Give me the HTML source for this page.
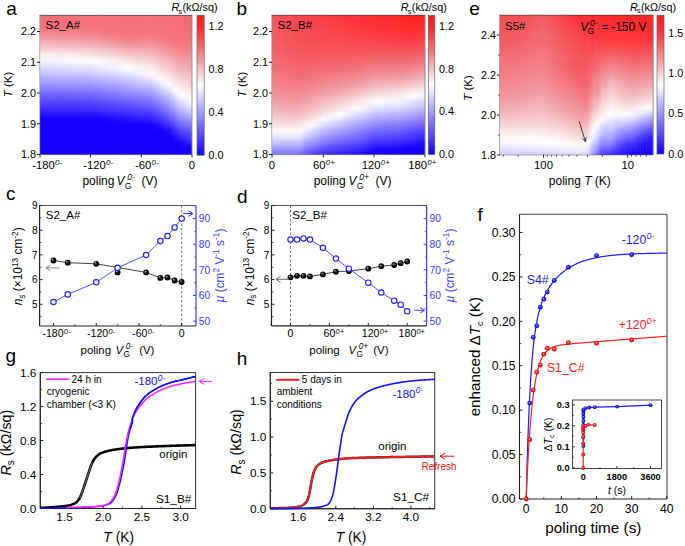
<!DOCTYPE html>
<html><head><meta charset="utf-8"><style>
html,body{margin:0;padding:0;background:#fff;}
svg{display:block;font-family:"Liberation Sans", sans-serif;}
</style></head><body>
<svg width="685" height="546" viewBox="0 0 685 546">
<defs><radialGradient id="sph" cx="0.5" cy="0.5" r="0.5" fx="0.32" fy="0.3"><stop offset="0" stop-color="#e0e0e0"/><stop offset="0.3" stop-color="#3a3a3a"/><stop offset="0.7" stop-color="#000"/><stop offset="1" stop-color="#000"/></radialGradient><radialGradient id="sphb" cx="0.5" cy="0.5" r="0.5" fx="0.4" fy="0.35"><stop offset="0" stop-color="#d0d0ff"/><stop offset="0.4" stop-color="#3030ff"/><stop offset="1" stop-color="#0000d0"/></radialGradient><radialGradient id="sphr" cx="0.5" cy="0.5" r="0.5" fx="0.4" fy="0.35"><stop offset="0" stop-color="#ffd0d0"/><stop offset="0.4" stop-color="#ff3030"/><stop offset="1" stop-color="#d00000"/></radialGradient><linearGradient id="g1" x1="0" y1="0" x2="0" y2="1"><stop offset="0" stop-color="#f37077"/><stop offset="0.04" stop-color="#f37178"/><stop offset="0.08" stop-color="#f3737a"/><stop offset="0.12" stop-color="#f3838a"/><stop offset="0.17" stop-color="#f29ea4"/><stop offset="0.21" stop-color="#f3b9be"/><stop offset="0.25" stop-color="#f6d6d9"/><stop offset="0.29" stop-color="#fcf2f3"/><stop offset="0.33" stop-color="#f3f2ff"/><stop offset="0.38" stop-color="#dcd9ff"/><stop offset="0.42" stop-color="#c5c0ff"/><stop offset="0.46" stop-color="#afa8ff"/><stop offset="0.5" stop-color="#988fff"/><stop offset="0.54" stop-color="#8176ff"/><stop offset="0.58" stop-color="#6a5eff"/><stop offset="0.62" stop-color="#5445ff"/><stop offset="0.67" stop-color="#3d2cff"/><stop offset="0.71" stop-color="#2614ff"/><stop offset="0.75" stop-color="#1400ff"/><stop offset="0.79" stop-color="#1400ff"/><stop offset="0.83" stop-color="#1400ff"/><stop offset="0.88" stop-color="#1400ff"/><stop offset="0.92" stop-color="#1400ff"/><stop offset="0.96" stop-color="#1400ff"/><stop offset="1" stop-color="#1400ff"/></linearGradient>
<linearGradient id="g2" x1="0" y1="0" x2="0" y2="1"><stop offset="0" stop-color="#f37077"/><stop offset="0.04" stop-color="#f37178"/><stop offset="0.08" stop-color="#f3737a"/><stop offset="0.12" stop-color="#f3838a"/><stop offset="0.17" stop-color="#f29da4"/><stop offset="0.21" stop-color="#f3b9be"/><stop offset="0.25" stop-color="#f6d6d9"/><stop offset="0.29" stop-color="#fcf2f3"/><stop offset="0.33" stop-color="#f3f2ff"/><stop offset="0.38" stop-color="#dcdaff"/><stop offset="0.42" stop-color="#c6c1ff"/><stop offset="0.46" stop-color="#afa8ff"/><stop offset="0.5" stop-color="#988fff"/><stop offset="0.54" stop-color="#8177ff"/><stop offset="0.58" stop-color="#6b5eff"/><stop offset="0.62" stop-color="#5445ff"/><stop offset="0.67" stop-color="#3d2dff"/><stop offset="0.71" stop-color="#2614ff"/><stop offset="0.75" stop-color="#1400ff"/><stop offset="0.79" stop-color="#1400ff"/><stop offset="0.83" stop-color="#1400ff"/><stop offset="0.88" stop-color="#1400ff"/><stop offset="0.92" stop-color="#1400ff"/><stop offset="0.96" stop-color="#1400ff"/><stop offset="1" stop-color="#1400ff"/></linearGradient>
<linearGradient id="g3" x1="0" y1="0" x2="0" y2="1"><stop offset="0" stop-color="#f37077"/><stop offset="0.04" stop-color="#f37178"/><stop offset="0.08" stop-color="#f3737a"/><stop offset="0.12" stop-color="#f38389"/><stop offset="0.17" stop-color="#f29da3"/><stop offset="0.21" stop-color="#f3b8be"/><stop offset="0.25" stop-color="#f6d5d8"/><stop offset="0.29" stop-color="#fcf1f2"/><stop offset="0.33" stop-color="#f4f3ff"/><stop offset="0.38" stop-color="#dddaff"/><stop offset="0.42" stop-color="#c6c1ff"/><stop offset="0.46" stop-color="#afa8ff"/><stop offset="0.5" stop-color="#9890ff"/><stop offset="0.54" stop-color="#8277ff"/><stop offset="0.58" stop-color="#6b5eff"/><stop offset="0.62" stop-color="#5446ff"/><stop offset="0.67" stop-color="#3d2dff"/><stop offset="0.71" stop-color="#2614ff"/><stop offset="0.75" stop-color="#1400ff"/><stop offset="0.79" stop-color="#1400ff"/><stop offset="0.83" stop-color="#1400ff"/><stop offset="0.88" stop-color="#1400ff"/><stop offset="0.92" stop-color="#1400ff"/><stop offset="0.96" stop-color="#1400ff"/><stop offset="1" stop-color="#1400ff"/></linearGradient>
<linearGradient id="g4" x1="0" y1="0" x2="0" y2="1"><stop offset="0" stop-color="#f37077"/><stop offset="0.04" stop-color="#f37178"/><stop offset="0.08" stop-color="#f3737a"/><stop offset="0.12" stop-color="#f38289"/><stop offset="0.17" stop-color="#f29da3"/><stop offset="0.21" stop-color="#f3b8bd"/><stop offset="0.25" stop-color="#f6d5d8"/><stop offset="0.29" stop-color="#fcf0f2"/><stop offset="0.33" stop-color="#f4f3ff"/><stop offset="0.38" stop-color="#dddaff"/><stop offset="0.42" stop-color="#c6c2ff"/><stop offset="0.46" stop-color="#b0a9ff"/><stop offset="0.5" stop-color="#9990ff"/><stop offset="0.54" stop-color="#8277ff"/><stop offset="0.58" stop-color="#6b5eff"/><stop offset="0.62" stop-color="#5446ff"/><stop offset="0.67" stop-color="#3d2dff"/><stop offset="0.71" stop-color="#2714ff"/><stop offset="0.75" stop-color="#1400ff"/><stop offset="0.79" stop-color="#1400ff"/><stop offset="0.83" stop-color="#1400ff"/><stop offset="0.88" stop-color="#1400ff"/><stop offset="0.92" stop-color="#1400ff"/><stop offset="0.96" stop-color="#1400ff"/><stop offset="1" stop-color="#1400ff"/></linearGradient>
<linearGradient id="g5" x1="0" y1="0" x2="0" y2="1"><stop offset="0" stop-color="#f37077"/><stop offset="0.04" stop-color="#f37178"/><stop offset="0.08" stop-color="#f3737a"/><stop offset="0.12" stop-color="#f38289"/><stop offset="0.17" stop-color="#f29ca2"/><stop offset="0.21" stop-color="#f3b7bd"/><stop offset="0.25" stop-color="#f6d4d7"/><stop offset="0.29" stop-color="#fcf0f1"/><stop offset="0.33" stop-color="#f5f4ff"/><stop offset="0.38" stop-color="#dedbff"/><stop offset="0.42" stop-color="#c7c2ff"/><stop offset="0.46" stop-color="#b0a9ff"/><stop offset="0.5" stop-color="#9990ff"/><stop offset="0.54" stop-color="#8278ff"/><stop offset="0.58" stop-color="#6b5fff"/><stop offset="0.62" stop-color="#5446ff"/><stop offset="0.67" stop-color="#3e2dff"/><stop offset="0.71" stop-color="#2714ff"/><stop offset="0.75" stop-color="#1400ff"/><stop offset="0.79" stop-color="#1400ff"/><stop offset="0.83" stop-color="#1400ff"/><stop offset="0.88" stop-color="#1400ff"/><stop offset="0.92" stop-color="#1400ff"/><stop offset="0.96" stop-color="#1400ff"/><stop offset="1" stop-color="#1400ff"/></linearGradient>
<linearGradient id="g6" x1="0" y1="0" x2="0" y2="1"><stop offset="0" stop-color="#f37077"/><stop offset="0.04" stop-color="#f37178"/><stop offset="0.08" stop-color="#f3737a"/><stop offset="0.12" stop-color="#f38288"/><stop offset="0.17" stop-color="#f29ca2"/><stop offset="0.21" stop-color="#f3b7bc"/><stop offset="0.25" stop-color="#f6d4d7"/><stop offset="0.29" stop-color="#fceff1"/><stop offset="0.33" stop-color="#f5f4ff"/><stop offset="0.38" stop-color="#dedbff"/><stop offset="0.42" stop-color="#c7c2ff"/><stop offset="0.46" stop-color="#b0aaff"/><stop offset="0.5" stop-color="#9991ff"/><stop offset="0.54" stop-color="#8278ff"/><stop offset="0.58" stop-color="#6c5fff"/><stop offset="0.62" stop-color="#5546ff"/><stop offset="0.67" stop-color="#3e2dff"/><stop offset="0.71" stop-color="#2714ff"/><stop offset="0.75" stop-color="#1400ff"/><stop offset="0.79" stop-color="#1400ff"/><stop offset="0.83" stop-color="#1400ff"/><stop offset="0.88" stop-color="#1400ff"/><stop offset="0.92" stop-color="#1400ff"/><stop offset="0.96" stop-color="#1400ff"/><stop offset="1" stop-color="#1400ff"/></linearGradient>
<linearGradient id="g7" x1="0" y1="0" x2="0" y2="1"><stop offset="0" stop-color="#f36f76"/><stop offset="0.04" stop-color="#f37178"/><stop offset="0.08" stop-color="#f3737a"/><stop offset="0.12" stop-color="#f38188"/><stop offset="0.17" stop-color="#f29ba2"/><stop offset="0.21" stop-color="#f3b6bc"/><stop offset="0.25" stop-color="#f6d3d6"/><stop offset="0.29" stop-color="#fbeff0"/><stop offset="0.33" stop-color="#f5f5ff"/><stop offset="0.38" stop-color="#dfdcff"/><stop offset="0.42" stop-color="#c8c3ff"/><stop offset="0.46" stop-color="#b1aaff"/><stop offset="0.5" stop-color="#9a91ff"/><stop offset="0.54" stop-color="#8378ff"/><stop offset="0.58" stop-color="#6c5fff"/><stop offset="0.62" stop-color="#5546ff"/><stop offset="0.67" stop-color="#3e2dff"/><stop offset="0.71" stop-color="#2715ff"/><stop offset="0.75" stop-color="#1400ff"/><stop offset="0.79" stop-color="#1400ff"/><stop offset="0.83" stop-color="#1400ff"/><stop offset="0.88" stop-color="#1400ff"/><stop offset="0.92" stop-color="#1400ff"/><stop offset="0.96" stop-color="#1400ff"/><stop offset="1" stop-color="#1400ff"/></linearGradient>
<linearGradient id="g8" x1="0" y1="0" x2="0" y2="1"><stop offset="0" stop-color="#f36f76"/><stop offset="0.04" stop-color="#f37178"/><stop offset="0.08" stop-color="#f3737a"/><stop offset="0.12" stop-color="#f38188"/><stop offset="0.17" stop-color="#f29ba1"/><stop offset="0.21" stop-color="#f3b6bb"/><stop offset="0.25" stop-color="#f6d3d6"/><stop offset="0.29" stop-color="#fbeef0"/><stop offset="0.33" stop-color="#f6f5ff"/><stop offset="0.38" stop-color="#dfdcff"/><stop offset="0.42" stop-color="#c8c3ff"/><stop offset="0.46" stop-color="#b1aaff"/><stop offset="0.5" stop-color="#9a91ff"/><stop offset="0.54" stop-color="#8378ff"/><stop offset="0.58" stop-color="#6c5fff"/><stop offset="0.62" stop-color="#5547ff"/><stop offset="0.67" stop-color="#3e2eff"/><stop offset="0.71" stop-color="#2715ff"/><stop offset="0.75" stop-color="#1400ff"/><stop offset="0.79" stop-color="#1400ff"/><stop offset="0.83" stop-color="#1400ff"/><stop offset="0.88" stop-color="#1400ff"/><stop offset="0.92" stop-color="#1400ff"/><stop offset="0.96" stop-color="#1400ff"/><stop offset="1" stop-color="#1400ff"/></linearGradient>
<linearGradient id="g9" x1="0" y1="0" x2="0" y2="1"><stop offset="0" stop-color="#f36f76"/><stop offset="0.04" stop-color="#f37178"/><stop offset="0.08" stop-color="#f3737a"/><stop offset="0.12" stop-color="#f38187"/><stop offset="0.17" stop-color="#f29ba1"/><stop offset="0.21" stop-color="#f3b6bb"/><stop offset="0.25" stop-color="#f6d2d5"/><stop offset="0.29" stop-color="#fbeeef"/><stop offset="0.33" stop-color="#f6f6ff"/><stop offset="0.38" stop-color="#dfddff"/><stop offset="0.42" stop-color="#c8c4ff"/><stop offset="0.46" stop-color="#b1abff"/><stop offset="0.5" stop-color="#9a92ff"/><stop offset="0.54" stop-color="#8379ff"/><stop offset="0.58" stop-color="#6c60ff"/><stop offset="0.62" stop-color="#5547ff"/><stop offset="0.67" stop-color="#3e2eff"/><stop offset="0.71" stop-color="#2715ff"/><stop offset="0.75" stop-color="#1400ff"/><stop offset="0.79" stop-color="#1400ff"/><stop offset="0.83" stop-color="#1400ff"/><stop offset="0.88" stop-color="#1400ff"/><stop offset="0.92" stop-color="#1400ff"/><stop offset="0.96" stop-color="#1400ff"/><stop offset="1" stop-color="#1400ff"/></linearGradient>
<linearGradient id="g10" x1="0" y1="0" x2="0" y2="1"><stop offset="0" stop-color="#f36f76"/><stop offset="0.04" stop-color="#f37178"/><stop offset="0.08" stop-color="#f3737a"/><stop offset="0.12" stop-color="#f38087"/><stop offset="0.17" stop-color="#f29aa1"/><stop offset="0.21" stop-color="#f3b5ba"/><stop offset="0.25" stop-color="#f6d2d5"/><stop offset="0.29" stop-color="#fbedef"/><stop offset="0.33" stop-color="#f7f6ff"/><stop offset="0.38" stop-color="#e0ddff"/><stop offset="0.42" stop-color="#c9c4ff"/><stop offset="0.46" stop-color="#b2abff"/><stop offset="0.5" stop-color="#9b92ff"/><stop offset="0.54" stop-color="#8479ff"/><stop offset="0.58" stop-color="#6c60ff"/><stop offset="0.62" stop-color="#5547ff"/><stop offset="0.67" stop-color="#3e2eff"/><stop offset="0.71" stop-color="#2715ff"/><stop offset="0.75" stop-color="#1400ff"/><stop offset="0.79" stop-color="#1400ff"/><stop offset="0.83" stop-color="#1400ff"/><stop offset="0.88" stop-color="#1400ff"/><stop offset="0.92" stop-color="#1400ff"/><stop offset="0.96" stop-color="#1400ff"/><stop offset="1" stop-color="#1400ff"/></linearGradient>
<linearGradient id="g11" x1="0" y1="0" x2="0" y2="1"><stop offset="0" stop-color="#f36f76"/><stop offset="0.04" stop-color="#f37178"/><stop offset="0.08" stop-color="#f3737a"/><stop offset="0.12" stop-color="#f38087"/><stop offset="0.17" stop-color="#f29aa0"/><stop offset="0.21" stop-color="#f3b5ba"/><stop offset="0.25" stop-color="#f6d1d4"/><stop offset="0.29" stop-color="#fbedee"/><stop offset="0.33" stop-color="#f7f7ff"/><stop offset="0.38" stop-color="#e0deff"/><stop offset="0.42" stop-color="#c9c5ff"/><stop offset="0.46" stop-color="#b2abff"/><stop offset="0.5" stop-color="#9b92ff"/><stop offset="0.54" stop-color="#8479ff"/><stop offset="0.58" stop-color="#6d60ff"/><stop offset="0.62" stop-color="#5647ff"/><stop offset="0.67" stop-color="#3e2eff"/><stop offset="0.71" stop-color="#2715ff"/><stop offset="0.75" stop-color="#1400ff"/><stop offset="0.79" stop-color="#1400ff"/><stop offset="0.83" stop-color="#1400ff"/><stop offset="0.88" stop-color="#1400ff"/><stop offset="0.92" stop-color="#1400ff"/><stop offset="0.96" stop-color="#1400ff"/><stop offset="1" stop-color="#1400ff"/></linearGradient>
<linearGradient id="g12" x1="0" y1="0" x2="0" y2="1"><stop offset="0" stop-color="#f36f76"/><stop offset="0.04" stop-color="#f37178"/><stop offset="0.08" stop-color="#f3737a"/><stop offset="0.12" stop-color="#f37f86"/><stop offset="0.17" stop-color="#f299a0"/><stop offset="0.21" stop-color="#f3b4ba"/><stop offset="0.25" stop-color="#f5d1d4"/><stop offset="0.29" stop-color="#fbecee"/><stop offset="0.33" stop-color="#f8f7ff"/><stop offset="0.38" stop-color="#e1deff"/><stop offset="0.42" stop-color="#c9c5ff"/><stop offset="0.46" stop-color="#b2acff"/><stop offset="0.5" stop-color="#9b93ff"/><stop offset="0.54" stop-color="#847aff"/><stop offset="0.58" stop-color="#6d60ff"/><stop offset="0.62" stop-color="#5647ff"/><stop offset="0.67" stop-color="#3f2eff"/><stop offset="0.71" stop-color="#2715ff"/><stop offset="0.75" stop-color="#1400ff"/><stop offset="0.79" stop-color="#1400ff"/><stop offset="0.83" stop-color="#1400ff"/><stop offset="0.88" stop-color="#1400ff"/><stop offset="0.92" stop-color="#1400ff"/><stop offset="0.96" stop-color="#1400ff"/><stop offset="1" stop-color="#1400ff"/></linearGradient>
<linearGradient id="g13" x1="0" y1="0" x2="0" y2="1"><stop offset="0" stop-color="#f36f76"/><stop offset="0.04" stop-color="#f37178"/><stop offset="0.08" stop-color="#f3737a"/><stop offset="0.12" stop-color="#f37f86"/><stop offset="0.17" stop-color="#f2999f"/><stop offset="0.21" stop-color="#f3b4b9"/><stop offset="0.25" stop-color="#f5d0d3"/><stop offset="0.29" stop-color="#fbeced"/><stop offset="0.33" stop-color="#f8f8ff"/><stop offset="0.38" stop-color="#e1deff"/><stop offset="0.42" stop-color="#cac5ff"/><stop offset="0.46" stop-color="#b3acff"/><stop offset="0.5" stop-color="#9c93ff"/><stop offset="0.54" stop-color="#847aff"/><stop offset="0.58" stop-color="#6d61ff"/><stop offset="0.62" stop-color="#5648ff"/><stop offset="0.67" stop-color="#3f2eff"/><stop offset="0.71" stop-color="#2815ff"/><stop offset="0.75" stop-color="#1400ff"/><stop offset="0.79" stop-color="#1400ff"/><stop offset="0.83" stop-color="#1400ff"/><stop offset="0.88" stop-color="#1400ff"/><stop offset="0.92" stop-color="#1400ff"/><stop offset="0.96" stop-color="#1400ff"/><stop offset="1" stop-color="#1400ff"/></linearGradient>
<linearGradient id="g14" x1="0" y1="0" x2="0" y2="1"><stop offset="0" stop-color="#f36f76"/><stop offset="0.04" stop-color="#f37178"/><stop offset="0.08" stop-color="#f3737a"/><stop offset="0.12" stop-color="#f37f86"/><stop offset="0.17" stop-color="#f2999f"/><stop offset="0.21" stop-color="#f3b3b9"/><stop offset="0.25" stop-color="#f5d0d3"/><stop offset="0.29" stop-color="#fbebed"/><stop offset="0.33" stop-color="#f9f8ff"/><stop offset="0.38" stop-color="#e1dfff"/><stop offset="0.42" stop-color="#cac6ff"/><stop offset="0.46" stop-color="#b3adff"/><stop offset="0.5" stop-color="#9c93ff"/><stop offset="0.54" stop-color="#857aff"/><stop offset="0.58" stop-color="#6d61ff"/><stop offset="0.62" stop-color="#5648ff"/><stop offset="0.67" stop-color="#3f2fff"/><stop offset="0.71" stop-color="#2815ff"/><stop offset="0.75" stop-color="#1400ff"/><stop offset="0.79" stop-color="#1400ff"/><stop offset="0.83" stop-color="#1400ff"/><stop offset="0.88" stop-color="#1400ff"/><stop offset="0.92" stop-color="#1400ff"/><stop offset="0.96" stop-color="#1400ff"/><stop offset="1" stop-color="#1400ff"/></linearGradient>
<linearGradient id="g15" x1="0" y1="0" x2="0" y2="1"><stop offset="0" stop-color="#f36f76"/><stop offset="0.04" stop-color="#f37178"/><stop offset="0.08" stop-color="#f3737a"/><stop offset="0.12" stop-color="#f37e85"/><stop offset="0.17" stop-color="#f2989f"/><stop offset="0.21" stop-color="#f3b3b8"/><stop offset="0.25" stop-color="#f5cfd3"/><stop offset="0.29" stop-color="#fbebec"/><stop offset="0.33" stop-color="#f9f9ff"/><stop offset="0.38" stop-color="#e2dfff"/><stop offset="0.42" stop-color="#cbc6ff"/><stop offset="0.46" stop-color="#b3adff"/><stop offset="0.5" stop-color="#9c94ff"/><stop offset="0.54" stop-color="#857aff"/><stop offset="0.58" stop-color="#6e61ff"/><stop offset="0.62" stop-color="#5648ff"/><stop offset="0.67" stop-color="#3f2fff"/><stop offset="0.71" stop-color="#2816ff"/><stop offset="0.75" stop-color="#1400ff"/><stop offset="0.79" stop-color="#1400ff"/><stop offset="0.83" stop-color="#1400ff"/><stop offset="0.88" stop-color="#1400ff"/><stop offset="0.92" stop-color="#1400ff"/><stop offset="0.96" stop-color="#1400ff"/><stop offset="1" stop-color="#1400ff"/></linearGradient>
<linearGradient id="g16" x1="0" y1="0" x2="0" y2="1"><stop offset="0" stop-color="#f36f76"/><stop offset="0.04" stop-color="#f37178"/><stop offset="0.08" stop-color="#f3737a"/><stop offset="0.12" stop-color="#f37e85"/><stop offset="0.17" stop-color="#f2989e"/><stop offset="0.21" stop-color="#f3b2b8"/><stop offset="0.25" stop-color="#f5cfd2"/><stop offset="0.29" stop-color="#faeaec"/><stop offset="0.33" stop-color="#faf9ff"/><stop offset="0.38" stop-color="#e2e0ff"/><stop offset="0.42" stop-color="#cbc7ff"/><stop offset="0.46" stop-color="#b4adff"/><stop offset="0.5" stop-color="#9c94ff"/><stop offset="0.54" stop-color="#857bff"/><stop offset="0.58" stop-color="#6e61ff"/><stop offset="0.62" stop-color="#5748ff"/><stop offset="0.67" stop-color="#3f2fff"/><stop offset="0.71" stop-color="#2816ff"/><stop offset="0.75" stop-color="#1400ff"/><stop offset="0.79" stop-color="#1400ff"/><stop offset="0.83" stop-color="#1400ff"/><stop offset="0.88" stop-color="#1400ff"/><stop offset="0.92" stop-color="#1400ff"/><stop offset="0.96" stop-color="#1400ff"/><stop offset="1" stop-color="#1400ff"/></linearGradient>
<linearGradient id="g17" x1="0" y1="0" x2="0" y2="1"><stop offset="0" stop-color="#f36f76"/><stop offset="0.04" stop-color="#f37178"/><stop offset="0.08" stop-color="#f3737a"/><stop offset="0.12" stop-color="#f37e85"/><stop offset="0.17" stop-color="#f2979e"/><stop offset="0.21" stop-color="#f3b2b7"/><stop offset="0.25" stop-color="#f5ced2"/><stop offset="0.29" stop-color="#faeaeb"/><stop offset="0.33" stop-color="#fafaff"/><stop offset="0.38" stop-color="#e3e0ff"/><stop offset="0.42" stop-color="#cbc7ff"/><stop offset="0.46" stop-color="#b4aeff"/><stop offset="0.5" stop-color="#9d94ff"/><stop offset="0.54" stop-color="#857bff"/><stop offset="0.58" stop-color="#6e62ff"/><stop offset="0.62" stop-color="#5748ff"/><stop offset="0.67" stop-color="#3f2fff"/><stop offset="0.71" stop-color="#2816ff"/><stop offset="0.75" stop-color="#1400ff"/><stop offset="0.79" stop-color="#1400ff"/><stop offset="0.83" stop-color="#1400ff"/><stop offset="0.88" stop-color="#1400ff"/><stop offset="0.92" stop-color="#1400ff"/><stop offset="0.96" stop-color="#1400ff"/><stop offset="1" stop-color="#1400ff"/></linearGradient>
<linearGradient id="g18" x1="0" y1="0" x2="0" y2="1"><stop offset="0" stop-color="#f36f76"/><stop offset="0.04" stop-color="#f37178"/><stop offset="0.08" stop-color="#f3737a"/><stop offset="0.12" stop-color="#f37d84"/><stop offset="0.17" stop-color="#f2979d"/><stop offset="0.21" stop-color="#f3b1b7"/><stop offset="0.25" stop-color="#f5ced1"/><stop offset="0.29" stop-color="#fae9eb"/><stop offset="0.33" stop-color="#fbfaff"/><stop offset="0.38" stop-color="#e3e1ff"/><stop offset="0.42" stop-color="#ccc7ff"/><stop offset="0.46" stop-color="#b4aeff"/><stop offset="0.5" stop-color="#9d95ff"/><stop offset="0.54" stop-color="#867bff"/><stop offset="0.58" stop-color="#6e62ff"/><stop offset="0.62" stop-color="#5749ff"/><stop offset="0.67" stop-color="#402fff"/><stop offset="0.71" stop-color="#2816ff"/><stop offset="0.75" stop-color="#1400ff"/><stop offset="0.79" stop-color="#1400ff"/><stop offset="0.83" stop-color="#1400ff"/><stop offset="0.88" stop-color="#1400ff"/><stop offset="0.92" stop-color="#1400ff"/><stop offset="0.96" stop-color="#1400ff"/><stop offset="1" stop-color="#1400ff"/></linearGradient>
<linearGradient id="g19" x1="0" y1="0" x2="0" y2="1"><stop offset="0" stop-color="#f36f76"/><stop offset="0.04" stop-color="#f37178"/><stop offset="0.08" stop-color="#f3737a"/><stop offset="0.12" stop-color="#f37d84"/><stop offset="0.17" stop-color="#f2979d"/><stop offset="0.21" stop-color="#f2b1b7"/><stop offset="0.25" stop-color="#f5cdd1"/><stop offset="0.29" stop-color="#fae9ea"/><stop offset="0.33" stop-color="#fbfbff"/><stop offset="0.38" stop-color="#e4e1ff"/><stop offset="0.42" stop-color="#ccc8ff"/><stop offset="0.46" stop-color="#b5aeff"/><stop offset="0.5" stop-color="#9d95ff"/><stop offset="0.54" stop-color="#867cff"/><stop offset="0.58" stop-color="#6f62ff"/><stop offset="0.62" stop-color="#5749ff"/><stop offset="0.67" stop-color="#402fff"/><stop offset="0.71" stop-color="#2816ff"/><stop offset="0.75" stop-color="#1400ff"/><stop offset="0.79" stop-color="#1400ff"/><stop offset="0.83" stop-color="#1400ff"/><stop offset="0.88" stop-color="#1400ff"/><stop offset="0.92" stop-color="#1400ff"/><stop offset="0.96" stop-color="#1400ff"/><stop offset="1" stop-color="#1400ff"/></linearGradient>
<linearGradient id="g20" x1="0" y1="0" x2="0" y2="1"><stop offset="0" stop-color="#f36f76"/><stop offset="0.04" stop-color="#f37178"/><stop offset="0.08" stop-color="#f3737a"/><stop offset="0.12" stop-color="#f37d83"/><stop offset="0.17" stop-color="#f2969d"/><stop offset="0.21" stop-color="#f2b0b6"/><stop offset="0.25" stop-color="#f5cdd0"/><stop offset="0.29" stop-color="#fae8ea"/><stop offset="0.33" stop-color="#fbfbff"/><stop offset="0.38" stop-color="#e4e2ff"/><stop offset="0.42" stop-color="#cdc8ff"/><stop offset="0.46" stop-color="#b5afff"/><stop offset="0.5" stop-color="#9e95ff"/><stop offset="0.54" stop-color="#867cff"/><stop offset="0.58" stop-color="#6f63ff"/><stop offset="0.62" stop-color="#5749ff"/><stop offset="0.67" stop-color="#4030ff"/><stop offset="0.71" stop-color="#2816ff"/><stop offset="0.75" stop-color="#1400ff"/><stop offset="0.79" stop-color="#1400ff"/><stop offset="0.83" stop-color="#1400ff"/><stop offset="0.88" stop-color="#1400ff"/><stop offset="0.92" stop-color="#1400ff"/><stop offset="0.96" stop-color="#1400ff"/><stop offset="1" stop-color="#1400ff"/></linearGradient>
<linearGradient id="g21" x1="0" y1="0" x2="0" y2="1"><stop offset="0" stop-color="#f36f76"/><stop offset="0.04" stop-color="#f37178"/><stop offset="0.08" stop-color="#f3737a"/><stop offset="0.12" stop-color="#f37c83"/><stop offset="0.17" stop-color="#f2969c"/><stop offset="0.21" stop-color="#f2b0b6"/><stop offset="0.25" stop-color="#f5ccd0"/><stop offset="0.29" stop-color="#fae7e9"/><stop offset="0.33" stop-color="#fcfcff"/><stop offset="0.38" stop-color="#e5e2ff"/><stop offset="0.42" stop-color="#cdc9ff"/><stop offset="0.46" stop-color="#b6afff"/><stop offset="0.5" stop-color="#9e96ff"/><stop offset="0.54" stop-color="#877cff"/><stop offset="0.58" stop-color="#6f63ff"/><stop offset="0.62" stop-color="#5849ff"/><stop offset="0.67" stop-color="#4030ff"/><stop offset="0.71" stop-color="#2916ff"/><stop offset="0.75" stop-color="#1400ff"/><stop offset="0.79" stop-color="#1400ff"/><stop offset="0.83" stop-color="#1400ff"/><stop offset="0.88" stop-color="#1400ff"/><stop offset="0.92" stop-color="#1400ff"/><stop offset="0.96" stop-color="#1400ff"/><stop offset="1" stop-color="#1400ff"/></linearGradient>
<linearGradient id="g22" x1="0" y1="0" x2="0" y2="1"><stop offset="0" stop-color="#f36f76"/><stop offset="0.04" stop-color="#f37178"/><stop offset="0.08" stop-color="#f3737a"/><stop offset="0.12" stop-color="#f37b82"/><stop offset="0.17" stop-color="#f2949b"/><stop offset="0.21" stop-color="#f2aeb4"/><stop offset="0.25" stop-color="#f5cace"/><stop offset="0.29" stop-color="#f9e6e7"/><stop offset="0.33" stop-color="#fefdff"/><stop offset="0.38" stop-color="#e6e4ff"/><stop offset="0.42" stop-color="#cfcaff"/><stop offset="0.46" stop-color="#b7b1ff"/><stop offset="0.5" stop-color="#a097ff"/><stop offset="0.54" stop-color="#887eff"/><stop offset="0.58" stop-color="#7064ff"/><stop offset="0.62" stop-color="#594bff"/><stop offset="0.67" stop-color="#4131ff"/><stop offset="0.71" stop-color="#2a18ff"/><stop offset="0.75" stop-color="#1400ff"/><stop offset="0.79" stop-color="#1400ff"/><stop offset="0.83" stop-color="#1400ff"/><stop offset="0.88" stop-color="#1400ff"/><stop offset="0.92" stop-color="#1400ff"/><stop offset="0.96" stop-color="#1400ff"/><stop offset="1" stop-color="#1400ff"/></linearGradient>
<linearGradient id="g23" x1="0" y1="0" x2="0" y2="1"><stop offset="0" stop-color="#f36f76"/><stop offset="0.04" stop-color="#f37178"/><stop offset="0.08" stop-color="#f3737a"/><stop offset="0.12" stop-color="#f37980"/><stop offset="0.17" stop-color="#f29399"/><stop offset="0.21" stop-color="#f2acb2"/><stop offset="0.25" stop-color="#f5c8cc"/><stop offset="0.29" stop-color="#f9e4e6"/><stop offset="0.33" stop-color="#ffffff"/><stop offset="0.38" stop-color="#e8e6ff"/><stop offset="0.42" stop-color="#d0ccff"/><stop offset="0.46" stop-color="#b8b2ff"/><stop offset="0.5" stop-color="#a199ff"/><stop offset="0.54" stop-color="#897fff"/><stop offset="0.58" stop-color="#7266ff"/><stop offset="0.62" stop-color="#5a4cff"/><stop offset="0.67" stop-color="#4333ff"/><stop offset="0.71" stop-color="#2b19ff"/><stop offset="0.75" stop-color="#1400ff"/><stop offset="0.79" stop-color="#1400ff"/><stop offset="0.83" stop-color="#1400ff"/><stop offset="0.88" stop-color="#1400ff"/><stop offset="0.92" stop-color="#1400ff"/><stop offset="0.96" stop-color="#1400ff"/><stop offset="1" stop-color="#1400ff"/></linearGradient>
<linearGradient id="g24" x1="0" y1="0" x2="0" y2="1"><stop offset="0" stop-color="#f36f76"/><stop offset="0.04" stop-color="#f37178"/><stop offset="0.08" stop-color="#f37279"/><stop offset="0.12" stop-color="#f3787f"/><stop offset="0.17" stop-color="#f29198"/><stop offset="0.21" stop-color="#f2abb1"/><stop offset="0.25" stop-color="#f5c7cb"/><stop offset="0.29" stop-color="#f9e2e4"/><stop offset="0.33" stop-color="#fffdfd"/><stop offset="0.38" stop-color="#e9e7ff"/><stop offset="0.42" stop-color="#d2ceff"/><stop offset="0.46" stop-color="#bab4ff"/><stop offset="0.5" stop-color="#a29aff"/><stop offset="0.54" stop-color="#8b81ff"/><stop offset="0.58" stop-color="#7367ff"/><stop offset="0.62" stop-color="#5c4eff"/><stop offset="0.67" stop-color="#4434ff"/><stop offset="0.71" stop-color="#2c1aff"/><stop offset="0.75" stop-color="#1501ff"/><stop offset="0.79" stop-color="#1400ff"/><stop offset="0.83" stop-color="#1400ff"/><stop offset="0.88" stop-color="#1400ff"/><stop offset="0.92" stop-color="#1400ff"/><stop offset="0.96" stop-color="#1400ff"/><stop offset="1" stop-color="#1400ff"/></linearGradient>
<linearGradient id="g25" x1="0" y1="0" x2="0" y2="1"><stop offset="0" stop-color="#f36f76"/><stop offset="0.04" stop-color="#f37178"/><stop offset="0.08" stop-color="#f37279"/><stop offset="0.12" stop-color="#f3767d"/><stop offset="0.17" stop-color="#f29096"/><stop offset="0.21" stop-color="#f2a9af"/><stop offset="0.25" stop-color="#f4c5c9"/><stop offset="0.29" stop-color="#f8e0e3"/><stop offset="0.33" stop-color="#fefbfc"/><stop offset="0.38" stop-color="#ebe9ff"/><stop offset="0.42" stop-color="#d3cfff"/><stop offset="0.46" stop-color="#bbb6ff"/><stop offset="0.5" stop-color="#a49cff"/><stop offset="0.54" stop-color="#8c82ff"/><stop offset="0.58" stop-color="#7469ff"/><stop offset="0.62" stop-color="#5d4fff"/><stop offset="0.67" stop-color="#4535ff"/><stop offset="0.71" stop-color="#2e1cff"/><stop offset="0.75" stop-color="#1602ff"/><stop offset="0.79" stop-color="#1400ff"/><stop offset="0.83" stop-color="#1400ff"/><stop offset="0.88" stop-color="#1400ff"/><stop offset="0.92" stop-color="#1400ff"/><stop offset="0.96" stop-color="#1400ff"/><stop offset="1" stop-color="#1400ff"/></linearGradient>
<linearGradient id="g26" x1="0" y1="0" x2="0" y2="1"><stop offset="0" stop-color="#f36f76"/><stop offset="0.04" stop-color="#f37077"/><stop offset="0.08" stop-color="#f37279"/><stop offset="0.12" stop-color="#f3757c"/><stop offset="0.17" stop-color="#f38e95"/><stop offset="0.21" stop-color="#f2a8ae"/><stop offset="0.25" stop-color="#f4c3c7"/><stop offset="0.29" stop-color="#f8dfe1"/><stop offset="0.33" stop-color="#fef9fa"/><stop offset="0.38" stop-color="#ecebff"/><stop offset="0.42" stop-color="#d5d1ff"/><stop offset="0.46" stop-color="#bdb7ff"/><stop offset="0.5" stop-color="#a59eff"/><stop offset="0.54" stop-color="#8d84ff"/><stop offset="0.58" stop-color="#766aff"/><stop offset="0.62" stop-color="#5e50ff"/><stop offset="0.67" stop-color="#4637ff"/><stop offset="0.71" stop-color="#2f1dff"/><stop offset="0.75" stop-color="#1703ff"/><stop offset="0.79" stop-color="#1400ff"/><stop offset="0.83" stop-color="#1400ff"/><stop offset="0.88" stop-color="#1400ff"/><stop offset="0.92" stop-color="#1400ff"/><stop offset="0.96" stop-color="#1400ff"/><stop offset="1" stop-color="#1400ff"/></linearGradient>
<linearGradient id="g27" x1="0" y1="0" x2="0" y2="1"><stop offset="0" stop-color="#f36f76"/><stop offset="0.04" stop-color="#f37077"/><stop offset="0.08" stop-color="#f37279"/><stop offset="0.12" stop-color="#f3747b"/><stop offset="0.17" stop-color="#f38d93"/><stop offset="0.21" stop-color="#f2a6ac"/><stop offset="0.25" stop-color="#f4c1c6"/><stop offset="0.29" stop-color="#f8dddf"/><stop offset="0.33" stop-color="#fdf8f8"/><stop offset="0.38" stop-color="#eeecff"/><stop offset="0.42" stop-color="#d6d3ff"/><stop offset="0.46" stop-color="#beb9ff"/><stop offset="0.5" stop-color="#a79fff"/><stop offset="0.54" stop-color="#8f85ff"/><stop offset="0.58" stop-color="#776cff"/><stop offset="0.62" stop-color="#5f52ff"/><stop offset="0.67" stop-color="#4838ff"/><stop offset="0.71" stop-color="#301eff"/><stop offset="0.75" stop-color="#1805ff"/><stop offset="0.79" stop-color="#1400ff"/><stop offset="0.83" stop-color="#1400ff"/><stop offset="0.88" stop-color="#1400ff"/><stop offset="0.92" stop-color="#1400ff"/><stop offset="0.96" stop-color="#1400ff"/><stop offset="1" stop-color="#1400ff"/></linearGradient>
<linearGradient id="g28" x1="0" y1="0" x2="0" y2="1"><stop offset="0" stop-color="#f36e75"/><stop offset="0.04" stop-color="#f37077"/><stop offset="0.08" stop-color="#f37279"/><stop offset="0.12" stop-color="#f3747b"/><stop offset="0.17" stop-color="#f38b92"/><stop offset="0.21" stop-color="#f2a4ab"/><stop offset="0.25" stop-color="#f4c0c4"/><stop offset="0.29" stop-color="#f7dbde"/><stop offset="0.33" stop-color="#fdf6f7"/><stop offset="0.38" stop-color="#efeeff"/><stop offset="0.42" stop-color="#d8d4ff"/><stop offset="0.46" stop-color="#c0baff"/><stop offset="0.5" stop-color="#a8a1ff"/><stop offset="0.54" stop-color="#9087ff"/><stop offset="0.58" stop-color="#786dff"/><stop offset="0.62" stop-color="#6153ff"/><stop offset="0.67" stop-color="#4939ff"/><stop offset="0.71" stop-color="#3120ff"/><stop offset="0.75" stop-color="#1906ff"/><stop offset="0.79" stop-color="#1400ff"/><stop offset="0.83" stop-color="#1400ff"/><stop offset="0.88" stop-color="#1400ff"/><stop offset="0.92" stop-color="#1400ff"/><stop offset="0.96" stop-color="#1400ff"/><stop offset="1" stop-color="#1400ff"/></linearGradient>
<linearGradient id="g29" x1="0" y1="0" x2="0" y2="1"><stop offset="0" stop-color="#f36e75"/><stop offset="0.04" stop-color="#f37077"/><stop offset="0.08" stop-color="#f37279"/><stop offset="0.12" stop-color="#f3747b"/><stop offset="0.17" stop-color="#f38a90"/><stop offset="0.21" stop-color="#f2a3a9"/><stop offset="0.25" stop-color="#f4bec3"/><stop offset="0.29" stop-color="#f7d9dc"/><stop offset="0.33" stop-color="#fdf4f5"/><stop offset="0.38" stop-color="#f1f0ff"/><stop offset="0.42" stop-color="#d9d6ff"/><stop offset="0.46" stop-color="#c1bcff"/><stop offset="0.5" stop-color="#a9a2ff"/><stop offset="0.54" stop-color="#9288ff"/><stop offset="0.58" stop-color="#7a6fff"/><stop offset="0.62" stop-color="#6255ff"/><stop offset="0.67" stop-color="#4a3bff"/><stop offset="0.71" stop-color="#3221ff"/><stop offset="0.75" stop-color="#1b07ff"/><stop offset="0.79" stop-color="#1400ff"/><stop offset="0.83" stop-color="#1400ff"/><stop offset="0.88" stop-color="#1400ff"/><stop offset="0.92" stop-color="#1400ff"/><stop offset="0.96" stop-color="#1400ff"/><stop offset="1" stop-color="#1400ff"/></linearGradient>
<linearGradient id="g30" x1="0" y1="0" x2="0" y2="1"><stop offset="0" stop-color="#f36e75"/><stop offset="0.04" stop-color="#f37077"/><stop offset="0.08" stop-color="#f37279"/><stop offset="0.12" stop-color="#f3747b"/><stop offset="0.17" stop-color="#f3888f"/><stop offset="0.21" stop-color="#f2a1a7"/><stop offset="0.25" stop-color="#f4bcc1"/><stop offset="0.29" stop-color="#f6d8db"/><stop offset="0.33" stop-color="#fcf2f3"/><stop offset="0.38" stop-color="#f2f1ff"/><stop offset="0.42" stop-color="#dbd7ff"/><stop offset="0.46" stop-color="#c3beff"/><stop offset="0.5" stop-color="#aba4ff"/><stop offset="0.54" stop-color="#938aff"/><stop offset="0.58" stop-color="#7b70ff"/><stop offset="0.62" stop-color="#6356ff"/><stop offset="0.67" stop-color="#4c3cff"/><stop offset="0.71" stop-color="#3422ff"/><stop offset="0.75" stop-color="#1c08ff"/><stop offset="0.79" stop-color="#1400ff"/><stop offset="0.83" stop-color="#1400ff"/><stop offset="0.88" stop-color="#1400ff"/><stop offset="0.92" stop-color="#1400ff"/><stop offset="0.96" stop-color="#1400ff"/><stop offset="1" stop-color="#1400ff"/></linearGradient>
<linearGradient id="g31" x1="0" y1="0" x2="0" y2="1"><stop offset="0" stop-color="#f36e75"/><stop offset="0.04" stop-color="#f37077"/><stop offset="0.08" stop-color="#f37279"/><stop offset="0.12" stop-color="#f3747b"/><stop offset="0.17" stop-color="#f3868d"/><stop offset="0.21" stop-color="#f2a0a6"/><stop offset="0.25" stop-color="#f3babf"/><stop offset="0.29" stop-color="#f6d6d9"/><stop offset="0.33" stop-color="#fcf1f2"/><stop offset="0.38" stop-color="#f4f3ff"/><stop offset="0.42" stop-color="#dcd9ff"/><stop offset="0.46" stop-color="#c4bfff"/><stop offset="0.5" stop-color="#aca5ff"/><stop offset="0.54" stop-color="#948bff"/><stop offset="0.58" stop-color="#7d71ff"/><stop offset="0.62" stop-color="#6558ff"/><stop offset="0.67" stop-color="#4d3eff"/><stop offset="0.71" stop-color="#3524ff"/><stop offset="0.75" stop-color="#1d0aff"/><stop offset="0.79" stop-color="#1400ff"/><stop offset="0.83" stop-color="#1400ff"/><stop offset="0.88" stop-color="#1400ff"/><stop offset="0.92" stop-color="#1400ff"/><stop offset="0.96" stop-color="#1400ff"/><stop offset="1" stop-color="#1400ff"/></linearGradient>
<linearGradient id="g32" x1="0" y1="0" x2="0" y2="1"><stop offset="0" stop-color="#f36e75"/><stop offset="0.04" stop-color="#f37077"/><stop offset="0.08" stop-color="#f37279"/><stop offset="0.12" stop-color="#f3737a"/><stop offset="0.17" stop-color="#f3848b"/><stop offset="0.21" stop-color="#f29ea4"/><stop offset="0.25" stop-color="#f3b8bd"/><stop offset="0.29" stop-color="#f6d4d7"/><stop offset="0.33" stop-color="#fbeeef"/><stop offset="0.38" stop-color="#f6f5ff"/><stop offset="0.42" stop-color="#dedbff"/><stop offset="0.46" stop-color="#c6c1ff"/><stop offset="0.5" stop-color="#aea7ff"/><stop offset="0.54" stop-color="#968eff"/><stop offset="0.58" stop-color="#7e74ff"/><stop offset="0.62" stop-color="#675aff"/><stop offset="0.67" stop-color="#4f40ff"/><stop offset="0.71" stop-color="#3726ff"/><stop offset="0.75" stop-color="#1f0cff"/><stop offset="0.79" stop-color="#1400ff"/><stop offset="0.83" stop-color="#1400ff"/><stop offset="0.88" stop-color="#1400ff"/><stop offset="0.92" stop-color="#1400ff"/><stop offset="0.96" stop-color="#1400ff"/><stop offset="1" stop-color="#1400ff"/></linearGradient>
<linearGradient id="g33" x1="0" y1="0" x2="0" y2="1"><stop offset="0" stop-color="#f36e75"/><stop offset="0.04" stop-color="#f37077"/><stop offset="0.08" stop-color="#f37178"/><stop offset="0.12" stop-color="#f3737a"/><stop offset="0.17" stop-color="#f38289"/><stop offset="0.21" stop-color="#f29ba1"/><stop offset="0.25" stop-color="#f3b5bb"/><stop offset="0.29" stop-color="#f6d1d4"/><stop offset="0.33" stop-color="#fbeced"/><stop offset="0.38" stop-color="#f8f8ff"/><stop offset="0.42" stop-color="#e0deff"/><stop offset="0.46" stop-color="#c8c4ff"/><stop offset="0.5" stop-color="#b0aaff"/><stop offset="0.54" stop-color="#9890ff"/><stop offset="0.58" stop-color="#8076ff"/><stop offset="0.62" stop-color="#685cff"/><stop offset="0.67" stop-color="#5041ff"/><stop offset="0.71" stop-color="#3827ff"/><stop offset="0.75" stop-color="#200dff"/><stop offset="0.79" stop-color="#1400ff"/><stop offset="0.83" stop-color="#1400ff"/><stop offset="0.88" stop-color="#1400ff"/><stop offset="0.92" stop-color="#1400ff"/><stop offset="0.96" stop-color="#1400ff"/><stop offset="1" stop-color="#1400ff"/></linearGradient>
<linearGradient id="g34" x1="0" y1="0" x2="0" y2="1"><stop offset="0" stop-color="#f36e75"/><stop offset="0.04" stop-color="#f36f76"/><stop offset="0.08" stop-color="#f37178"/><stop offset="0.12" stop-color="#f3737a"/><stop offset="0.17" stop-color="#f38086"/><stop offset="0.21" stop-color="#f2999f"/><stop offset="0.25" stop-color="#f3b3b8"/><stop offset="0.29" stop-color="#f5ced2"/><stop offset="0.33" stop-color="#fae9eb"/><stop offset="0.38" stop-color="#fbfbff"/><stop offset="0.42" stop-color="#e3e0ff"/><stop offset="0.46" stop-color="#cbc6ff"/><stop offset="0.5" stop-color="#b2acff"/><stop offset="0.54" stop-color="#9a92ff"/><stop offset="0.58" stop-color="#8277ff"/><stop offset="0.62" stop-color="#6a5dff"/><stop offset="0.67" stop-color="#5243ff"/><stop offset="0.71" stop-color="#3929ff"/><stop offset="0.75" stop-color="#210eff"/><stop offset="0.79" stop-color="#1400ff"/><stop offset="0.83" stop-color="#1400ff"/><stop offset="0.88" stop-color="#1400ff"/><stop offset="0.92" stop-color="#1400ff"/><stop offset="0.96" stop-color="#1400ff"/><stop offset="1" stop-color="#1400ff"/></linearGradient>
<linearGradient id="g35" x1="0" y1="0" x2="0" y2="1"><stop offset="0" stop-color="#f36d74"/><stop offset="0.04" stop-color="#f36f76"/><stop offset="0.08" stop-color="#f37178"/><stop offset="0.12" stop-color="#f3737a"/><stop offset="0.17" stop-color="#f37d84"/><stop offset="0.21" stop-color="#f2969d"/><stop offset="0.25" stop-color="#f2b0b6"/><stop offset="0.29" stop-color="#f5cbcf"/><stop offset="0.33" stop-color="#fae6e8"/><stop offset="0.38" stop-color="#fdfdff"/><stop offset="0.42" stop-color="#e5e3ff"/><stop offset="0.46" stop-color="#cdc8ff"/><stop offset="0.5" stop-color="#b4aeff"/><stop offset="0.54" stop-color="#9c94ff"/><stop offset="0.58" stop-color="#8479ff"/><stop offset="0.62" stop-color="#6b5fff"/><stop offset="0.67" stop-color="#5344ff"/><stop offset="0.71" stop-color="#3b2aff"/><stop offset="0.75" stop-color="#220fff"/><stop offset="0.79" stop-color="#1400ff"/><stop offset="0.83" stop-color="#1400ff"/><stop offset="0.88" stop-color="#1400ff"/><stop offset="0.92" stop-color="#1400ff"/><stop offset="0.96" stop-color="#1400ff"/><stop offset="1" stop-color="#1400ff"/></linearGradient>
<linearGradient id="g36" x1="0" y1="0" x2="0" y2="1"><stop offset="0" stop-color="#f36d74"/><stop offset="0.04" stop-color="#f36f76"/><stop offset="0.08" stop-color="#f37178"/><stop offset="0.12" stop-color="#f3737a"/><stop offset="0.17" stop-color="#f37b82"/><stop offset="0.21" stop-color="#f2949a"/><stop offset="0.25" stop-color="#f2adb3"/><stop offset="0.29" stop-color="#f5c9cd"/><stop offset="0.33" stop-color="#f9e4e6"/><stop offset="0.38" stop-color="#fffefe"/><stop offset="0.42" stop-color="#e7e5ff"/><stop offset="0.46" stop-color="#cfcbff"/><stop offset="0.5" stop-color="#b6b0ff"/><stop offset="0.54" stop-color="#9e95ff"/><stop offset="0.58" stop-color="#857bff"/><stop offset="0.62" stop-color="#6d60ff"/><stop offset="0.67" stop-color="#5446ff"/><stop offset="0.71" stop-color="#3c2bff"/><stop offset="0.75" stop-color="#2310ff"/><stop offset="0.79" stop-color="#1400ff"/><stop offset="0.83" stop-color="#1400ff"/><stop offset="0.88" stop-color="#1400ff"/><stop offset="0.92" stop-color="#1400ff"/><stop offset="0.96" stop-color="#1400ff"/><stop offset="1" stop-color="#1400ff"/></linearGradient>
<linearGradient id="g37" x1="0" y1="0" x2="0" y2="1"><stop offset="0" stop-color="#f36d74"/><stop offset="0.04" stop-color="#f36f76"/><stop offset="0.08" stop-color="#f37178"/><stop offset="0.12" stop-color="#f3737a"/><stop offset="0.17" stop-color="#f37a81"/><stop offset="0.21" stop-color="#f2939a"/><stop offset="0.25" stop-color="#f2acb2"/><stop offset="0.29" stop-color="#f5c7cb"/><stop offset="0.33" stop-color="#f9e2e4"/><stop offset="0.38" stop-color="#fefcfc"/><stop offset="0.42" stop-color="#eae8ff"/><stop offset="0.46" stop-color="#d1cdff"/><stop offset="0.5" stop-color="#b8b2ff"/><stop offset="0.54" stop-color="#a097ff"/><stop offset="0.58" stop-color="#877dff"/><stop offset="0.62" stop-color="#6e62ff"/><stop offset="0.67" stop-color="#5647ff"/><stop offset="0.71" stop-color="#3d2cff"/><stop offset="0.75" stop-color="#2412ff"/><stop offset="0.79" stop-color="#1400ff"/><stop offset="0.83" stop-color="#1400ff"/><stop offset="0.88" stop-color="#1400ff"/><stop offset="0.92" stop-color="#1400ff"/><stop offset="0.96" stop-color="#1400ff"/><stop offset="1" stop-color="#1400ff"/></linearGradient>
<linearGradient id="g38" x1="0" y1="0" x2="0" y2="1"><stop offset="0" stop-color="#f36d74"/><stop offset="0.04" stop-color="#f36f76"/><stop offset="0.08" stop-color="#f37178"/><stop offset="0.12" stop-color="#f3737a"/><stop offset="0.17" stop-color="#f37c83"/><stop offset="0.21" stop-color="#f2949a"/><stop offset="0.25" stop-color="#f2acb2"/><stop offset="0.29" stop-color="#f4c6ca"/><stop offset="0.33" stop-color="#f8e0e2"/><stop offset="0.38" stop-color="#fef9fa"/><stop offset="0.42" stop-color="#eceaff"/><stop offset="0.46" stop-color="#d3cfff"/><stop offset="0.5" stop-color="#bab4ff"/><stop offset="0.54" stop-color="#a199ff"/><stop offset="0.58" stop-color="#897eff"/><stop offset="0.62" stop-color="#7064ff"/><stop offset="0.67" stop-color="#5749ff"/><stop offset="0.71" stop-color="#3e2eff"/><stop offset="0.75" stop-color="#2513ff"/><stop offset="0.79" stop-color="#1400ff"/><stop offset="0.83" stop-color="#1400ff"/><stop offset="0.88" stop-color="#1400ff"/><stop offset="0.92" stop-color="#1400ff"/><stop offset="0.96" stop-color="#1400ff"/><stop offset="1" stop-color="#1400ff"/></linearGradient>
<linearGradient id="g39" x1="0" y1="0" x2="0" y2="1"><stop offset="0" stop-color="#f36d74"/><stop offset="0.04" stop-color="#f36f76"/><stop offset="0.08" stop-color="#f37178"/><stop offset="0.12" stop-color="#f3737a"/><stop offset="0.17" stop-color="#f37d84"/><stop offset="0.21" stop-color="#f2949b"/><stop offset="0.25" stop-color="#f2acb2"/><stop offset="0.29" stop-color="#f4c5c9"/><stop offset="0.33" stop-color="#f8dee1"/><stop offset="0.38" stop-color="#fdf7f7"/><stop offset="0.42" stop-color="#eeedff"/><stop offset="0.46" stop-color="#d5d2ff"/><stop offset="0.5" stop-color="#bcb7ff"/><stop offset="0.54" stop-color="#a39bff"/><stop offset="0.58" stop-color="#8a80ff"/><stop offset="0.62" stop-color="#7165ff"/><stop offset="0.67" stop-color="#584aff"/><stop offset="0.71" stop-color="#3f2fff"/><stop offset="0.75" stop-color="#2614ff"/><stop offset="0.79" stop-color="#1400ff"/><stop offset="0.83" stop-color="#1400ff"/><stop offset="0.88" stop-color="#1400ff"/><stop offset="0.92" stop-color="#1400ff"/><stop offset="0.96" stop-color="#1400ff"/><stop offset="1" stop-color="#1400ff"/></linearGradient>
<linearGradient id="g40" x1="0" y1="0" x2="0" y2="1"><stop offset="0" stop-color="#f36e75"/><stop offset="0.04" stop-color="#f36f76"/><stop offset="0.08" stop-color="#f37178"/><stop offset="0.12" stop-color="#f3737a"/><stop offset="0.17" stop-color="#f37e85"/><stop offset="0.21" stop-color="#f2959b"/><stop offset="0.25" stop-color="#f2acb2"/><stop offset="0.29" stop-color="#f4c4c9"/><stop offset="0.33" stop-color="#f7dddf"/><stop offset="0.38" stop-color="#fdf5f5"/><stop offset="0.42" stop-color="#f1f0ff"/><stop offset="0.46" stop-color="#d8d4ff"/><stop offset="0.5" stop-color="#beb9ff"/><stop offset="0.54" stop-color="#a59eff"/><stop offset="0.58" stop-color="#8c82ff"/><stop offset="0.62" stop-color="#7367ff"/><stop offset="0.67" stop-color="#5a4cff"/><stop offset="0.71" stop-color="#4030ff"/><stop offset="0.75" stop-color="#2715ff"/><stop offset="0.79" stop-color="#1400ff"/><stop offset="0.83" stop-color="#1400ff"/><stop offset="0.88" stop-color="#1400ff"/><stop offset="0.92" stop-color="#1400ff"/><stop offset="0.96" stop-color="#1400ff"/><stop offset="1" stop-color="#1400ff"/></linearGradient>
<linearGradient id="g41" x1="0" y1="0" x2="0" y2="1"><stop offset="0" stop-color="#f36e75"/><stop offset="0.04" stop-color="#f37077"/><stop offset="0.08" stop-color="#f37178"/><stop offset="0.12" stop-color="#f3737a"/><stop offset="0.17" stop-color="#f37f86"/><stop offset="0.21" stop-color="#f2959c"/><stop offset="0.25" stop-color="#f2abb1"/><stop offset="0.29" stop-color="#f4c4c8"/><stop offset="0.33" stop-color="#f7dbde"/><stop offset="0.38" stop-color="#fcf3f4"/><stop offset="0.42" stop-color="#f3f2ff"/><stop offset="0.46" stop-color="#dad7ff"/><stop offset="0.5" stop-color="#c0bbff"/><stop offset="0.54" stop-color="#a7a0ff"/><stop offset="0.58" stop-color="#8e84ff"/><stop offset="0.62" stop-color="#7469ff"/><stop offset="0.67" stop-color="#5b4dff"/><stop offset="0.71" stop-color="#4232ff"/><stop offset="0.75" stop-color="#2816ff"/><stop offset="0.79" stop-color="#1400ff"/><stop offset="0.83" stop-color="#1400ff"/><stop offset="0.88" stop-color="#1400ff"/><stop offset="0.92" stop-color="#1400ff"/><stop offset="0.96" stop-color="#1400ff"/><stop offset="1" stop-color="#1400ff"/></linearGradient>
<linearGradient id="g42" x1="0" y1="0" x2="0" y2="1"><stop offset="0" stop-color="#f36e75"/><stop offset="0.04" stop-color="#f37077"/><stop offset="0.08" stop-color="#f37178"/><stop offset="0.12" stop-color="#f3737a"/><stop offset="0.17" stop-color="#f38187"/><stop offset="0.21" stop-color="#f2969c"/><stop offset="0.25" stop-color="#f2abb1"/><stop offset="0.29" stop-color="#f4c3c7"/><stop offset="0.33" stop-color="#f7dadd"/><stop offset="0.38" stop-color="#fcf1f2"/><stop offset="0.42" stop-color="#f6f5ff"/><stop offset="0.46" stop-color="#dcd9ff"/><stop offset="0.5" stop-color="#c3bdff"/><stop offset="0.54" stop-color="#a9a2ff"/><stop offset="0.58" stop-color="#9086ff"/><stop offset="0.62" stop-color="#766aff"/><stop offset="0.67" stop-color="#5c4fff"/><stop offset="0.71" stop-color="#4333ff"/><stop offset="0.75" stop-color="#2917ff"/><stop offset="0.79" stop-color="#1400ff"/><stop offset="0.83" stop-color="#1400ff"/><stop offset="0.88" stop-color="#1400ff"/><stop offset="0.92" stop-color="#1400ff"/><stop offset="0.96" stop-color="#1400ff"/><stop offset="1" stop-color="#1400ff"/></linearGradient>
<linearGradient id="g43" x1="0" y1="0" x2="0" y2="1"><stop offset="0" stop-color="#f36e75"/><stop offset="0.04" stop-color="#f37077"/><stop offset="0.08" stop-color="#f37279"/><stop offset="0.12" stop-color="#f3737a"/><stop offset="0.17" stop-color="#f38288"/><stop offset="0.21" stop-color="#f2969d"/><stop offset="0.25" stop-color="#f2abb1"/><stop offset="0.29" stop-color="#f4c2c7"/><stop offset="0.33" stop-color="#f7d9dc"/><stop offset="0.38" stop-color="#fbeff0"/><stop offset="0.42" stop-color="#f8f8ff"/><stop offset="0.46" stop-color="#dedcff"/><stop offset="0.5" stop-color="#c5c0ff"/><stop offset="0.54" stop-color="#aba4ff"/><stop offset="0.58" stop-color="#9188ff"/><stop offset="0.62" stop-color="#786cff"/><stop offset="0.67" stop-color="#5e50ff"/><stop offset="0.71" stop-color="#4434ff"/><stop offset="0.75" stop-color="#2a18ff"/><stop offset="0.79" stop-color="#1400ff"/><stop offset="0.83" stop-color="#1400ff"/><stop offset="0.88" stop-color="#1400ff"/><stop offset="0.92" stop-color="#1400ff"/><stop offset="0.96" stop-color="#1400ff"/><stop offset="1" stop-color="#1400ff"/></linearGradient>
<linearGradient id="g44" x1="0" y1="0" x2="0" y2="1"><stop offset="0" stop-color="#f36e75"/><stop offset="0.04" stop-color="#f37077"/><stop offset="0.08" stop-color="#f37279"/><stop offset="0.12" stop-color="#f3737a"/><stop offset="0.17" stop-color="#f38389"/><stop offset="0.21" stop-color="#f2979d"/><stop offset="0.25" stop-color="#f2abb1"/><stop offset="0.29" stop-color="#f4c1c6"/><stop offset="0.33" stop-color="#f6d8db"/><stop offset="0.38" stop-color="#fbedee"/><stop offset="0.42" stop-color="#fbfaff"/><stop offset="0.46" stop-color="#e1deff"/><stop offset="0.5" stop-color="#c7c2ff"/><stop offset="0.54" stop-color="#ada6ff"/><stop offset="0.58" stop-color="#938aff"/><stop offset="0.62" stop-color="#796eff"/><stop offset="0.67" stop-color="#5f52ff"/><stop offset="0.71" stop-color="#4536ff"/><stop offset="0.75" stop-color="#2c1aff"/><stop offset="0.79" stop-color="#1400ff"/><stop offset="0.83" stop-color="#1400ff"/><stop offset="0.88" stop-color="#1400ff"/><stop offset="0.92" stop-color="#1400ff"/><stop offset="0.96" stop-color="#1400ff"/><stop offset="1" stop-color="#1400ff"/></linearGradient>
<linearGradient id="g45" x1="0" y1="0" x2="0" y2="1"><stop offset="0" stop-color="#f36e75"/><stop offset="0.04" stop-color="#f37077"/><stop offset="0.08" stop-color="#f37279"/><stop offset="0.12" stop-color="#f3737a"/><stop offset="0.17" stop-color="#f38289"/><stop offset="0.21" stop-color="#f2969c"/><stop offset="0.25" stop-color="#f2a9b0"/><stop offset="0.29" stop-color="#f4bfc4"/><stop offset="0.33" stop-color="#f6d5d8"/><stop offset="0.38" stop-color="#faeaeb"/><stop offset="0.42" stop-color="#ffffff"/><stop offset="0.46" stop-color="#e5e3ff"/><stop offset="0.5" stop-color="#cbc7ff"/><stop offset="0.54" stop-color="#b1abff"/><stop offset="0.58" stop-color="#978eff"/><stop offset="0.62" stop-color="#7d72ff"/><stop offset="0.67" stop-color="#6356ff"/><stop offset="0.71" stop-color="#4939ff"/><stop offset="0.75" stop-color="#2f1dff"/><stop offset="0.79" stop-color="#1501ff"/><stop offset="0.83" stop-color="#1400ff"/><stop offset="0.88" stop-color="#1400ff"/><stop offset="0.92" stop-color="#1400ff"/><stop offset="0.96" stop-color="#1400ff"/><stop offset="1" stop-color="#1400ff"/></linearGradient>
<linearGradient id="g46" x1="0" y1="0" x2="0" y2="1"><stop offset="0" stop-color="#f36e75"/><stop offset="0.04" stop-color="#f37077"/><stop offset="0.08" stop-color="#f37178"/><stop offset="0.12" stop-color="#f3737a"/><stop offset="0.17" stop-color="#f37f86"/><stop offset="0.21" stop-color="#f29399"/><stop offset="0.25" stop-color="#f2a6ac"/><stop offset="0.29" stop-color="#f3bbc0"/><stop offset="0.33" stop-color="#f5d0d3"/><stop offset="0.38" stop-color="#f9e5e7"/><stop offset="0.42" stop-color="#fef9f9"/><stop offset="0.46" stop-color="#ecebff"/><stop offset="0.5" stop-color="#d2ceff"/><stop offset="0.54" stop-color="#b8b2ff"/><stop offset="0.58" stop-color="#9e95ff"/><stop offset="0.62" stop-color="#8379ff"/><stop offset="0.67" stop-color="#695cff"/><stop offset="0.71" stop-color="#4f40ff"/><stop offset="0.75" stop-color="#3523ff"/><stop offset="0.79" stop-color="#1a07ff"/><stop offset="0.83" stop-color="#1400ff"/><stop offset="0.88" stop-color="#1400ff"/><stop offset="0.92" stop-color="#1400ff"/><stop offset="0.96" stop-color="#1400ff"/><stop offset="1" stop-color="#1400ff"/></linearGradient>
<linearGradient id="g47" x1="0" y1="0" x2="0" y2="1"><stop offset="0" stop-color="#f36e75"/><stop offset="0.04" stop-color="#f36f76"/><stop offset="0.08" stop-color="#f37178"/><stop offset="0.12" stop-color="#f3737a"/><stop offset="0.17" stop-color="#f37d84"/><stop offset="0.21" stop-color="#f29097"/><stop offset="0.25" stop-color="#f2a3a9"/><stop offset="0.29" stop-color="#f3b7bc"/><stop offset="0.33" stop-color="#f5cccf"/><stop offset="0.38" stop-color="#f8e0e2"/><stop offset="0.42" stop-color="#fdf4f5"/><stop offset="0.46" stop-color="#f3f2ff"/><stop offset="0.5" stop-color="#d9d6ff"/><stop offset="0.54" stop-color="#bfb9ff"/><stop offset="0.58" stop-color="#a49cff"/><stop offset="0.62" stop-color="#8a80ff"/><stop offset="0.67" stop-color="#6f63ff"/><stop offset="0.71" stop-color="#5546ff"/><stop offset="0.75" stop-color="#3a29ff"/><stop offset="0.79" stop-color="#200dff"/><stop offset="0.83" stop-color="#1400ff"/><stop offset="0.88" stop-color="#1400ff"/><stop offset="0.92" stop-color="#1400ff"/><stop offset="0.96" stop-color="#1400ff"/><stop offset="1" stop-color="#1400ff"/></linearGradient>
<linearGradient id="g48" x1="0" y1="0" x2="0" y2="1"><stop offset="0" stop-color="#f36d74"/><stop offset="0.04" stop-color="#f36f76"/><stop offset="0.08" stop-color="#f37178"/><stop offset="0.12" stop-color="#f3737a"/><stop offset="0.17" stop-color="#f37b82"/><stop offset="0.21" stop-color="#f38e94"/><stop offset="0.25" stop-color="#f2a0a6"/><stop offset="0.29" stop-color="#f3b3b9"/><stop offset="0.33" stop-color="#f5c7cb"/><stop offset="0.38" stop-color="#f7dbde"/><stop offset="0.42" stop-color="#fbeff0"/><stop offset="0.46" stop-color="#fbfaff"/><stop offset="0.5" stop-color="#e0ddff"/><stop offset="0.54" stop-color="#c5c0ff"/><stop offset="0.58" stop-color="#aba3ff"/><stop offset="0.62" stop-color="#9087ff"/><stop offset="0.67" stop-color="#756aff"/><stop offset="0.71" stop-color="#5b4dff"/><stop offset="0.75" stop-color="#4030ff"/><stop offset="0.79" stop-color="#2513ff"/><stop offset="0.83" stop-color="#1400ff"/><stop offset="0.88" stop-color="#1400ff"/><stop offset="0.92" stop-color="#1400ff"/><stop offset="0.96" stop-color="#1400ff"/><stop offset="1" stop-color="#1400ff"/></linearGradient>
<linearGradient id="g49" x1="0" y1="0" x2="0" y2="1"><stop offset="0" stop-color="#f36d74"/><stop offset="0.04" stop-color="#f36f76"/><stop offset="0.08" stop-color="#f37178"/><stop offset="0.12" stop-color="#f3737a"/><stop offset="0.17" stop-color="#f37980"/><stop offset="0.21" stop-color="#f38b92"/><stop offset="0.25" stop-color="#f29da3"/><stop offset="0.29" stop-color="#f2afb5"/><stop offset="0.33" stop-color="#f4c3c8"/><stop offset="0.38" stop-color="#f6d7da"/><stop offset="0.42" stop-color="#faeaec"/><stop offset="0.46" stop-color="#fffdfd"/><stop offset="0.5" stop-color="#e7e5ff"/><stop offset="0.54" stop-color="#ccc8ff"/><stop offset="0.58" stop-color="#b1abff"/><stop offset="0.62" stop-color="#968eff"/><stop offset="0.67" stop-color="#7c70ff"/><stop offset="0.71" stop-color="#6153ff"/><stop offset="0.75" stop-color="#4636ff"/><stop offset="0.79" stop-color="#2b19ff"/><stop offset="0.83" stop-color="#1400ff"/><stop offset="0.88" stop-color="#1400ff"/><stop offset="0.92" stop-color="#1400ff"/><stop offset="0.96" stop-color="#1400ff"/><stop offset="1" stop-color="#1400ff"/></linearGradient>
<linearGradient id="g50" x1="0" y1="0" x2="0" y2="1"><stop offset="0" stop-color="#f36d74"/><stop offset="0.04" stop-color="#f36f76"/><stop offset="0.08" stop-color="#f37178"/><stop offset="0.12" stop-color="#f37279"/><stop offset="0.17" stop-color="#f3777e"/><stop offset="0.21" stop-color="#f3898f"/><stop offset="0.25" stop-color="#f29aa1"/><stop offset="0.29" stop-color="#f2acb2"/><stop offset="0.33" stop-color="#f4bfc4"/><stop offset="0.38" stop-color="#f6d3d6"/><stop offset="0.42" stop-color="#f9e5e7"/><stop offset="0.46" stop-color="#fdf8f9"/><stop offset="0.5" stop-color="#eeedff"/><stop offset="0.54" stop-color="#d3cfff"/><stop offset="0.58" stop-color="#b8b2ff"/><stop offset="0.62" stop-color="#9d95ff"/><stop offset="0.67" stop-color="#8277ff"/><stop offset="0.71" stop-color="#675aff"/><stop offset="0.75" stop-color="#4c3dff"/><stop offset="0.79" stop-color="#311fff"/><stop offset="0.83" stop-color="#1602ff"/><stop offset="0.88" stop-color="#1400ff"/><stop offset="0.92" stop-color="#1400ff"/><stop offset="0.96" stop-color="#1400ff"/><stop offset="1" stop-color="#1400ff"/></linearGradient>
<linearGradient id="g51" x1="0" y1="0" x2="0" y2="1"><stop offset="0" stop-color="#f36d74"/><stop offset="0.04" stop-color="#f36f76"/><stop offset="0.08" stop-color="#f37077"/><stop offset="0.12" stop-color="#f37279"/><stop offset="0.17" stop-color="#f3757c"/><stop offset="0.21" stop-color="#f3868d"/><stop offset="0.25" stop-color="#f2989e"/><stop offset="0.29" stop-color="#f2a9af"/><stop offset="0.33" stop-color="#f3bcc0"/><stop offset="0.38" stop-color="#f5cfd2"/><stop offset="0.42" stop-color="#f8e1e3"/><stop offset="0.46" stop-color="#fcf3f4"/><stop offset="0.5" stop-color="#f5f5ff"/><stop offset="0.54" stop-color="#dad7ff"/><stop offset="0.58" stop-color="#bfb9ff"/><stop offset="0.62" stop-color="#a49cff"/><stop offset="0.67" stop-color="#887eff"/><stop offset="0.71" stop-color="#6d61ff"/><stop offset="0.75" stop-color="#5243ff"/><stop offset="0.79" stop-color="#3726ff"/><stop offset="0.83" stop-color="#1b08ff"/><stop offset="0.88" stop-color="#1400ff"/><stop offset="0.92" stop-color="#1400ff"/><stop offset="0.96" stop-color="#1400ff"/><stop offset="1" stop-color="#1400ff"/></linearGradient>
<linearGradient id="g52" x1="0" y1="0" x2="0" y2="1"><stop offset="0" stop-color="#f36d74"/><stop offset="0.04" stop-color="#f36e75"/><stop offset="0.08" stop-color="#f37077"/><stop offset="0.12" stop-color="#f37279"/><stop offset="0.17" stop-color="#f3747b"/><stop offset="0.21" stop-color="#f3838a"/><stop offset="0.25" stop-color="#f2949b"/><stop offset="0.29" stop-color="#f2a5ab"/><stop offset="0.33" stop-color="#f3b7bc"/><stop offset="0.38" stop-color="#f5cace"/><stop offset="0.42" stop-color="#f7dcdf"/><stop offset="0.46" stop-color="#fbeeef"/><stop offset="0.5" stop-color="#fefeff"/><stop offset="0.54" stop-color="#e3e0ff"/><stop offset="0.58" stop-color="#c7c2ff"/><stop offset="0.62" stop-color="#aca5ff"/><stop offset="0.67" stop-color="#9087ff"/><stop offset="0.71" stop-color="#7569ff"/><stop offset="0.75" stop-color="#594bff"/><stop offset="0.79" stop-color="#3e2dff"/><stop offset="0.83" stop-color="#2210ff"/><stop offset="0.88" stop-color="#1400ff"/><stop offset="0.92" stop-color="#1400ff"/><stop offset="0.96" stop-color="#1400ff"/><stop offset="1" stop-color="#1400ff"/></linearGradient>
<linearGradient id="g53" x1="0" y1="0" x2="0" y2="1"><stop offset="0" stop-color="#f36c73"/><stop offset="0.04" stop-color="#f36e75"/><stop offset="0.08" stop-color="#f37077"/><stop offset="0.12" stop-color="#f37279"/><stop offset="0.17" stop-color="#f3737a"/><stop offset="0.21" stop-color="#f37f86"/><stop offset="0.25" stop-color="#f29096"/><stop offset="0.29" stop-color="#f2a0a7"/><stop offset="0.33" stop-color="#f3b1b7"/><stop offset="0.38" stop-color="#f4c3c8"/><stop offset="0.42" stop-color="#f6d5d9"/><stop offset="0.46" stop-color="#fae7e9"/><stop offset="0.5" stop-color="#fef8f9"/><stop offset="0.54" stop-color="#eeedff"/><stop offset="0.58" stop-color="#d2cfff"/><stop offset="0.62" stop-color="#b7b1ff"/><stop offset="0.67" stop-color="#9b93ff"/><stop offset="0.71" stop-color="#7f75ff"/><stop offset="0.75" stop-color="#6456ff"/><stop offset="0.79" stop-color="#4838ff"/><stop offset="0.83" stop-color="#2c1aff"/><stop offset="0.88" stop-color="#1400ff"/><stop offset="0.92" stop-color="#1400ff"/><stop offset="0.96" stop-color="#1400ff"/><stop offset="1" stop-color="#1400ff"/></linearGradient>
<linearGradient id="g54" x1="0" y1="0" x2="0" y2="1"><stop offset="0" stop-color="#f46c73"/><stop offset="0.04" stop-color="#f36e75"/><stop offset="0.08" stop-color="#f36f76"/><stop offset="0.12" stop-color="#f37178"/><stop offset="0.17" stop-color="#f3737a"/><stop offset="0.21" stop-color="#f37c83"/><stop offset="0.25" stop-color="#f38c93"/><stop offset="0.29" stop-color="#f29ca2"/><stop offset="0.33" stop-color="#f2acb2"/><stop offset="0.38" stop-color="#f4bec3"/><stop offset="0.42" stop-color="#f5cfd3"/><stop offset="0.46" stop-color="#f8e0e3"/><stop offset="0.5" stop-color="#fcf1f2"/><stop offset="0.54" stop-color="#faf9ff"/><stop offset="0.58" stop-color="#dedbff"/><stop offset="0.62" stop-color="#c2bdff"/><stop offset="0.67" stop-color="#a69fff"/><stop offset="0.71" stop-color="#8a80ff"/><stop offset="0.75" stop-color="#6e62ff"/><stop offset="0.79" stop-color="#5244ff"/><stop offset="0.83" stop-color="#3726ff"/><stop offset="0.88" stop-color="#1b07ff"/><stop offset="0.92" stop-color="#1400ff"/><stop offset="0.96" stop-color="#1400ff"/><stop offset="1" stop-color="#1400ff"/></linearGradient>
<linearGradient id="g55" x1="0" y1="0" x2="0" y2="1"><stop offset="0" stop-color="#f46c73"/><stop offset="0.04" stop-color="#f36d74"/><stop offset="0.08" stop-color="#f36f76"/><stop offset="0.12" stop-color="#f37178"/><stop offset="0.17" stop-color="#f3737a"/><stop offset="0.21" stop-color="#f37980"/><stop offset="0.25" stop-color="#f3898f"/><stop offset="0.29" stop-color="#f2989f"/><stop offset="0.33" stop-color="#f2a8ae"/><stop offset="0.38" stop-color="#f3b8be"/><stop offset="0.42" stop-color="#f5c9cd"/><stop offset="0.46" stop-color="#f7dadd"/><stop offset="0.5" stop-color="#fbebec"/><stop offset="0.54" stop-color="#fefbfb"/><stop offset="0.58" stop-color="#eae8ff"/><stop offset="0.62" stop-color="#cdc9ff"/><stop offset="0.67" stop-color="#b1abff"/><stop offset="0.71" stop-color="#958cff"/><stop offset="0.75" stop-color="#796eff"/><stop offset="0.79" stop-color="#5d4fff"/><stop offset="0.83" stop-color="#4131ff"/><stop offset="0.88" stop-color="#2512ff"/><stop offset="0.92" stop-color="#1400ff"/><stop offset="0.96" stop-color="#1400ff"/><stop offset="1" stop-color="#1400ff"/></linearGradient>
<linearGradient id="g56" x1="0" y1="0" x2="0" y2="1"><stop offset="0" stop-color="#f46b72"/><stop offset="0.04" stop-color="#f36d74"/><stop offset="0.08" stop-color="#f36f76"/><stop offset="0.12" stop-color="#f37178"/><stop offset="0.17" stop-color="#f37279"/><stop offset="0.21" stop-color="#f3767d"/><stop offset="0.25" stop-color="#f3858c"/><stop offset="0.29" stop-color="#f2949b"/><stop offset="0.33" stop-color="#f2a4aa"/><stop offset="0.38" stop-color="#f3b3b9"/><stop offset="0.42" stop-color="#f4c4c8"/><stop offset="0.46" stop-color="#f6d5d8"/><stop offset="0.5" stop-color="#f9e5e6"/><stop offset="0.54" stop-color="#fdf4f5"/><stop offset="0.58" stop-color="#f5f5ff"/><stop offset="0.62" stop-color="#d9d6ff"/><stop offset="0.67" stop-color="#bdb7ff"/><stop offset="0.71" stop-color="#a098ff"/><stop offset="0.75" stop-color="#847aff"/><stop offset="0.79" stop-color="#685bff"/><stop offset="0.83" stop-color="#4b3cff"/><stop offset="0.88" stop-color="#2f1dff"/><stop offset="0.92" stop-color="#1400ff"/><stop offset="0.96" stop-color="#1400ff"/><stop offset="1" stop-color="#1400ff"/></linearGradient>
<linearGradient id="g57" x1="0" y1="0" x2="0" y2="1"><stop offset="0" stop-color="#f46b72"/><stop offset="0.04" stop-color="#f36d74"/><stop offset="0.08" stop-color="#f36f76"/><stop offset="0.12" stop-color="#f37077"/><stop offset="0.17" stop-color="#f37279"/><stop offset="0.21" stop-color="#f3757c"/><stop offset="0.25" stop-color="#f3848a"/><stop offset="0.29" stop-color="#f29299"/><stop offset="0.33" stop-color="#f2a1a7"/><stop offset="0.38" stop-color="#f2b0b6"/><stop offset="0.42" stop-color="#f4c0c5"/><stop offset="0.46" stop-color="#f5d0d4"/><stop offset="0.5" stop-color="#f8e0e2"/><stop offset="0.54" stop-color="#fcf0f1"/><stop offset="0.58" stop-color="#fffeff"/><stop offset="0.62" stop-color="#e2e0ff"/><stop offset="0.67" stop-color="#c5c1ff"/><stop offset="0.71" stop-color="#a9a2ff"/><stop offset="0.75" stop-color="#8c83ff"/><stop offset="0.79" stop-color="#7064ff"/><stop offset="0.83" stop-color="#5345ff"/><stop offset="0.88" stop-color="#3726ff"/><stop offset="0.92" stop-color="#1a07ff"/><stop offset="0.96" stop-color="#1400ff"/><stop offset="1" stop-color="#1400ff"/></linearGradient>
<linearGradient id="g58" x1="0" y1="0" x2="0" y2="1"><stop offset="0" stop-color="#f46b72"/><stop offset="0.04" stop-color="#f36d74"/><stop offset="0.08" stop-color="#f36f76"/><stop offset="0.12" stop-color="#f37178"/><stop offset="0.17" stop-color="#f37279"/><stop offset="0.21" stop-color="#f3757c"/><stop offset="0.25" stop-color="#f3848a"/><stop offset="0.29" stop-color="#f29298"/><stop offset="0.33" stop-color="#f2a0a6"/><stop offset="0.38" stop-color="#f2afb5"/><stop offset="0.42" stop-color="#f4bfc3"/><stop offset="0.46" stop-color="#f5ced2"/><stop offset="0.5" stop-color="#f8dee0"/><stop offset="0.54" stop-color="#fbedee"/><stop offset="0.58" stop-color="#fefcfc"/><stop offset="0.62" stop-color="#e8e6ff"/><stop offset="0.67" stop-color="#cbc7ff"/><stop offset="0.71" stop-color="#afa8ff"/><stop offset="0.75" stop-color="#9289ff"/><stop offset="0.79" stop-color="#7569ff"/><stop offset="0.83" stop-color="#584aff"/><stop offset="0.88" stop-color="#3c2bff"/><stop offset="0.92" stop-color="#1f0cff"/><stop offset="0.96" stop-color="#1400ff"/><stop offset="1" stop-color="#1400ff"/></linearGradient>
<linearGradient id="g59" x1="0" y1="0" x2="0" y2="1"><stop offset="0" stop-color="#f46b72"/><stop offset="0.04" stop-color="#f36d74"/><stop offset="0.08" stop-color="#f36f76"/><stop offset="0.12" stop-color="#f37178"/><stop offset="0.17" stop-color="#f37279"/><stop offset="0.21" stop-color="#f3757c"/><stop offset="0.25" stop-color="#f3838a"/><stop offset="0.29" stop-color="#f29198"/><stop offset="0.33" stop-color="#f29fa6"/><stop offset="0.38" stop-color="#f2adb3"/><stop offset="0.42" stop-color="#f4bdc2"/><stop offset="0.46" stop-color="#f5ccd0"/><stop offset="0.5" stop-color="#f7dbde"/><stop offset="0.54" stop-color="#faeaeb"/><stop offset="0.58" stop-color="#fef9f9"/><stop offset="0.62" stop-color="#eeedff"/><stop offset="0.67" stop-color="#d1ceff"/><stop offset="0.71" stop-color="#b4aeff"/><stop offset="0.75" stop-color="#978fff"/><stop offset="0.79" stop-color="#7a6fff"/><stop offset="0.83" stop-color="#5e50ff"/><stop offset="0.88" stop-color="#4130ff"/><stop offset="0.92" stop-color="#2411ff"/><stop offset="0.96" stop-color="#1400ff"/><stop offset="1" stop-color="#1400ff"/></linearGradient>
<linearGradient id="g60" x1="0" y1="0" x2="0" y2="1"><stop offset="0" stop-color="#f46b72"/><stop offset="0.04" stop-color="#f36d74"/><stop offset="0.08" stop-color="#f36f76"/><stop offset="0.12" stop-color="#f37178"/><stop offset="0.17" stop-color="#f37279"/><stop offset="0.21" stop-color="#f3767d"/><stop offset="0.25" stop-color="#f3838a"/><stop offset="0.29" stop-color="#f29197"/><stop offset="0.33" stop-color="#f29fa5"/><stop offset="0.38" stop-color="#f2acb2"/><stop offset="0.42" stop-color="#f3bbc0"/><stop offset="0.46" stop-color="#f5cace"/><stop offset="0.5" stop-color="#f7d9dc"/><stop offset="0.54" stop-color="#fae7e9"/><stop offset="0.58" stop-color="#fdf6f6"/><stop offset="0.62" stop-color="#f5f4ff"/><stop offset="0.67" stop-color="#d8d4ff"/><stop offset="0.71" stop-color="#bab5ff"/><stop offset="0.75" stop-color="#9d95ff"/><stop offset="0.79" stop-color="#8075ff"/><stop offset="0.83" stop-color="#6355ff"/><stop offset="0.88" stop-color="#4636ff"/><stop offset="0.92" stop-color="#2816ff"/><stop offset="0.96" stop-color="#1400ff"/><stop offset="1" stop-color="#1400ff"/></linearGradient>
<linearGradient id="g61" x1="0" y1="0" x2="0" y2="1"><stop offset="0" stop-color="#f46b72"/><stop offset="0.04" stop-color="#f36d74"/><stop offset="0.08" stop-color="#f36f76"/><stop offset="0.12" stop-color="#f37178"/><stop offset="0.17" stop-color="#f37279"/><stop offset="0.21" stop-color="#f3767d"/><stop offset="0.25" stop-color="#f3838a"/><stop offset="0.29" stop-color="#f29097"/><stop offset="0.33" stop-color="#f29ea4"/><stop offset="0.38" stop-color="#f2abb1"/><stop offset="0.42" stop-color="#f3babf"/><stop offset="0.46" stop-color="#f5c8cc"/><stop offset="0.5" stop-color="#f6d7da"/><stop offset="0.54" stop-color="#f9e5e7"/><stop offset="0.58" stop-color="#fcf3f4"/><stop offset="0.62" stop-color="#fbfaff"/><stop offset="0.67" stop-color="#dddaff"/><stop offset="0.71" stop-color="#c0baff"/><stop offset="0.75" stop-color="#a29aff"/><stop offset="0.79" stop-color="#857bff"/><stop offset="0.83" stop-color="#675bff"/><stop offset="0.88" stop-color="#4a3bff"/><stop offset="0.92" stop-color="#2d1bff"/><stop offset="0.96" stop-color="#1400ff"/><stop offset="1" stop-color="#1400ff"/></linearGradient>
<linearGradient id="g62" x1="0" y1="0" x2="0" y2="1"><stop offset="0" stop-color="#ff1c14"/><stop offset="0.05" stop-color="#fe2624"/><stop offset="0.1" stop-color="#fd3034"/><stop offset="0.15" stop-color="#fa444a"/><stop offset="0.2" stop-color="#f55c63"/><stop offset="0.25" stop-color="#f3747b"/><stop offset="0.3" stop-color="#f38f95"/><stop offset="0.35" stop-color="#f2a9af"/><stop offset="0.4" stop-color="#f4c6ca"/><stop offset="0.45" stop-color="#f9e3e5"/><stop offset="0.5" stop-color="#ffffff"/><stop offset="0.55" stop-color="#e7e5ff"/><stop offset="0.6" stop-color="#d0ccff"/><stop offset="0.65" stop-color="#b8b2ff"/><stop offset="0.7" stop-color="#a199ff"/><stop offset="0.75" stop-color="#8a80ff"/><stop offset="0.8" stop-color="#7266ff"/><stop offset="0.85" stop-color="#5b4dff"/><stop offset="0.9" stop-color="#4333ff"/><stop offset="0.95" stop-color="#2c1aff"/><stop offset="1" stop-color="#1400ff"/></linearGradient>
<linearGradient id="g63" x1="0" y1="0" x2="0" y2="1"><stop offset="0" stop-color="#f6555c"/><stop offset="0.04" stop-color="#f5575e"/><stop offset="0.08" stop-color="#f55960"/><stop offset="0.12" stop-color="#f55b62"/><stop offset="0.17" stop-color="#f55e65"/><stop offset="0.21" stop-color="#f46067"/><stop offset="0.25" stop-color="#f4646b"/><stop offset="0.29" stop-color="#f4676e"/><stop offset="0.33" stop-color="#f46b72"/><stop offset="0.38" stop-color="#f37077"/><stop offset="0.42" stop-color="#f3767d"/><stop offset="0.46" stop-color="#f37c83"/><stop offset="0.5" stop-color="#f3848b"/><stop offset="0.54" stop-color="#f38d93"/><stop offset="0.58" stop-color="#f2979d"/><stop offset="0.62" stop-color="#f2a2a8"/><stop offset="0.67" stop-color="#f2afb5"/><stop offset="0.71" stop-color="#f4bfc3"/><stop offset="0.75" stop-color="#f5d0d4"/><stop offset="0.79" stop-color="#f9e4e6"/><stop offset="0.83" stop-color="#fefafa"/><stop offset="0.88" stop-color="#e4e2ff"/><stop offset="0.92" stop-color="#c2bdff"/><stop offset="0.96" stop-color="#a098ff"/><stop offset="1" stop-color="#7e73ff"/></linearGradient>
<linearGradient id="g64" x1="0" y1="0" x2="0" y2="1"><stop offset="0" stop-color="#f6545a"/><stop offset="0.04" stop-color="#f6555c"/><stop offset="0.08" stop-color="#f5575e"/><stop offset="0.12" stop-color="#f55a61"/><stop offset="0.17" stop-color="#f55c63"/><stop offset="0.21" stop-color="#f45f66"/><stop offset="0.25" stop-color="#f46269"/><stop offset="0.29" stop-color="#f4666d"/><stop offset="0.33" stop-color="#f46a71"/><stop offset="0.38" stop-color="#f36f76"/><stop offset="0.42" stop-color="#f3757c"/><stop offset="0.46" stop-color="#f37b82"/><stop offset="0.5" stop-color="#f3838a"/><stop offset="0.54" stop-color="#f38c93"/><stop offset="0.58" stop-color="#f2969c"/><stop offset="0.62" stop-color="#f2a1a7"/><stop offset="0.67" stop-color="#f2aeb4"/><stop offset="0.71" stop-color="#f4bec3"/><stop offset="0.75" stop-color="#f5d0d3"/><stop offset="0.79" stop-color="#f9e4e6"/><stop offset="0.83" stop-color="#fefafa"/><stop offset="0.88" stop-color="#e4e2ff"/><stop offset="0.92" stop-color="#c2bdff"/><stop offset="0.96" stop-color="#a098ff"/><stop offset="1" stop-color="#7e73ff"/></linearGradient>
<linearGradient id="g65" x1="0" y1="0" x2="0" y2="1"><stop offset="0" stop-color="#f65259"/><stop offset="0.04" stop-color="#f6545b"/><stop offset="0.08" stop-color="#f5565d"/><stop offset="0.12" stop-color="#f5585f"/><stop offset="0.17" stop-color="#f55b62"/><stop offset="0.21" stop-color="#f55e65"/><stop offset="0.25" stop-color="#f46168"/><stop offset="0.29" stop-color="#f4656c"/><stop offset="0.33" stop-color="#f46970"/><stop offset="0.38" stop-color="#f36e75"/><stop offset="0.42" stop-color="#f3737a"/><stop offset="0.46" stop-color="#f37a81"/><stop offset="0.5" stop-color="#f38289"/><stop offset="0.54" stop-color="#f38b92"/><stop offset="0.58" stop-color="#f2959c"/><stop offset="0.62" stop-color="#f2a1a7"/><stop offset="0.67" stop-color="#f2aeb3"/><stop offset="0.71" stop-color="#f4bec2"/><stop offset="0.75" stop-color="#f5d0d3"/><stop offset="0.79" stop-color="#f9e4e6"/><stop offset="0.83" stop-color="#fefafa"/><stop offset="0.88" stop-color="#e4e2ff"/><stop offset="0.92" stop-color="#c2bdff"/><stop offset="0.96" stop-color="#a098ff"/><stop offset="1" stop-color="#7e73ff"/></linearGradient>
<linearGradient id="g66" x1="0" y1="0" x2="0" y2="1"><stop offset="0" stop-color="#f75057"/><stop offset="0.04" stop-color="#f65259"/><stop offset="0.08" stop-color="#f6545b"/><stop offset="0.12" stop-color="#f5575e"/><stop offset="0.17" stop-color="#f55a61"/><stop offset="0.21" stop-color="#f55d64"/><stop offset="0.25" stop-color="#f46067"/><stop offset="0.29" stop-color="#f4646b"/><stop offset="0.33" stop-color="#f4686f"/><stop offset="0.38" stop-color="#f36d74"/><stop offset="0.42" stop-color="#f37279"/><stop offset="0.46" stop-color="#f37980"/><stop offset="0.5" stop-color="#f38188"/><stop offset="0.54" stop-color="#f38a91"/><stop offset="0.58" stop-color="#f2949b"/><stop offset="0.62" stop-color="#f2a0a6"/><stop offset="0.67" stop-color="#f2adb3"/><stop offset="0.71" stop-color="#f4bdc2"/><stop offset="0.75" stop-color="#f5cfd3"/><stop offset="0.79" stop-color="#f9e3e5"/><stop offset="0.83" stop-color="#fefafa"/><stop offset="0.88" stop-color="#e4e2ff"/><stop offset="0.92" stop-color="#c2bdff"/><stop offset="0.96" stop-color="#a098ff"/><stop offset="1" stop-color="#7e73ff"/></linearGradient>
<linearGradient id="g67" x1="0" y1="0" x2="0" y2="1"><stop offset="0" stop-color="#f74f56"/><stop offset="0.04" stop-color="#f75158"/><stop offset="0.08" stop-color="#f6535a"/><stop offset="0.12" stop-color="#f6555c"/><stop offset="0.17" stop-color="#f5585f"/><stop offset="0.21" stop-color="#f55b62"/><stop offset="0.25" stop-color="#f55f66"/><stop offset="0.29" stop-color="#f4636a"/><stop offset="0.33" stop-color="#f4676e"/><stop offset="0.38" stop-color="#f46c73"/><stop offset="0.42" stop-color="#f37178"/><stop offset="0.46" stop-color="#f3787f"/><stop offset="0.5" stop-color="#f38087"/><stop offset="0.54" stop-color="#f38990"/><stop offset="0.58" stop-color="#f2949a"/><stop offset="0.62" stop-color="#f29fa5"/><stop offset="0.67" stop-color="#f2acb2"/><stop offset="0.71" stop-color="#f4bdc1"/><stop offset="0.75" stop-color="#f5cfd3"/><stop offset="0.79" stop-color="#f9e3e5"/><stop offset="0.83" stop-color="#fefafa"/><stop offset="0.88" stop-color="#e4e2ff"/><stop offset="0.92" stop-color="#c2bdff"/><stop offset="0.96" stop-color="#a098ff"/><stop offset="1" stop-color="#7e73ff"/></linearGradient>
<linearGradient id="g68" x1="0" y1="0" x2="0" y2="1"><stop offset="0" stop-color="#f74d54"/><stop offset="0.04" stop-color="#f74f56"/><stop offset="0.08" stop-color="#f65158"/><stop offset="0.12" stop-color="#f6545b"/><stop offset="0.17" stop-color="#f5575e"/><stop offset="0.21" stop-color="#f55a61"/><stop offset="0.25" stop-color="#f55d64"/><stop offset="0.29" stop-color="#f46168"/><stop offset="0.33" stop-color="#f4666d"/><stop offset="0.38" stop-color="#f46b72"/><stop offset="0.42" stop-color="#f37077"/><stop offset="0.46" stop-color="#f3777e"/><stop offset="0.5" stop-color="#f37f86"/><stop offset="0.54" stop-color="#f3888f"/><stop offset="0.58" stop-color="#f29399"/><stop offset="0.62" stop-color="#f29fa5"/><stop offset="0.67" stop-color="#f2acb2"/><stop offset="0.71" stop-color="#f4bcc1"/><stop offset="0.75" stop-color="#f5cfd2"/><stop offset="0.79" stop-color="#f9e3e5"/><stop offset="0.83" stop-color="#fefafa"/><stop offset="0.88" stop-color="#e4e2ff"/><stop offset="0.92" stop-color="#c2bdff"/><stop offset="0.96" stop-color="#a098ff"/><stop offset="1" stop-color="#7e73ff"/></linearGradient>
<linearGradient id="g69" x1="0" y1="0" x2="0" y2="1"><stop offset="0" stop-color="#f84c52"/><stop offset="0.04" stop-color="#f74e54"/><stop offset="0.08" stop-color="#f75057"/><stop offset="0.12" stop-color="#f65359"/><stop offset="0.17" stop-color="#f6555c"/><stop offset="0.21" stop-color="#f55960"/><stop offset="0.25" stop-color="#f55c63"/><stop offset="0.29" stop-color="#f46067"/><stop offset="0.33" stop-color="#f4656c"/><stop offset="0.38" stop-color="#f46a71"/><stop offset="0.42" stop-color="#f36f76"/><stop offset="0.46" stop-color="#f3767d"/><stop offset="0.5" stop-color="#f37e85"/><stop offset="0.54" stop-color="#f3888e"/><stop offset="0.58" stop-color="#f29299"/><stop offset="0.62" stop-color="#f29ea4"/><stop offset="0.67" stop-color="#f2abb1"/><stop offset="0.71" stop-color="#f3bcc1"/><stop offset="0.75" stop-color="#f5ced2"/><stop offset="0.79" stop-color="#f9e3e5"/><stop offset="0.83" stop-color="#fefafa"/><stop offset="0.88" stop-color="#e4e2ff"/><stop offset="0.92" stop-color="#c2bdff"/><stop offset="0.96" stop-color="#a098ff"/><stop offset="1" stop-color="#7e73ff"/></linearGradient>
<linearGradient id="g70" x1="0" y1="0" x2="0" y2="1"><stop offset="0" stop-color="#f84a51"/><stop offset="0.04" stop-color="#f84c53"/><stop offset="0.08" stop-color="#f74e55"/><stop offset="0.12" stop-color="#f75158"/><stop offset="0.17" stop-color="#f6545b"/><stop offset="0.21" stop-color="#f5575e"/><stop offset="0.25" stop-color="#f55b62"/><stop offset="0.29" stop-color="#f45f66"/><stop offset="0.33" stop-color="#f4636a"/><stop offset="0.38" stop-color="#f46970"/><stop offset="0.42" stop-color="#f36e75"/><stop offset="0.46" stop-color="#f3757c"/><stop offset="0.5" stop-color="#f37d84"/><stop offset="0.54" stop-color="#f3878d"/><stop offset="0.58" stop-color="#f29198"/><stop offset="0.62" stop-color="#f29da3"/><stop offset="0.67" stop-color="#f2abb1"/><stop offset="0.71" stop-color="#f3bbc0"/><stop offset="0.75" stop-color="#f5ced2"/><stop offset="0.79" stop-color="#f9e3e5"/><stop offset="0.83" stop-color="#fefafa"/><stop offset="0.88" stop-color="#e4e2ff"/><stop offset="0.92" stop-color="#c2bdff"/><stop offset="0.96" stop-color="#a098ff"/><stop offset="1" stop-color="#7e73ff"/></linearGradient>
<linearGradient id="g71" x1="0" y1="0" x2="0" y2="1"><stop offset="0" stop-color="#f8494f"/><stop offset="0.04" stop-color="#f84b51"/><stop offset="0.08" stop-color="#f74d54"/><stop offset="0.12" stop-color="#f75056"/><stop offset="0.17" stop-color="#f65359"/><stop offset="0.21" stop-color="#f5565d"/><stop offset="0.25" stop-color="#f55a61"/><stop offset="0.29" stop-color="#f55e65"/><stop offset="0.33" stop-color="#f46269"/><stop offset="0.38" stop-color="#f4686f"/><stop offset="0.42" stop-color="#f36d74"/><stop offset="0.46" stop-color="#f3747b"/><stop offset="0.5" stop-color="#f37c83"/><stop offset="0.54" stop-color="#f3868d"/><stop offset="0.58" stop-color="#f29197"/><stop offset="0.62" stop-color="#f29da3"/><stop offset="0.67" stop-color="#f2aab0"/><stop offset="0.71" stop-color="#f3bbc0"/><stop offset="0.75" stop-color="#f5ced1"/><stop offset="0.79" stop-color="#f9e3e5"/><stop offset="0.83" stop-color="#fefafa"/><stop offset="0.88" stop-color="#e4e2ff"/><stop offset="0.92" stop-color="#c2bdff"/><stop offset="0.96" stop-color="#a098ff"/><stop offset="1" stop-color="#7e73ff"/></linearGradient>
<linearGradient id="g72" x1="0" y1="0" x2="0" y2="1"><stop offset="0" stop-color="#f9474e"/><stop offset="0.04" stop-color="#f84950"/><stop offset="0.08" stop-color="#f84c52"/><stop offset="0.12" stop-color="#f74e55"/><stop offset="0.17" stop-color="#f65158"/><stop offset="0.21" stop-color="#f6555c"/><stop offset="0.25" stop-color="#f5585f"/><stop offset="0.29" stop-color="#f55d64"/><stop offset="0.33" stop-color="#f46168"/><stop offset="0.38" stop-color="#f4666d"/><stop offset="0.42" stop-color="#f36c73"/><stop offset="0.46" stop-color="#f3737a"/><stop offset="0.5" stop-color="#f37c82"/><stop offset="0.54" stop-color="#f3858c"/><stop offset="0.58" stop-color="#f29096"/><stop offset="0.62" stop-color="#f29ca2"/><stop offset="0.67" stop-color="#f2aab0"/><stop offset="0.71" stop-color="#f3babf"/><stop offset="0.75" stop-color="#f5cdd1"/><stop offset="0.79" stop-color="#f9e2e5"/><stop offset="0.83" stop-color="#fefafa"/><stop offset="0.88" stop-color="#e4e2ff"/><stop offset="0.92" stop-color="#c2bdff"/><stop offset="0.96" stop-color="#a098ff"/><stop offset="1" stop-color="#7e73ff"/></linearGradient>
<linearGradient id="g73" x1="0" y1="0" x2="0" y2="1"><stop offset="0" stop-color="#f9464c"/><stop offset="0.04" stop-color="#f9484e"/><stop offset="0.08" stop-color="#f84a51"/><stop offset="0.12" stop-color="#f74d54"/><stop offset="0.17" stop-color="#f75057"/><stop offset="0.21" stop-color="#f6545a"/><stop offset="0.25" stop-color="#f5575e"/><stop offset="0.29" stop-color="#f55c63"/><stop offset="0.33" stop-color="#f46067"/><stop offset="0.38" stop-color="#f4666d"/><stop offset="0.42" stop-color="#f46c73"/><stop offset="0.46" stop-color="#f3737a"/><stop offset="0.5" stop-color="#f37b82"/><stop offset="0.54" stop-color="#f3858b"/><stop offset="0.58" stop-color="#f29096"/><stop offset="0.62" stop-color="#f29ca2"/><stop offset="0.67" stop-color="#f2aab0"/><stop offset="0.71" stop-color="#f3bbc0"/><stop offset="0.75" stop-color="#f5ced2"/><stop offset="0.79" stop-color="#f9e3e5"/><stop offset="0.83" stop-color="#fefbfb"/><stop offset="0.88" stop-color="#e2e0ff"/><stop offset="0.92" stop-color="#c0bbff"/><stop offset="0.96" stop-color="#9e96ff"/><stop offset="1" stop-color="#7c71ff"/></linearGradient>
<linearGradient id="g74" x1="0" y1="0" x2="0" y2="1"><stop offset="0" stop-color="#f9454b"/><stop offset="0.04" stop-color="#f9474d"/><stop offset="0.08" stop-color="#f84950"/><stop offset="0.12" stop-color="#f84c53"/><stop offset="0.17" stop-color="#f74f56"/><stop offset="0.21" stop-color="#f6535a"/><stop offset="0.25" stop-color="#f5575e"/><stop offset="0.29" stop-color="#f55b62"/><stop offset="0.33" stop-color="#f46067"/><stop offset="0.38" stop-color="#f4666d"/><stop offset="0.42" stop-color="#f46c73"/><stop offset="0.46" stop-color="#f3737a"/><stop offset="0.5" stop-color="#f37c83"/><stop offset="0.54" stop-color="#f3868d"/><stop offset="0.58" stop-color="#f29198"/><stop offset="0.62" stop-color="#f29ea4"/><stop offset="0.67" stop-color="#f2adb3"/><stop offset="0.71" stop-color="#f4bec3"/><stop offset="0.75" stop-color="#f6d2d6"/><stop offset="0.79" stop-color="#fae8ea"/><stop offset="0.83" stop-color="#fdfdff"/><stop offset="0.88" stop-color="#dbd8ff"/><stop offset="0.92" stop-color="#b9b3ff"/><stop offset="0.96" stop-color="#978eff"/><stop offset="1" stop-color="#7569ff"/></linearGradient>
<linearGradient id="g75" x1="0" y1="0" x2="0" y2="1"><stop offset="0" stop-color="#fa434a"/><stop offset="0.04" stop-color="#f9464c"/><stop offset="0.08" stop-color="#f8484f"/><stop offset="0.12" stop-color="#f84b52"/><stop offset="0.17" stop-color="#f74f56"/><stop offset="0.21" stop-color="#f65359"/><stop offset="0.25" stop-color="#f5575e"/><stop offset="0.29" stop-color="#f55b62"/><stop offset="0.33" stop-color="#f46067"/><stop offset="0.38" stop-color="#f4666d"/><stop offset="0.42" stop-color="#f36d74"/><stop offset="0.46" stop-color="#f3747b"/><stop offset="0.5" stop-color="#f37d84"/><stop offset="0.54" stop-color="#f3888e"/><stop offset="0.58" stop-color="#f2939a"/><stop offset="0.62" stop-color="#f2a1a7"/><stop offset="0.67" stop-color="#f2b0b5"/><stop offset="0.71" stop-color="#f4c2c6"/><stop offset="0.75" stop-color="#f6d7da"/><stop offset="0.79" stop-color="#fbedee"/><stop offset="0.83" stop-color="#f6f5ff"/><stop offset="0.88" stop-color="#d4d0ff"/><stop offset="0.92" stop-color="#b2abff"/><stop offset="0.96" stop-color="#8f86ff"/><stop offset="1" stop-color="#6d61ff"/></linearGradient>
<linearGradient id="g76" x1="0" y1="0" x2="0" y2="1"><stop offset="0" stop-color="#fa4249"/><stop offset="0.04" stop-color="#f9454b"/><stop offset="0.08" stop-color="#f9484e"/><stop offset="0.12" stop-color="#f84b51"/><stop offset="0.17" stop-color="#f74e55"/><stop offset="0.21" stop-color="#f65259"/><stop offset="0.25" stop-color="#f5565d"/><stop offset="0.29" stop-color="#f55b62"/><stop offset="0.33" stop-color="#f46168"/><stop offset="0.38" stop-color="#f4676e"/><stop offset="0.42" stop-color="#f36d74"/><stop offset="0.46" stop-color="#f3757c"/><stop offset="0.5" stop-color="#f37f85"/><stop offset="0.54" stop-color="#f38990"/><stop offset="0.58" stop-color="#f2959c"/><stop offset="0.62" stop-color="#f2a3a9"/><stop offset="0.67" stop-color="#f3b3b8"/><stop offset="0.71" stop-color="#f4c6ca"/><stop offset="0.75" stop-color="#f7dbde"/><stop offset="0.79" stop-color="#fcf2f3"/><stop offset="0.83" stop-color="#eeedff"/><stop offset="0.88" stop-color="#ccc8ff"/><stop offset="0.92" stop-color="#aaa3ff"/><stop offset="0.96" stop-color="#887eff"/><stop offset="1" stop-color="#6659ff"/></linearGradient>
<linearGradient id="g77" x1="0" y1="0" x2="0" y2="1"><stop offset="0" stop-color="#fa4148"/><stop offset="0.04" stop-color="#f9444a"/><stop offset="0.08" stop-color="#f9474d"/><stop offset="0.12" stop-color="#f84a51"/><stop offset="0.17" stop-color="#f74e54"/><stop offset="0.21" stop-color="#f65259"/><stop offset="0.25" stop-color="#f5565d"/><stop offset="0.29" stop-color="#f55b62"/><stop offset="0.33" stop-color="#f46168"/><stop offset="0.38" stop-color="#f4676e"/><stop offset="0.42" stop-color="#f36e75"/><stop offset="0.46" stop-color="#f3767d"/><stop offset="0.5" stop-color="#f38087"/><stop offset="0.54" stop-color="#f38b92"/><stop offset="0.58" stop-color="#f2979e"/><stop offset="0.62" stop-color="#f2a6ac"/><stop offset="0.67" stop-color="#f3b6bc"/><stop offset="0.71" stop-color="#f5cace"/><stop offset="0.75" stop-color="#f8dfe2"/><stop offset="0.79" stop-color="#fdf7f8"/><stop offset="0.83" stop-color="#e7e5ff"/><stop offset="0.88" stop-color="#c5c0ff"/><stop offset="0.92" stop-color="#a39bff"/><stop offset="0.96" stop-color="#8176ff"/><stop offset="1" stop-color="#5f51ff"/></linearGradient>
<linearGradient id="g78" x1="0" y1="0" x2="0" y2="1"><stop offset="0" stop-color="#fa4047"/><stop offset="0.04" stop-color="#fa434a"/><stop offset="0.08" stop-color="#f9464d"/><stop offset="0.12" stop-color="#f84950"/><stop offset="0.17" stop-color="#f74d54"/><stop offset="0.21" stop-color="#f65158"/><stop offset="0.25" stop-color="#f5565d"/><stop offset="0.29" stop-color="#f55b62"/><stop offset="0.33" stop-color="#f46168"/><stop offset="0.38" stop-color="#f4676e"/><stop offset="0.42" stop-color="#f36f76"/><stop offset="0.46" stop-color="#f3777e"/><stop offset="0.5" stop-color="#f38188"/><stop offset="0.54" stop-color="#f38d93"/><stop offset="0.58" stop-color="#f29aa0"/><stop offset="0.62" stop-color="#f2a8ae"/><stop offset="0.67" stop-color="#f3babf"/><stop offset="0.71" stop-color="#f5ced2"/><stop offset="0.75" stop-color="#f9e4e6"/><stop offset="0.79" stop-color="#fefdfd"/><stop offset="0.83" stop-color="#e0ddff"/><stop offset="0.88" stop-color="#beb9ff"/><stop offset="0.92" stop-color="#9c94ff"/><stop offset="0.96" stop-color="#7a6fff"/><stop offset="1" stop-color="#584aff"/></linearGradient>
<linearGradient id="g79" x1="0" y1="0" x2="0" y2="1"><stop offset="0" stop-color="#fa4046"/><stop offset="0.04" stop-color="#fa4249"/><stop offset="0.08" stop-color="#f9454c"/><stop offset="0.12" stop-color="#f8494f"/><stop offset="0.17" stop-color="#f84d53"/><stop offset="0.21" stop-color="#f75158"/><stop offset="0.25" stop-color="#f5565d"/><stop offset="0.29" stop-color="#f55b62"/><stop offset="0.33" stop-color="#f46168"/><stop offset="0.38" stop-color="#f4686f"/><stop offset="0.42" stop-color="#f36f76"/><stop offset="0.46" stop-color="#f3787f"/><stop offset="0.5" stop-color="#f3838a"/><stop offset="0.54" stop-color="#f38f95"/><stop offset="0.58" stop-color="#f29ca2"/><stop offset="0.62" stop-color="#f2abb1"/><stop offset="0.67" stop-color="#f4bec2"/><stop offset="0.71" stop-color="#f6d2d6"/><stop offset="0.75" stop-color="#fae9eb"/><stop offset="0.79" stop-color="#fbfbff"/><stop offset="0.83" stop-color="#d9d6ff"/><stop offset="0.88" stop-color="#b8b2ff"/><stop offset="0.92" stop-color="#968dff"/><stop offset="0.96" stop-color="#7569ff"/><stop offset="1" stop-color="#5344ff"/></linearGradient>
<linearGradient id="g80" x1="0" y1="0" x2="0" y2="1"><stop offset="0" stop-color="#fb3f45"/><stop offset="0.04" stop-color="#fa4148"/><stop offset="0.08" stop-color="#f9454b"/><stop offset="0.12" stop-color="#f8484f"/><stop offset="0.17" stop-color="#f84c53"/><stop offset="0.21" stop-color="#f75158"/><stop offset="0.25" stop-color="#f5565d"/><stop offset="0.29" stop-color="#f55c63"/><stop offset="0.33" stop-color="#f46269"/><stop offset="0.38" stop-color="#f4686f"/><stop offset="0.42" stop-color="#f37077"/><stop offset="0.46" stop-color="#f37a80"/><stop offset="0.5" stop-color="#f3848b"/><stop offset="0.54" stop-color="#f29197"/><stop offset="0.58" stop-color="#f29fa5"/><stop offset="0.62" stop-color="#f2aeb4"/><stop offset="0.67" stop-color="#f4c1c6"/><stop offset="0.71" stop-color="#f6d7da"/><stop offset="0.75" stop-color="#fbeeef"/><stop offset="0.79" stop-color="#f4f3ff"/><stop offset="0.83" stop-color="#d3cfff"/><stop offset="0.88" stop-color="#b2abff"/><stop offset="0.92" stop-color="#9087ff"/><stop offset="0.96" stop-color="#6f63ff"/><stop offset="1" stop-color="#4e3fff"/></linearGradient>
<linearGradient id="g81" x1="0" y1="0" x2="0" y2="1"><stop offset="0" stop-color="#fb3e44"/><stop offset="0.04" stop-color="#fa4147"/><stop offset="0.08" stop-color="#f9444a"/><stop offset="0.12" stop-color="#f9484e"/><stop offset="0.17" stop-color="#f84c53"/><stop offset="0.21" stop-color="#f75157"/><stop offset="0.25" stop-color="#f5565d"/><stop offset="0.29" stop-color="#f55c63"/><stop offset="0.33" stop-color="#f46269"/><stop offset="0.38" stop-color="#f46970"/><stop offset="0.42" stop-color="#f37178"/><stop offset="0.46" stop-color="#f37b82"/><stop offset="0.5" stop-color="#f3868d"/><stop offset="0.54" stop-color="#f29399"/><stop offset="0.58" stop-color="#f2a1a7"/><stop offset="0.62" stop-color="#f3b2b7"/><stop offset="0.67" stop-color="#f4c5ca"/><stop offset="0.71" stop-color="#f7dbde"/><stop offset="0.75" stop-color="#fcf3f4"/><stop offset="0.79" stop-color="#edecff"/><stop offset="0.83" stop-color="#ccc8ff"/><stop offset="0.88" stop-color="#aba4ff"/><stop offset="0.92" stop-color="#8b81ff"/><stop offset="0.96" stop-color="#6a5dff"/><stop offset="1" stop-color="#4939ff"/></linearGradient>
<linearGradient id="g82" x1="0" y1="0" x2="0" y2="1"><stop offset="0" stop-color="#fb3d43"/><stop offset="0.04" stop-color="#fa4046"/><stop offset="0.08" stop-color="#fa434a"/><stop offset="0.12" stop-color="#f9474e"/><stop offset="0.17" stop-color="#f84c52"/><stop offset="0.21" stop-color="#f75157"/><stop offset="0.25" stop-color="#f5565d"/><stop offset="0.29" stop-color="#f55c63"/><stop offset="0.33" stop-color="#f4636a"/><stop offset="0.38" stop-color="#f46a71"/><stop offset="0.42" stop-color="#f37279"/><stop offset="0.46" stop-color="#f37c83"/><stop offset="0.5" stop-color="#f3888f"/><stop offset="0.54" stop-color="#f2959c"/><stop offset="0.58" stop-color="#f2a4aa"/><stop offset="0.62" stop-color="#f3b5bb"/><stop offset="0.67" stop-color="#f5cacd"/><stop offset="0.71" stop-color="#f8e0e2"/><stop offset="0.75" stop-color="#fef9f9"/><stop offset="0.79" stop-color="#e6e4ff"/><stop offset="0.83" stop-color="#c6c1ff"/><stop offset="0.88" stop-color="#a59eff"/><stop offset="0.92" stop-color="#857bff"/><stop offset="0.96" stop-color="#6457ff"/><stop offset="1" stop-color="#4434ff"/></linearGradient>
<linearGradient id="g83" x1="0" y1="0" x2="0" y2="1"><stop offset="0" stop-color="#fb3c42"/><stop offset="0.04" stop-color="#fa3f46"/><stop offset="0.08" stop-color="#fa4349"/><stop offset="0.12" stop-color="#f9474d"/><stop offset="0.17" stop-color="#f84b52"/><stop offset="0.21" stop-color="#f75057"/><stop offset="0.25" stop-color="#f5565d"/><stop offset="0.29" stop-color="#f55c63"/><stop offset="0.33" stop-color="#f4636a"/><stop offset="0.38" stop-color="#f46b72"/><stop offset="0.42" stop-color="#f3737a"/><stop offset="0.46" stop-color="#f37e85"/><stop offset="0.5" stop-color="#f38a91"/><stop offset="0.54" stop-color="#f2989e"/><stop offset="0.58" stop-color="#f2a7ad"/><stop offset="0.62" stop-color="#f3b9be"/><stop offset="0.67" stop-color="#f5ced1"/><stop offset="0.71" stop-color="#f9e5e7"/><stop offset="0.75" stop-color="#fffefe"/><stop offset="0.79" stop-color="#e0ddff"/><stop offset="0.83" stop-color="#c0bbff"/><stop offset="0.88" stop-color="#a098ff"/><stop offset="0.92" stop-color="#8075ff"/><stop offset="0.96" stop-color="#6052ff"/><stop offset="1" stop-color="#3f2fff"/></linearGradient>
<linearGradient id="g84" x1="0" y1="0" x2="0" y2="1"><stop offset="0" stop-color="#fb3b41"/><stop offset="0.04" stop-color="#fb3e45"/><stop offset="0.08" stop-color="#fa4249"/><stop offset="0.12" stop-color="#f9464d"/><stop offset="0.17" stop-color="#f84b52"/><stop offset="0.21" stop-color="#f75057"/><stop offset="0.25" stop-color="#f5565d"/><stop offset="0.29" stop-color="#f55c63"/><stop offset="0.33" stop-color="#f4636a"/><stop offset="0.38" stop-color="#f46b72"/><stop offset="0.42" stop-color="#f3747b"/><stop offset="0.46" stop-color="#f37f86"/><stop offset="0.5" stop-color="#f38b92"/><stop offset="0.54" stop-color="#f2999f"/><stop offset="0.58" stop-color="#f2a9af"/><stop offset="0.62" stop-color="#f3bbc0"/><stop offset="0.67" stop-color="#f6d1d4"/><stop offset="0.71" stop-color="#fae8ea"/><stop offset="0.75" stop-color="#fbfbff"/><stop offset="0.79" stop-color="#dcd9ff"/><stop offset="0.83" stop-color="#bcb6ff"/><stop offset="0.88" stop-color="#9c94ff"/><stop offset="0.92" stop-color="#7c71ff"/><stop offset="0.96" stop-color="#5c4fff"/><stop offset="1" stop-color="#3d2cff"/></linearGradient>
<linearGradient id="g85" x1="0" y1="0" x2="0" y2="1"><stop offset="0" stop-color="#fc3a40"/><stop offset="0.04" stop-color="#fb3e44"/><stop offset="0.08" stop-color="#fa4148"/><stop offset="0.12" stop-color="#f9464c"/><stop offset="0.17" stop-color="#f84a51"/><stop offset="0.21" stop-color="#f75057"/><stop offset="0.25" stop-color="#f5565d"/><stop offset="0.29" stop-color="#f55c63"/><stop offset="0.33" stop-color="#f4636a"/><stop offset="0.38" stop-color="#f46b72"/><stop offset="0.42" stop-color="#f3757c"/><stop offset="0.46" stop-color="#f38087"/><stop offset="0.5" stop-color="#f38d93"/><stop offset="0.54" stop-color="#f29ba1"/><stop offset="0.58" stop-color="#f2abb1"/><stop offset="0.62" stop-color="#f4bec3"/><stop offset="0.67" stop-color="#f6d4d7"/><stop offset="0.71" stop-color="#fbeced"/><stop offset="0.75" stop-color="#f7f6ff"/><stop offset="0.79" stop-color="#d7d4ff"/><stop offset="0.83" stop-color="#b8b2ff"/><stop offset="0.88" stop-color="#9890ff"/><stop offset="0.92" stop-color="#796eff"/><stop offset="0.96" stop-color="#5a4bff"/><stop offset="1" stop-color="#3a29ff"/></linearGradient>
<linearGradient id="g86" x1="0" y1="0" x2="0" y2="1"><stop offset="0" stop-color="#fc393f"/><stop offset="0.04" stop-color="#fb3d43"/><stop offset="0.08" stop-color="#fa4147"/><stop offset="0.12" stop-color="#f9454c"/><stop offset="0.17" stop-color="#f84a51"/><stop offset="0.21" stop-color="#f75056"/><stop offset="0.25" stop-color="#f6565d"/><stop offset="0.29" stop-color="#f55c63"/><stop offset="0.33" stop-color="#f4646b"/><stop offset="0.38" stop-color="#f46c73"/><stop offset="0.42" stop-color="#f3757c"/><stop offset="0.46" stop-color="#f38188"/><stop offset="0.5" stop-color="#f38e94"/><stop offset="0.54" stop-color="#f29da3"/><stop offset="0.58" stop-color="#f2adb3"/><stop offset="0.62" stop-color="#f4c1c5"/><stop offset="0.67" stop-color="#f6d7da"/><stop offset="0.71" stop-color="#fceff1"/><stop offset="0.75" stop-color="#f2f1ff"/><stop offset="0.79" stop-color="#d3cfff"/><stop offset="0.83" stop-color="#b4aeff"/><stop offset="0.88" stop-color="#958cff"/><stop offset="0.92" stop-color="#766aff"/><stop offset="0.96" stop-color="#5748ff"/><stop offset="1" stop-color="#3827ff"/></linearGradient>
<linearGradient id="g87" x1="0" y1="0" x2="0" y2="1"><stop offset="0" stop-color="#fc383f"/><stop offset="0.04" stop-color="#fb3c42"/><stop offset="0.08" stop-color="#fa4046"/><stop offset="0.12" stop-color="#f9454b"/><stop offset="0.17" stop-color="#f84a50"/><stop offset="0.21" stop-color="#f74f56"/><stop offset="0.25" stop-color="#f6565d"/><stop offset="0.29" stop-color="#f55c63"/><stop offset="0.33" stop-color="#f4646b"/><stop offset="0.38" stop-color="#f36c73"/><stop offset="0.42" stop-color="#f3767d"/><stop offset="0.46" stop-color="#f38289"/><stop offset="0.5" stop-color="#f38f96"/><stop offset="0.54" stop-color="#f29ea5"/><stop offset="0.58" stop-color="#f2afb5"/><stop offset="0.62" stop-color="#f4c4c8"/><stop offset="0.67" stop-color="#f7dbdd"/><stop offset="0.71" stop-color="#fcf3f4"/><stop offset="0.75" stop-color="#eeecff"/><stop offset="0.79" stop-color="#cfcbff"/><stop offset="0.83" stop-color="#b0a9ff"/><stop offset="0.88" stop-color="#9188ff"/><stop offset="0.92" stop-color="#7367ff"/><stop offset="0.96" stop-color="#5445ff"/><stop offset="1" stop-color="#3524ff"/></linearGradient>
<linearGradient id="g88" x1="0" y1="0" x2="0" y2="1"><stop offset="0" stop-color="#fc383e"/><stop offset="0.04" stop-color="#fb3b41"/><stop offset="0.08" stop-color="#fa3f46"/><stop offset="0.12" stop-color="#f9444b"/><stop offset="0.17" stop-color="#f84950"/><stop offset="0.21" stop-color="#f74f56"/><stop offset="0.25" stop-color="#f6565d"/><stop offset="0.29" stop-color="#f55d64"/><stop offset="0.33" stop-color="#f4646b"/><stop offset="0.38" stop-color="#f36d74"/><stop offset="0.42" stop-color="#f3777e"/><stop offset="0.46" stop-color="#f3838a"/><stop offset="0.5" stop-color="#f29197"/><stop offset="0.54" stop-color="#f2a0a6"/><stop offset="0.58" stop-color="#f3b2b7"/><stop offset="0.62" stop-color="#f5c7cb"/><stop offset="0.67" stop-color="#f8dee0"/><stop offset="0.71" stop-color="#fdf7f8"/><stop offset="0.75" stop-color="#e9e8ff"/><stop offset="0.79" stop-color="#cbc6ff"/><stop offset="0.83" stop-color="#aca5ff"/><stop offset="0.88" stop-color="#8e84ff"/><stop offset="0.92" stop-color="#6f63ff"/><stop offset="0.96" stop-color="#5142ff"/><stop offset="1" stop-color="#3321ff"/></linearGradient>
<linearGradient id="g89" x1="0" y1="0" x2="0" y2="1"><stop offset="0" stop-color="#fc373d"/><stop offset="0.04" stop-color="#fc3b41"/><stop offset="0.08" stop-color="#fb3f45"/><stop offset="0.12" stop-color="#fa444a"/><stop offset="0.17" stop-color="#f84950"/><stop offset="0.21" stop-color="#f74f56"/><stop offset="0.25" stop-color="#f6565d"/><stop offset="0.29" stop-color="#f55d64"/><stop offset="0.33" stop-color="#f4656c"/><stop offset="0.38" stop-color="#f36e75"/><stop offset="0.42" stop-color="#f3787f"/><stop offset="0.46" stop-color="#f3858b"/><stop offset="0.5" stop-color="#f29399"/><stop offset="0.54" stop-color="#f2a2a8"/><stop offset="0.58" stop-color="#f3b4ba"/><stop offset="0.62" stop-color="#f5cace"/><stop offset="0.67" stop-color="#f8e1e3"/><stop offset="0.71" stop-color="#fefbfb"/><stop offset="0.75" stop-color="#e5e3ff"/><stop offset="0.79" stop-color="#c7c2ff"/><stop offset="0.83" stop-color="#a9a1ff"/><stop offset="0.88" stop-color="#8b81ff"/><stop offset="0.92" stop-color="#6c60ff"/><stop offset="0.96" stop-color="#4e3fff"/><stop offset="1" stop-color="#301fff"/></linearGradient>
<linearGradient id="g90" x1="0" y1="0" x2="0" y2="1"><stop offset="0" stop-color="#fd363c"/><stop offset="0.04" stop-color="#fc3a40"/><stop offset="0.08" stop-color="#fb3e45"/><stop offset="0.12" stop-color="#fa434a"/><stop offset="0.17" stop-color="#f8494f"/><stop offset="0.21" stop-color="#f74f56"/><stop offset="0.25" stop-color="#f6565d"/><stop offset="0.29" stop-color="#f55d64"/><stop offset="0.33" stop-color="#f4656c"/><stop offset="0.38" stop-color="#f36e75"/><stop offset="0.42" stop-color="#f37980"/><stop offset="0.46" stop-color="#f3868d"/><stop offset="0.5" stop-color="#f2949b"/><stop offset="0.54" stop-color="#f2a4aa"/><stop offset="0.58" stop-color="#f3b7bc"/><stop offset="0.62" stop-color="#f5cdd1"/><stop offset="0.67" stop-color="#f9e5e7"/><stop offset="0.71" stop-color="#ffffff"/><stop offset="0.75" stop-color="#e1deff"/><stop offset="0.79" stop-color="#c3beff"/><stop offset="0.83" stop-color="#a59eff"/><stop offset="0.88" stop-color="#877dff"/><stop offset="0.92" stop-color="#695dff"/><stop offset="0.96" stop-color="#4c3cff"/><stop offset="1" stop-color="#2e1cff"/></linearGradient>
<linearGradient id="g91" x1="0" y1="0" x2="0" y2="1"><stop offset="0" stop-color="#fd353b"/><stop offset="0.04" stop-color="#fc393f"/><stop offset="0.08" stop-color="#fb3e44"/><stop offset="0.12" stop-color="#fa4349"/><stop offset="0.17" stop-color="#f8484f"/><stop offset="0.21" stop-color="#f74f55"/><stop offset="0.25" stop-color="#f5565d"/><stop offset="0.29" stop-color="#f55d64"/><stop offset="0.33" stop-color="#f4666d"/><stop offset="0.38" stop-color="#f36f76"/><stop offset="0.42" stop-color="#f37a81"/><stop offset="0.46" stop-color="#f3878e"/><stop offset="0.5" stop-color="#f2969c"/><stop offset="0.54" stop-color="#f2a6ac"/><stop offset="0.58" stop-color="#f3babf"/><stop offset="0.62" stop-color="#f5d0d4"/><stop offset="0.67" stop-color="#fae8ea"/><stop offset="0.71" stop-color="#fafaff"/><stop offset="0.75" stop-color="#dddaff"/><stop offset="0.79" stop-color="#bfbaff"/><stop offset="0.83" stop-color="#a29aff"/><stop offset="0.88" stop-color="#847aff"/><stop offset="0.92" stop-color="#675aff"/><stop offset="0.96" stop-color="#493aff"/><stop offset="1" stop-color="#2b19ff"/></linearGradient>
<linearGradient id="g92" x1="0" y1="0" x2="0" y2="1"><stop offset="0" stop-color="#fd343a"/><stop offset="0.04" stop-color="#fc383e"/><stop offset="0.08" stop-color="#fb3d43"/><stop offset="0.12" stop-color="#fa4248"/><stop offset="0.17" stop-color="#f9484e"/><stop offset="0.21" stop-color="#f74e55"/><stop offset="0.25" stop-color="#f6565d"/><stop offset="0.29" stop-color="#f55d64"/><stop offset="0.33" stop-color="#f4666d"/><stop offset="0.38" stop-color="#f37077"/><stop offset="0.42" stop-color="#f37b82"/><stop offset="0.46" stop-color="#f3898f"/><stop offset="0.5" stop-color="#f2989e"/><stop offset="0.54" stop-color="#f2a8af"/><stop offset="0.58" stop-color="#f4bdc1"/><stop offset="0.62" stop-color="#f6d4d7"/><stop offset="0.67" stop-color="#fbecee"/><stop offset="0.71" stop-color="#f6f5ff"/><stop offset="0.75" stop-color="#d9d6ff"/><stop offset="0.79" stop-color="#bcb6ff"/><stop offset="0.83" stop-color="#9e96ff"/><stop offset="0.88" stop-color="#8176ff"/><stop offset="0.92" stop-color="#6456ff"/><stop offset="0.96" stop-color="#4637ff"/><stop offset="1" stop-color="#2917ff"/></linearGradient>
<linearGradient id="g93" x1="0" y1="0" x2="0" y2="1"><stop offset="0" stop-color="#fd3339"/><stop offset="0.04" stop-color="#fc363c"/><stop offset="0.08" stop-color="#fb3b41"/><stop offset="0.12" stop-color="#fa4147"/><stop offset="0.17" stop-color="#f9474d"/><stop offset="0.21" stop-color="#f74e54"/><stop offset="0.25" stop-color="#f6555c"/><stop offset="0.29" stop-color="#f55d64"/><stop offset="0.33" stop-color="#f4666d"/><stop offset="0.38" stop-color="#f37077"/><stop offset="0.42" stop-color="#f37c83"/><stop offset="0.46" stop-color="#f38a91"/><stop offset="0.5" stop-color="#f299a0"/><stop offset="0.54" stop-color="#f2abb1"/><stop offset="0.58" stop-color="#f4c0c4"/><stop offset="0.62" stop-color="#f6d7da"/><stop offset="0.67" stop-color="#fcf0f1"/><stop offset="0.71" stop-color="#f2f1ff"/><stop offset="0.75" stop-color="#d5d1ff"/><stop offset="0.79" stop-color="#b8b2ff"/><stop offset="0.83" stop-color="#9b92ff"/><stop offset="0.88" stop-color="#7e73ff"/><stop offset="0.92" stop-color="#6153ff"/><stop offset="0.96" stop-color="#4434ff"/><stop offset="1" stop-color="#2715ff"/></linearGradient>
<linearGradient id="g94" x1="0" y1="0" x2="0" y2="1"><stop offset="0" stop-color="#fd3237"/><stop offset="0.04" stop-color="#fd353b"/><stop offset="0.08" stop-color="#fc3a40"/><stop offset="0.12" stop-color="#fa3f46"/><stop offset="0.17" stop-color="#f9464c"/><stop offset="0.21" stop-color="#f74d54"/><stop offset="0.25" stop-color="#f6555c"/><stop offset="0.29" stop-color="#f55d64"/><stop offset="0.33" stop-color="#f4666d"/><stop offset="0.38" stop-color="#f37178"/><stop offset="0.42" stop-color="#f37d84"/><stop offset="0.46" stop-color="#f38c92"/><stop offset="0.5" stop-color="#f29ba2"/><stop offset="0.54" stop-color="#f2adb3"/><stop offset="0.58" stop-color="#f4c3c7"/><stop offset="0.62" stop-color="#f7dadd"/><stop offset="0.67" stop-color="#fdf4f5"/><stop offset="0.71" stop-color="#eeecff"/><stop offset="0.75" stop-color="#d1cdff"/><stop offset="0.79" stop-color="#b4aeff"/><stop offset="0.83" stop-color="#988fff"/><stop offset="0.88" stop-color="#7b70ff"/><stop offset="0.92" stop-color="#5e50ff"/><stop offset="0.96" stop-color="#4131ff"/><stop offset="1" stop-color="#2512ff"/></linearGradient>
<linearGradient id="g95" x1="0" y1="0" x2="0" y2="1"><stop offset="0" stop-color="#fd3236"/><stop offset="0.04" stop-color="#fd3439"/><stop offset="0.08" stop-color="#fc383e"/><stop offset="0.12" stop-color="#fb3e44"/><stop offset="0.17" stop-color="#f9454b"/><stop offset="0.21" stop-color="#f84c53"/><stop offset="0.25" stop-color="#f6545b"/><stop offset="0.29" stop-color="#f55d64"/><stop offset="0.33" stop-color="#f4676e"/><stop offset="0.38" stop-color="#f37178"/><stop offset="0.42" stop-color="#f37e85"/><stop offset="0.46" stop-color="#f38d94"/><stop offset="0.5" stop-color="#f29da4"/><stop offset="0.54" stop-color="#f2b0b6"/><stop offset="0.58" stop-color="#f4c6ca"/><stop offset="0.62" stop-color="#f8dee0"/><stop offset="0.67" stop-color="#fef8f9"/><stop offset="0.71" stop-color="#e9e8ff"/><stop offset="0.75" stop-color="#cdc9ff"/><stop offset="0.79" stop-color="#b1aaff"/><stop offset="0.83" stop-color="#948bff"/><stop offset="0.88" stop-color="#786cff"/><stop offset="0.92" stop-color="#5b4dff"/><stop offset="0.96" stop-color="#3f2fff"/><stop offset="1" stop-color="#2310ff"/></linearGradient>
<linearGradient id="g96" x1="0" y1="0" x2="0" y2="1"><stop offset="0" stop-color="#fd3135"/><stop offset="0.04" stop-color="#fd3338"/><stop offset="0.08" stop-color="#fc373d"/><stop offset="0.12" stop-color="#fb3d43"/><stop offset="0.17" stop-color="#f9444b"/><stop offset="0.21" stop-color="#f84c52"/><stop offset="0.25" stop-color="#f6545b"/><stop offset="0.29" stop-color="#f55d64"/><stop offset="0.33" stop-color="#f4676e"/><stop offset="0.38" stop-color="#f37279"/><stop offset="0.42" stop-color="#f38086"/><stop offset="0.46" stop-color="#f38f95"/><stop offset="0.5" stop-color="#f2a0a6"/><stop offset="0.54" stop-color="#f3b3b8"/><stop offset="0.58" stop-color="#f5c9cd"/><stop offset="0.62" stop-color="#f9e2e4"/><stop offset="0.67" stop-color="#fefcfd"/><stop offset="0.71" stop-color="#e5e3ff"/><stop offset="0.75" stop-color="#c9c5ff"/><stop offset="0.79" stop-color="#ada6ff"/><stop offset="0.83" stop-color="#9188ff"/><stop offset="0.88" stop-color="#7569ff"/><stop offset="0.92" stop-color="#594aff"/><stop offset="0.96" stop-color="#3c2cff"/><stop offset="1" stop-color="#200dff"/></linearGradient>
<linearGradient id="g97" x1="0" y1="0" x2="0" y2="1"><stop offset="0" stop-color="#fd3034"/><stop offset="0.04" stop-color="#fd3237"/><stop offset="0.08" stop-color="#fd363c"/><stop offset="0.12" stop-color="#fb3c42"/><stop offset="0.17" stop-color="#fa434a"/><stop offset="0.21" stop-color="#f84b52"/><stop offset="0.25" stop-color="#f6545b"/><stop offset="0.29" stop-color="#f55e65"/><stop offset="0.33" stop-color="#f4686f"/><stop offset="0.38" stop-color="#f3737a"/><stop offset="0.42" stop-color="#f38188"/><stop offset="0.46" stop-color="#f29197"/><stop offset="0.5" stop-color="#f2a2a8"/><stop offset="0.54" stop-color="#f3b6bb"/><stop offset="0.58" stop-color="#f5cdd0"/><stop offset="0.62" stop-color="#f9e6e7"/><stop offset="0.67" stop-color="#fdfdff"/><stop offset="0.71" stop-color="#e1dfff"/><stop offset="0.75" stop-color="#c6c1ff"/><stop offset="0.79" stop-color="#aaa2ff"/><stop offset="0.83" stop-color="#8e84ff"/><stop offset="0.88" stop-color="#7266ff"/><stop offset="0.92" stop-color="#5648ff"/><stop offset="0.96" stop-color="#3a29ff"/><stop offset="1" stop-color="#1e0bff"/></linearGradient>
<linearGradient id="g98" x1="0" y1="0" x2="0" y2="1"><stop offset="0" stop-color="#fd3033"/><stop offset="0.04" stop-color="#fd3236"/><stop offset="0.08" stop-color="#fd353b"/><stop offset="0.12" stop-color="#fb3b42"/><stop offset="0.17" stop-color="#fa4349"/><stop offset="0.21" stop-color="#f84b52"/><stop offset="0.25" stop-color="#f6545b"/><stop offset="0.29" stop-color="#f55e65"/><stop offset="0.33" stop-color="#f4686f"/><stop offset="0.38" stop-color="#f3747b"/><stop offset="0.42" stop-color="#f38389"/><stop offset="0.46" stop-color="#f29399"/><stop offset="0.5" stop-color="#f2a4aa"/><stop offset="0.54" stop-color="#f3b9be"/><stop offset="0.58" stop-color="#f5d0d4"/><stop offset="0.62" stop-color="#fae9eb"/><stop offset="0.67" stop-color="#f9f9ff"/><stop offset="0.71" stop-color="#dddbff"/><stop offset="0.75" stop-color="#c2bdff"/><stop offset="0.79" stop-color="#a69eff"/><stop offset="0.83" stop-color="#8a80ff"/><stop offset="0.88" stop-color="#6f62ff"/><stop offset="0.92" stop-color="#5344ff"/><stop offset="0.96" stop-color="#3726ff"/><stop offset="1" stop-color="#1c08ff"/></linearGradient>
<linearGradient id="g99" x1="0" y1="0" x2="0" y2="1"><stop offset="0" stop-color="#fd2f32"/><stop offset="0.04" stop-color="#fd3136"/><stop offset="0.08" stop-color="#fd343a"/><stop offset="0.12" stop-color="#fc3b41"/><stop offset="0.17" stop-color="#fa4249"/><stop offset="0.21" stop-color="#f84b51"/><stop offset="0.25" stop-color="#f6545b"/><stop offset="0.29" stop-color="#f55e65"/><stop offset="0.33" stop-color="#f46970"/><stop offset="0.38" stop-color="#f3757c"/><stop offset="0.42" stop-color="#f3848b"/><stop offset="0.46" stop-color="#f2959b"/><stop offset="0.5" stop-color="#f2a7ad"/><stop offset="0.54" stop-color="#f4bcc1"/><stop offset="0.58" stop-color="#f6d4d7"/><stop offset="0.62" stop-color="#fbedef"/><stop offset="0.67" stop-color="#f5f4ff"/><stop offset="0.71" stop-color="#d9d6ff"/><stop offset="0.75" stop-color="#beb8ff"/><stop offset="0.79" stop-color="#a29aff"/><stop offset="0.83" stop-color="#867cff"/><stop offset="0.88" stop-color="#6b5eff"/><stop offset="0.92" stop-color="#4f40ff"/><stop offset="0.96" stop-color="#3322ff"/><stop offset="1" stop-color="#1804ff"/></linearGradient>
<linearGradient id="g100" x1="0" y1="0" x2="0" y2="1"><stop offset="0" stop-color="#fd2e31"/><stop offset="0.04" stop-color="#fd3135"/><stop offset="0.08" stop-color="#fd3339"/><stop offset="0.12" stop-color="#fc3a40"/><stop offset="0.17" stop-color="#fa4248"/><stop offset="0.21" stop-color="#f84b51"/><stop offset="0.25" stop-color="#f6555b"/><stop offset="0.29" stop-color="#f45f66"/><stop offset="0.33" stop-color="#f46a71"/><stop offset="0.38" stop-color="#f3777e"/><stop offset="0.42" stop-color="#f3868d"/><stop offset="0.46" stop-color="#f2979d"/><stop offset="0.5" stop-color="#f2a9af"/><stop offset="0.54" stop-color="#f4bfc4"/><stop offset="0.58" stop-color="#f6d8da"/><stop offset="0.62" stop-color="#fcf1f2"/><stop offset="0.67" stop-color="#f1f0ff"/><stop offset="0.71" stop-color="#d5d2ff"/><stop offset="0.75" stop-color="#bab4ff"/><stop offset="0.79" stop-color="#9e96ff"/><stop offset="0.83" stop-color="#8278ff"/><stop offset="0.88" stop-color="#675aff"/><stop offset="0.92" stop-color="#4b3cff"/><stop offset="0.96" stop-color="#2f1eff"/><stop offset="1" stop-color="#1400ff"/></linearGradient>
<linearGradient id="g101" x1="0" y1="0" x2="0" y2="1"><stop offset="0" stop-color="#fe2e30"/><stop offset="0.04" stop-color="#fd3034"/><stop offset="0.08" stop-color="#fd3339"/><stop offset="0.12" stop-color="#fc3940"/><stop offset="0.17" stop-color="#fa4248"/><stop offset="0.21" stop-color="#f84b51"/><stop offset="0.25" stop-color="#f6555c"/><stop offset="0.29" stop-color="#f45f66"/><stop offset="0.33" stop-color="#f46b72"/><stop offset="0.38" stop-color="#f3787f"/><stop offset="0.42" stop-color="#f3888e"/><stop offset="0.46" stop-color="#f2999f"/><stop offset="0.5" stop-color="#f2acb2"/><stop offset="0.54" stop-color="#f4c2c7"/><stop offset="0.58" stop-color="#f7dbde"/><stop offset="0.62" stop-color="#fdf6f6"/><stop offset="0.67" stop-color="#edebff"/><stop offset="0.71" stop-color="#d1cdff"/><stop offset="0.75" stop-color="#b5afff"/><stop offset="0.79" stop-color="#9a91ff"/><stop offset="0.83" stop-color="#7e73ff"/><stop offset="0.88" stop-color="#6355ff"/><stop offset="0.92" stop-color="#4737ff"/><stop offset="0.96" stop-color="#2b19ff"/><stop offset="1" stop-color="#1400ff"/></linearGradient>
<linearGradient id="g102" x1="0" y1="0" x2="0" y2="1"><stop offset="0" stop-color="#fe2d2f"/><stop offset="0.04" stop-color="#fd3034"/><stop offset="0.08" stop-color="#fd3338"/><stop offset="0.12" stop-color="#fc393f"/><stop offset="0.17" stop-color="#fa4248"/><stop offset="0.21" stop-color="#f84b52"/><stop offset="0.25" stop-color="#f6555c"/><stop offset="0.29" stop-color="#f46067"/><stop offset="0.33" stop-color="#f46c73"/><stop offset="0.38" stop-color="#f37a81"/><stop offset="0.42" stop-color="#f38a90"/><stop offset="0.46" stop-color="#f29ba1"/><stop offset="0.5" stop-color="#f2afb5"/><stop offset="0.54" stop-color="#f4c6ca"/><stop offset="0.58" stop-color="#f8dfe1"/><stop offset="0.62" stop-color="#fefafa"/><stop offset="0.67" stop-color="#e8e7ff"/><stop offset="0.71" stop-color="#cdc9ff"/><stop offset="0.75" stop-color="#b1abff"/><stop offset="0.79" stop-color="#968dff"/><stop offset="0.83" stop-color="#7a6fff"/><stop offset="0.88" stop-color="#5f51ff"/><stop offset="0.92" stop-color="#4333ff"/><stop offset="0.96" stop-color="#2815ff"/><stop offset="1" stop-color="#1400ff"/></linearGradient>
<linearGradient id="g103" x1="0" y1="0" x2="0" y2="1"><stop offset="0" stop-color="#fe2d2f"/><stop offset="0.04" stop-color="#fd3033"/><stop offset="0.08" stop-color="#fd3338"/><stop offset="0.12" stop-color="#fc393f"/><stop offset="0.17" stop-color="#fa4148"/><stop offset="0.21" stop-color="#f84b52"/><stop offset="0.25" stop-color="#f5565d"/><stop offset="0.29" stop-color="#f46168"/><stop offset="0.33" stop-color="#f36d74"/><stop offset="0.38" stop-color="#f37b82"/><stop offset="0.42" stop-color="#f38c92"/><stop offset="0.46" stop-color="#f29ea4"/><stop offset="0.5" stop-color="#f3b2b7"/><stop offset="0.54" stop-color="#f5c9cd"/><stop offset="0.58" stop-color="#f9e3e5"/><stop offset="0.62" stop-color="#fffefe"/><stop offset="0.67" stop-color="#e4e2ff"/><stop offset="0.71" stop-color="#c9c4ff"/><stop offset="0.75" stop-color="#ada6ff"/><stop offset="0.79" stop-color="#9288ff"/><stop offset="0.83" stop-color="#766bff"/><stop offset="0.88" stop-color="#5b4dff"/><stop offset="0.92" stop-color="#3f2fff"/><stop offset="0.96" stop-color="#2411ff"/><stop offset="1" stop-color="#1400ff"/></linearGradient>
<linearGradient id="g104" x1="0" y1="0" x2="0" y2="1"><stop offset="0" stop-color="#fe2c2e"/><stop offset="0.04" stop-color="#fd2f32"/><stop offset="0.08" stop-color="#fd3237"/><stop offset="0.12" stop-color="#fc383e"/><stop offset="0.17" stop-color="#fa4147"/><stop offset="0.21" stop-color="#f84b52"/><stop offset="0.25" stop-color="#f5565d"/><stop offset="0.29" stop-color="#f46168"/><stop offset="0.33" stop-color="#f36e75"/><stop offset="0.38" stop-color="#f37c83"/><stop offset="0.42" stop-color="#f38d93"/><stop offset="0.46" stop-color="#f29fa5"/><stop offset="0.5" stop-color="#f3b4b9"/><stop offset="0.54" stop-color="#f5cccf"/><stop offset="0.58" stop-color="#f9e5e7"/><stop offset="0.62" stop-color="#fdfdff"/><stop offset="0.67" stop-color="#e2dfff"/><stop offset="0.71" stop-color="#c6c1ff"/><stop offset="0.75" stop-color="#aba3ff"/><stop offset="0.79" stop-color="#8f86ff"/><stop offset="0.83" stop-color="#7468ff"/><stop offset="0.88" stop-color="#584aff"/><stop offset="0.92" stop-color="#3d2cff"/><stop offset="0.96" stop-color="#210eff"/><stop offset="1" stop-color="#1400ff"/></linearGradient>
<linearGradient id="g105" x1="0" y1="0" x2="0" y2="1"><stop offset="0" stop-color="#fe2c2d"/><stop offset="0.04" stop-color="#fd2f31"/><stop offset="0.08" stop-color="#fd3236"/><stop offset="0.12" stop-color="#fc373d"/><stop offset="0.17" stop-color="#fa4046"/><stop offset="0.21" stop-color="#f84a51"/><stop offset="0.25" stop-color="#f6555c"/><stop offset="0.29" stop-color="#f46168"/><stop offset="0.33" stop-color="#f36d74"/><stop offset="0.38" stop-color="#f37c83"/><stop offset="0.42" stop-color="#f38d94"/><stop offset="0.46" stop-color="#f2a0a6"/><stop offset="0.5" stop-color="#f3b4ba"/><stop offset="0.54" stop-color="#f5cdd0"/><stop offset="0.58" stop-color="#fae6e8"/><stop offset="0.62" stop-color="#fcfcff"/><stop offset="0.67" stop-color="#e0deff"/><stop offset="0.71" stop-color="#c5c0ff"/><stop offset="0.75" stop-color="#aaa2ff"/><stop offset="0.79" stop-color="#8e84ff"/><stop offset="0.83" stop-color="#7367ff"/><stop offset="0.88" stop-color="#5749ff"/><stop offset="0.92" stop-color="#3c2bff"/><stop offset="0.96" stop-color="#200dff"/><stop offset="1" stop-color="#1400ff"/></linearGradient>
<linearGradient id="g106" x1="0" y1="0" x2="0" y2="1"><stop offset="0" stop-color="#fe2b2c"/><stop offset="0.04" stop-color="#fe2e30"/><stop offset="0.08" stop-color="#fd3135"/><stop offset="0.12" stop-color="#fd363c"/><stop offset="0.17" stop-color="#fb3f45"/><stop offset="0.21" stop-color="#f84950"/><stop offset="0.25" stop-color="#f6555c"/><stop offset="0.29" stop-color="#f46168"/><stop offset="0.33" stop-color="#f36d74"/><stop offset="0.38" stop-color="#f37c83"/><stop offset="0.42" stop-color="#f38d94"/><stop offset="0.46" stop-color="#f2a0a6"/><stop offset="0.5" stop-color="#f3b5bb"/><stop offset="0.54" stop-color="#f5ced1"/><stop offset="0.58" stop-color="#fae7e9"/><stop offset="0.62" stop-color="#fbfaff"/><stop offset="0.67" stop-color="#dfddff"/><stop offset="0.71" stop-color="#c4bfff"/><stop offset="0.75" stop-color="#a9a1ff"/><stop offset="0.79" stop-color="#8d83ff"/><stop offset="0.83" stop-color="#7266ff"/><stop offset="0.88" stop-color="#5648ff"/><stop offset="0.92" stop-color="#3b2aff"/><stop offset="0.96" stop-color="#1f0cff"/><stop offset="1" stop-color="#1400ff"/></linearGradient>
<linearGradient id="g107" x1="0" y1="0" x2="0" y2="1"><stop offset="0" stop-color="#fe2a2b"/><stop offset="0.04" stop-color="#fe2d2f"/><stop offset="0.08" stop-color="#fd3135"/><stop offset="0.12" stop-color="#fd353b"/><stop offset="0.17" stop-color="#fb3e44"/><stop offset="0.21" stop-color="#f8494f"/><stop offset="0.25" stop-color="#f6545b"/><stop offset="0.29" stop-color="#f46067"/><stop offset="0.33" stop-color="#f36d74"/><stop offset="0.38" stop-color="#f37c83"/><stop offset="0.42" stop-color="#f38e94"/><stop offset="0.46" stop-color="#f2a0a7"/><stop offset="0.5" stop-color="#f3b6bb"/><stop offset="0.54" stop-color="#f5ced2"/><stop offset="0.58" stop-color="#fae8ea"/><stop offset="0.62" stop-color="#faf9ff"/><stop offset="0.67" stop-color="#dedcff"/><stop offset="0.71" stop-color="#c3beff"/><stop offset="0.75" stop-color="#a8a0ff"/><stop offset="0.79" stop-color="#8c82ff"/><stop offset="0.83" stop-color="#7165ff"/><stop offset="0.88" stop-color="#5547ff"/><stop offset="0.92" stop-color="#3a29ff"/><stop offset="0.96" stop-color="#1f0bff"/><stop offset="1" stop-color="#1400ff"/></linearGradient>
<linearGradient id="g108" x1="0" y1="0" x2="0" y2="1"><stop offset="0" stop-color="#fe2a2a"/><stop offset="0.04" stop-color="#fe2d2f"/><stop offset="0.08" stop-color="#fd3034"/><stop offset="0.12" stop-color="#fd343a"/><stop offset="0.17" stop-color="#fb3d44"/><stop offset="0.21" stop-color="#f9484f"/><stop offset="0.25" stop-color="#f6545b"/><stop offset="0.29" stop-color="#f46067"/><stop offset="0.33" stop-color="#f36d74"/><stop offset="0.38" stop-color="#f37c83"/><stop offset="0.42" stop-color="#f38e94"/><stop offset="0.46" stop-color="#f2a1a7"/><stop offset="0.5" stop-color="#f3b7bc"/><stop offset="0.54" stop-color="#f5cfd3"/><stop offset="0.58" stop-color="#faeaeb"/><stop offset="0.62" stop-color="#f9f8ff"/><stop offset="0.67" stop-color="#dddaff"/><stop offset="0.71" stop-color="#c2bdff"/><stop offset="0.75" stop-color="#a79fff"/><stop offset="0.79" stop-color="#8b81ff"/><stop offset="0.83" stop-color="#7064ff"/><stop offset="0.88" stop-color="#5446ff"/><stop offset="0.92" stop-color="#3928ff"/><stop offset="0.96" stop-color="#1e0bff"/><stop offset="1" stop-color="#1400ff"/></linearGradient>
<linearGradient id="g109" x1="0" y1="0" x2="0" y2="1"><stop offset="0" stop-color="#fe2929"/><stop offset="0.04" stop-color="#fe2c2e"/><stop offset="0.08" stop-color="#fd3033"/><stop offset="0.12" stop-color="#fd3339"/><stop offset="0.17" stop-color="#fb3c43"/><stop offset="0.21" stop-color="#f9474e"/><stop offset="0.25" stop-color="#f6535a"/><stop offset="0.29" stop-color="#f46067"/><stop offset="0.33" stop-color="#f36d74"/><stop offset="0.38" stop-color="#f37d83"/><stop offset="0.42" stop-color="#f38e95"/><stop offset="0.46" stop-color="#f2a1a8"/><stop offset="0.5" stop-color="#f3b7bd"/><stop offset="0.54" stop-color="#f5d0d4"/><stop offset="0.58" stop-color="#fbebec"/><stop offset="0.62" stop-color="#f8f7ff"/><stop offset="0.67" stop-color="#dcd9ff"/><stop offset="0.71" stop-color="#c1bcff"/><stop offset="0.75" stop-color="#a69eff"/><stop offset="0.79" stop-color="#8a80ff"/><stop offset="0.83" stop-color="#6f63ff"/><stop offset="0.88" stop-color="#5445ff"/><stop offset="0.92" stop-color="#3827ff"/><stop offset="0.96" stop-color="#1d0aff"/><stop offset="1" stop-color="#1400ff"/></linearGradient>
<linearGradient id="g110" x1="0" y1="0" x2="0" y2="1"><stop offset="0" stop-color="#fe2928"/><stop offset="0.04" stop-color="#fe2c2d"/><stop offset="0.08" stop-color="#fd2f32"/><stop offset="0.12" stop-color="#fd3338"/><stop offset="0.17" stop-color="#fb3c42"/><stop offset="0.21" stop-color="#f9474d"/><stop offset="0.25" stop-color="#f6535a"/><stop offset="0.29" stop-color="#f45f66"/><stop offset="0.33" stop-color="#f36d74"/><stop offset="0.38" stop-color="#f37d83"/><stop offset="0.42" stop-color="#f38f95"/><stop offset="0.46" stop-color="#f2a2a8"/><stop offset="0.5" stop-color="#f3b8bd"/><stop offset="0.54" stop-color="#f6d1d5"/><stop offset="0.58" stop-color="#fbeced"/><stop offset="0.62" stop-color="#f6f6ff"/><stop offset="0.67" stop-color="#dbd8ff"/><stop offset="0.71" stop-color="#c0baff"/><stop offset="0.75" stop-color="#a59dff"/><stop offset="0.79" stop-color="#897fff"/><stop offset="0.83" stop-color="#6e62ff"/><stop offset="0.88" stop-color="#5344ff"/><stop offset="0.92" stop-color="#3726ff"/><stop offset="0.96" stop-color="#1c09ff"/><stop offset="1" stop-color="#1400ff"/></linearGradient>
<linearGradient id="g111" x1="0" y1="0" x2="0" y2="1"><stop offset="0" stop-color="#fe2827"/><stop offset="0.04" stop-color="#fe2b2c"/><stop offset="0.08" stop-color="#fd2f32"/><stop offset="0.12" stop-color="#fd3338"/><stop offset="0.17" stop-color="#fb3b41"/><stop offset="0.21" stop-color="#f9464d"/><stop offset="0.25" stop-color="#f65259"/><stop offset="0.29" stop-color="#f45f66"/><stop offset="0.33" stop-color="#f36d74"/><stop offset="0.38" stop-color="#f37d84"/><stop offset="0.42" stop-color="#f38f95"/><stop offset="0.46" stop-color="#f2a3a9"/><stop offset="0.5" stop-color="#f3b9be"/><stop offset="0.54" stop-color="#f6d2d5"/><stop offset="0.58" stop-color="#fbedee"/><stop offset="0.62" stop-color="#f5f4ff"/><stop offset="0.67" stop-color="#dad7ff"/><stop offset="0.71" stop-color="#bfb9ff"/><stop offset="0.75" stop-color="#a49cff"/><stop offset="0.79" stop-color="#887eff"/><stop offset="0.83" stop-color="#6d61ff"/><stop offset="0.88" stop-color="#5243ff"/><stop offset="0.92" stop-color="#3625ff"/><stop offset="0.96" stop-color="#1b08ff"/><stop offset="1" stop-color="#1400ff"/></linearGradient>
<linearGradient id="g112" x1="0" y1="0" x2="0" y2="1"><stop offset="0" stop-color="#fe2726"/><stop offset="0.04" stop-color="#fe2b2b"/><stop offset="0.08" stop-color="#fd2e31"/><stop offset="0.12" stop-color="#fd3237"/><stop offset="0.17" stop-color="#fc3a40"/><stop offset="0.21" stop-color="#f9464c"/><stop offset="0.25" stop-color="#f65259"/><stop offset="0.29" stop-color="#f45f66"/><stop offset="0.33" stop-color="#f36d74"/><stop offset="0.38" stop-color="#f37d84"/><stop offset="0.42" stop-color="#f38f96"/><stop offset="0.46" stop-color="#f2a3a9"/><stop offset="0.5" stop-color="#f3babf"/><stop offset="0.54" stop-color="#f6d3d6"/><stop offset="0.58" stop-color="#fbeeef"/><stop offset="0.62" stop-color="#f4f3ff"/><stop offset="0.67" stop-color="#d9d6ff"/><stop offset="0.71" stop-color="#beb8ff"/><stop offset="0.75" stop-color="#a39bff"/><stop offset="0.79" stop-color="#877dff"/><stop offset="0.83" stop-color="#6c60ff"/><stop offset="0.88" stop-color="#5142ff"/><stop offset="0.92" stop-color="#3624ff"/><stop offset="0.96" stop-color="#1a07ff"/><stop offset="1" stop-color="#1400ff"/></linearGradient>
<linearGradient id="g113" x1="0" y1="0" x2="0" y2="1"><stop offset="0" stop-color="#fe2725"/><stop offset="0.04" stop-color="#fe2a2b"/><stop offset="0.08" stop-color="#fe2e30"/><stop offset="0.12" stop-color="#fd3237"/><stop offset="0.17" stop-color="#fc3a40"/><stop offset="0.21" stop-color="#f9454c"/><stop offset="0.25" stop-color="#f65259"/><stop offset="0.29" stop-color="#f45f66"/><stop offset="0.33" stop-color="#f36d74"/><stop offset="0.38" stop-color="#f37d84"/><stop offset="0.42" stop-color="#f29096"/><stop offset="0.46" stop-color="#f2a4aa"/><stop offset="0.5" stop-color="#f3bbbf"/><stop offset="0.54" stop-color="#f6d4d7"/><stop offset="0.58" stop-color="#fbeff0"/><stop offset="0.62" stop-color="#f3f2ff"/><stop offset="0.67" stop-color="#d8d5ff"/><stop offset="0.71" stop-color="#bdb7ff"/><stop offset="0.75" stop-color="#a29aff"/><stop offset="0.79" stop-color="#867cff"/><stop offset="0.83" stop-color="#6b5fff"/><stop offset="0.88" stop-color="#5041ff"/><stop offset="0.92" stop-color="#3523ff"/><stop offset="0.96" stop-color="#1906ff"/><stop offset="1" stop-color="#1400ff"/></linearGradient>
<linearGradient id="g114" x1="0" y1="0" x2="0" y2="1"><stop offset="0" stop-color="#fe2624"/><stop offset="0.04" stop-color="#fe2a2a"/><stop offset="0.08" stop-color="#fe2e30"/><stop offset="0.12" stop-color="#fd3236"/><stop offset="0.17" stop-color="#fc393f"/><stop offset="0.21" stop-color="#f9454b"/><stop offset="0.25" stop-color="#f65259"/><stop offset="0.29" stop-color="#f45f66"/><stop offset="0.33" stop-color="#f36d74"/><stop offset="0.38" stop-color="#f37e85"/><stop offset="0.42" stop-color="#f29097"/><stop offset="0.46" stop-color="#f2a5ab"/><stop offset="0.5" stop-color="#f4bcc1"/><stop offset="0.54" stop-color="#f6d6d9"/><stop offset="0.58" stop-color="#fcf1f2"/><stop offset="0.62" stop-color="#f2f0ff"/><stop offset="0.67" stop-color="#d6d3ff"/><stop offset="0.71" stop-color="#bbb5ff"/><stop offset="0.75" stop-color="#a098ff"/><stop offset="0.79" stop-color="#857aff"/><stop offset="0.83" stop-color="#6a5dff"/><stop offset="0.88" stop-color="#4f40ff"/><stop offset="0.92" stop-color="#3322ff"/><stop offset="0.96" stop-color="#1805ff"/><stop offset="1" stop-color="#1400ff"/></linearGradient>
<linearGradient id="g115" x1="0" y1="0" x2="0" y2="1"><stop offset="0" stop-color="#fe2624"/><stop offset="0.04" stop-color="#fe2a2a"/><stop offset="0.08" stop-color="#fe2d30"/><stop offset="0.12" stop-color="#fd3236"/><stop offset="0.17" stop-color="#fc393f"/><stop offset="0.21" stop-color="#f9454c"/><stop offset="0.25" stop-color="#f65259"/><stop offset="0.29" stop-color="#f46067"/><stop offset="0.33" stop-color="#f36e75"/><stop offset="0.38" stop-color="#f37f86"/><stop offset="0.42" stop-color="#f29298"/><stop offset="0.46" stop-color="#f2a6ac"/><stop offset="0.5" stop-color="#f4bec3"/><stop offset="0.54" stop-color="#f6d8db"/><stop offset="0.58" stop-color="#fcf3f4"/><stop offset="0.62" stop-color="#efeeff"/><stop offset="0.67" stop-color="#d4d0ff"/><stop offset="0.71" stop-color="#b9b3ff"/><stop offset="0.75" stop-color="#9e95ff"/><stop offset="0.79" stop-color="#8278ff"/><stop offset="0.83" stop-color="#675aff"/><stop offset="0.88" stop-color="#4c3dff"/><stop offset="0.92" stop-color="#311fff"/><stop offset="0.96" stop-color="#1602ff"/><stop offset="1" stop-color="#1400ff"/></linearGradient>
<linearGradient id="g116" x1="0" y1="0" x2="0" y2="1"><stop offset="0" stop-color="#fe2623"/><stop offset="0.04" stop-color="#fe2929"/><stop offset="0.08" stop-color="#fe2d2f"/><stop offset="0.12" stop-color="#fd3236"/><stop offset="0.17" stop-color="#fc393f"/><stop offset="0.21" stop-color="#f9464c"/><stop offset="0.25" stop-color="#f6535a"/><stop offset="0.29" stop-color="#f46168"/><stop offset="0.33" stop-color="#f36f76"/><stop offset="0.38" stop-color="#f38087"/><stop offset="0.42" stop-color="#f2949a"/><stop offset="0.46" stop-color="#f2a8ae"/><stop offset="0.5" stop-color="#f4c0c5"/><stop offset="0.54" stop-color="#f7dbdd"/><stop offset="0.58" stop-color="#fdf6f7"/><stop offset="0.62" stop-color="#ecebff"/><stop offset="0.67" stop-color="#d1cdff"/><stop offset="0.71" stop-color="#b6b0ff"/><stop offset="0.75" stop-color="#9b93ff"/><stop offset="0.79" stop-color="#8075ff"/><stop offset="0.83" stop-color="#6558ff"/><stop offset="0.88" stop-color="#4a3aff"/><stop offset="0.92" stop-color="#2f1dff"/><stop offset="0.96" stop-color="#1400ff"/><stop offset="1" stop-color="#1400ff"/></linearGradient>
<linearGradient id="g117" x1="0" y1="0" x2="0" y2="1"><stop offset="0" stop-color="#fe2523"/><stop offset="0.04" stop-color="#fe2929"/><stop offset="0.08" stop-color="#fe2d2f"/><stop offset="0.12" stop-color="#fd3236"/><stop offset="0.17" stop-color="#fc3940"/><stop offset="0.21" stop-color="#f9464c"/><stop offset="0.25" stop-color="#f6535a"/><stop offset="0.29" stop-color="#f46168"/><stop offset="0.33" stop-color="#f37077"/><stop offset="0.38" stop-color="#f38289"/><stop offset="0.42" stop-color="#f2959c"/><stop offset="0.46" stop-color="#f2aab0"/><stop offset="0.5" stop-color="#f4c3c7"/><stop offset="0.54" stop-color="#f8dde0"/><stop offset="0.58" stop-color="#fef9f9"/><stop offset="0.62" stop-color="#eae8ff"/><stop offset="0.67" stop-color="#cfcbff"/><stop offset="0.71" stop-color="#b4adff"/><stop offset="0.75" stop-color="#9990ff"/><stop offset="0.79" stop-color="#7d72ff"/><stop offset="0.83" stop-color="#6255ff"/><stop offset="0.88" stop-color="#4738ff"/><stop offset="0.92" stop-color="#2c1aff"/><stop offset="0.96" stop-color="#1400ff"/><stop offset="1" stop-color="#1400ff"/></linearGradient>
<linearGradient id="g118" x1="0" y1="0" x2="0" y2="1"><stop offset="0" stop-color="#fe2523"/><stop offset="0.04" stop-color="#fe2929"/><stop offset="0.08" stop-color="#fe2d2f"/><stop offset="0.12" stop-color="#fd3236"/><stop offset="0.17" stop-color="#fc3a40"/><stop offset="0.21" stop-color="#f9464d"/><stop offset="0.25" stop-color="#f6545b"/><stop offset="0.29" stop-color="#f46269"/><stop offset="0.33" stop-color="#f37178"/><stop offset="0.38" stop-color="#f3838a"/><stop offset="0.42" stop-color="#f2979d"/><stop offset="0.46" stop-color="#f2acb2"/><stop offset="0.5" stop-color="#f4c5c9"/><stop offset="0.54" stop-color="#f8e0e2"/><stop offset="0.58" stop-color="#fefcfc"/><stop offset="0.62" stop-color="#e7e5ff"/><stop offset="0.67" stop-color="#ccc8ff"/><stop offset="0.71" stop-color="#b1aaff"/><stop offset="0.75" stop-color="#968dff"/><stop offset="0.79" stop-color="#7b70ff"/><stop offset="0.83" stop-color="#6052ff"/><stop offset="0.88" stop-color="#4535ff"/><stop offset="0.92" stop-color="#2a18ff"/><stop offset="0.96" stop-color="#1400ff"/><stop offset="1" stop-color="#1400ff"/></linearGradient>
<linearGradient id="g119" x1="0" y1="0" x2="0" y2="1"><stop offset="0" stop-color="#fe2522"/><stop offset="0.04" stop-color="#fe2928"/><stop offset="0.08" stop-color="#fe2d2f"/><stop offset="0.12" stop-color="#fd3236"/><stop offset="0.17" stop-color="#fc3a40"/><stop offset="0.21" stop-color="#f9474d"/><stop offset="0.25" stop-color="#f6555c"/><stop offset="0.29" stop-color="#f4636a"/><stop offset="0.33" stop-color="#f37279"/><stop offset="0.38" stop-color="#f3858b"/><stop offset="0.42" stop-color="#f2999f"/><stop offset="0.46" stop-color="#f2aeb4"/><stop offset="0.5" stop-color="#f5c7cb"/><stop offset="0.54" stop-color="#f9e2e4"/><stop offset="0.58" stop-color="#fffefe"/><stop offset="0.62" stop-color="#e5e2ff"/><stop offset="0.67" stop-color="#cac5ff"/><stop offset="0.71" stop-color="#afa8ff"/><stop offset="0.75" stop-color="#948aff"/><stop offset="0.79" stop-color="#796dff"/><stop offset="0.83" stop-color="#5e50ff"/><stop offset="0.88" stop-color="#4332ff"/><stop offset="0.92" stop-color="#2815ff"/><stop offset="0.96" stop-color="#1400ff"/><stop offset="1" stop-color="#1400ff"/></linearGradient>
<linearGradient id="g120" x1="0" y1="0" x2="0" y2="1"><stop offset="0" stop-color="#fe2522"/><stop offset="0.04" stop-color="#fe2928"/><stop offset="0.08" stop-color="#fe2d2f"/><stop offset="0.12" stop-color="#fd3236"/><stop offset="0.17" stop-color="#fc3a40"/><stop offset="0.21" stop-color="#f9474e"/><stop offset="0.25" stop-color="#f6555c"/><stop offset="0.29" stop-color="#f4646b"/><stop offset="0.33" stop-color="#f3737a"/><stop offset="0.38" stop-color="#f3868d"/><stop offset="0.42" stop-color="#f29aa1"/><stop offset="0.46" stop-color="#f2b0b6"/><stop offset="0.5" stop-color="#f5cace"/><stop offset="0.54" stop-color="#f9e5e7"/><stop offset="0.58" stop-color="#fdfdff"/><stop offset="0.62" stop-color="#e2e0ff"/><stop offset="0.67" stop-color="#c7c2ff"/><stop offset="0.71" stop-color="#aca5ff"/><stop offset="0.75" stop-color="#9188ff"/><stop offset="0.79" stop-color="#766aff"/><stop offset="0.83" stop-color="#5b4dff"/><stop offset="0.88" stop-color="#4030ff"/><stop offset="0.92" stop-color="#2513ff"/><stop offset="0.96" stop-color="#1400ff"/><stop offset="1" stop-color="#1400ff"/></linearGradient>
<linearGradient id="g121" x1="0" y1="0" x2="0" y2="1"><stop offset="0" stop-color="#fe2522"/><stop offset="0.04" stop-color="#fe2928"/><stop offset="0.08" stop-color="#fe2d2f"/><stop offset="0.12" stop-color="#fd3236"/><stop offset="0.17" stop-color="#fc3b41"/><stop offset="0.21" stop-color="#f9484e"/><stop offset="0.25" stop-color="#f5565d"/><stop offset="0.29" stop-color="#f4656c"/><stop offset="0.33" stop-color="#f3757c"/><stop offset="0.38" stop-color="#f3888e"/><stop offset="0.42" stop-color="#f29ca2"/><stop offset="0.46" stop-color="#f3b3b8"/><stop offset="0.5" stop-color="#f5ccd0"/><stop offset="0.54" stop-color="#fae7e9"/><stop offset="0.58" stop-color="#fafaff"/><stop offset="0.62" stop-color="#dfddff"/><stop offset="0.67" stop-color="#c5c0ff"/><stop offset="0.71" stop-color="#aaa2ff"/><stop offset="0.75" stop-color="#8f85ff"/><stop offset="0.79" stop-color="#7468ff"/><stop offset="0.83" stop-color="#594bff"/><stop offset="0.88" stop-color="#3e2dff"/><stop offset="0.92" stop-color="#2310ff"/><stop offset="0.96" stop-color="#1400ff"/><stop offset="1" stop-color="#1400ff"/></linearGradient>
<linearGradient id="g122" x1="0" y1="0" x2="0" y2="1"><stop offset="0" stop-color="#fe2421"/><stop offset="0.04" stop-color="#fe2928"/><stop offset="0.08" stop-color="#fe2d2f"/><stop offset="0.12" stop-color="#fd3236"/><stop offset="0.17" stop-color="#fb3b41"/><stop offset="0.21" stop-color="#f8484f"/><stop offset="0.25" stop-color="#f5575e"/><stop offset="0.29" stop-color="#f4666d"/><stop offset="0.33" stop-color="#f3767d"/><stop offset="0.38" stop-color="#f38990"/><stop offset="0.42" stop-color="#f29ea4"/><stop offset="0.46" stop-color="#f3b5ba"/><stop offset="0.5" stop-color="#f5cfd2"/><stop offset="0.54" stop-color="#faeaec"/><stop offset="0.58" stop-color="#f8f7ff"/><stop offset="0.62" stop-color="#dddaff"/><stop offset="0.67" stop-color="#c2bdff"/><stop offset="0.71" stop-color="#a7a0ff"/><stop offset="0.75" stop-color="#8c82ff"/><stop offset="0.79" stop-color="#7165ff"/><stop offset="0.83" stop-color="#5648ff"/><stop offset="0.88" stop-color="#3b2bff"/><stop offset="0.92" stop-color="#200eff"/><stop offset="0.96" stop-color="#1400ff"/><stop offset="1" stop-color="#1400ff"/></linearGradient>
<linearGradient id="g123" x1="0" y1="0" x2="0" y2="1"><stop offset="0" stop-color="#fe2421"/><stop offset="0.04" stop-color="#fe2828"/><stop offset="0.08" stop-color="#fe2d2f"/><stop offset="0.12" stop-color="#fd3237"/><stop offset="0.17" stop-color="#fb3b42"/><stop offset="0.21" stop-color="#f84950"/><stop offset="0.25" stop-color="#f5585f"/><stop offset="0.29" stop-color="#f4676e"/><stop offset="0.33" stop-color="#f3777e"/><stop offset="0.38" stop-color="#f38b91"/><stop offset="0.42" stop-color="#f2a0a6"/><stop offset="0.46" stop-color="#f3b7bc"/><stop offset="0.5" stop-color="#f6d1d5"/><stop offset="0.54" stop-color="#fbedee"/><stop offset="0.58" stop-color="#f5f4ff"/><stop offset="0.62" stop-color="#dad7ff"/><stop offset="0.67" stop-color="#bfbaff"/><stop offset="0.71" stop-color="#a59dff"/><stop offset="0.75" stop-color="#8a80ff"/><stop offset="0.79" stop-color="#6f63ff"/><stop offset="0.83" stop-color="#5445ff"/><stop offset="0.88" stop-color="#3928ff"/><stop offset="0.92" stop-color="#1e0bff"/><stop offset="0.96" stop-color="#1400ff"/><stop offset="1" stop-color="#1400ff"/></linearGradient>
<linearGradient id="g124" x1="0" y1="0" x2="0" y2="1"><stop offset="0" stop-color="#fe2421"/><stop offset="0.04" stop-color="#fe2828"/><stop offset="0.08" stop-color="#fe2d2f"/><stop offset="0.12" stop-color="#fd3237"/><stop offset="0.17" stop-color="#fb3c42"/><stop offset="0.21" stop-color="#f84a50"/><stop offset="0.25" stop-color="#f5585f"/><stop offset="0.29" stop-color="#f4686f"/><stop offset="0.33" stop-color="#f3787f"/><stop offset="0.38" stop-color="#f38c92"/><stop offset="0.42" stop-color="#f2a1a7"/><stop offset="0.46" stop-color="#f3b8be"/><stop offset="0.5" stop-color="#f6d3d6"/><stop offset="0.54" stop-color="#fbeef0"/><stop offset="0.58" stop-color="#f4f3ff"/><stop offset="0.62" stop-color="#d9d6ff"/><stop offset="0.67" stop-color="#beb8ff"/><stop offset="0.71" stop-color="#a39bff"/><stop offset="0.75" stop-color="#887eff"/><stop offset="0.79" stop-color="#6d61ff"/><stop offset="0.83" stop-color="#5244ff"/><stop offset="0.88" stop-color="#3827ff"/><stop offset="0.92" stop-color="#1d09ff"/><stop offset="0.96" stop-color="#1400ff"/><stop offset="1" stop-color="#1400ff"/></linearGradient>
<linearGradient id="g125" x1="0" y1="0" x2="0" y2="1"><stop offset="0" stop-color="#ff1c14"/><stop offset="0.05" stop-color="#fe2624"/><stop offset="0.1" stop-color="#fd3034"/><stop offset="0.15" stop-color="#fa444a"/><stop offset="0.2" stop-color="#f55c63"/><stop offset="0.25" stop-color="#f3747b"/><stop offset="0.3" stop-color="#f38f95"/><stop offset="0.35" stop-color="#f2a9af"/><stop offset="0.4" stop-color="#f4c6ca"/><stop offset="0.45" stop-color="#f9e3e5"/><stop offset="0.5" stop-color="#ffffff"/><stop offset="0.55" stop-color="#e7e5ff"/><stop offset="0.6" stop-color="#d0ccff"/><stop offset="0.65" stop-color="#b8b2ff"/><stop offset="0.7" stop-color="#a199ff"/><stop offset="0.75" stop-color="#8a80ff"/><stop offset="0.8" stop-color="#7266ff"/><stop offset="0.85" stop-color="#5b4dff"/><stop offset="0.9" stop-color="#4333ff"/><stop offset="0.95" stop-color="#2c1aff"/><stop offset="1" stop-color="#1400ff"/></linearGradient>
<linearGradient id="g126" x1="0" y1="0" x2="0" y2="1"><stop offset="0" stop-color="#f74e54"/><stop offset="0.04" stop-color="#f75158"/><stop offset="0.08" stop-color="#f6545b"/><stop offset="0.12" stop-color="#f5585f"/><stop offset="0.17" stop-color="#f55b62"/><stop offset="0.21" stop-color="#f46067"/><stop offset="0.25" stop-color="#f4656c"/><stop offset="0.29" stop-color="#f46b72"/><stop offset="0.33" stop-color="#f37077"/><stop offset="0.38" stop-color="#f3767d"/><stop offset="0.42" stop-color="#f37c83"/><stop offset="0.46" stop-color="#f38389"/><stop offset="0.5" stop-color="#f3898f"/><stop offset="0.54" stop-color="#f38f95"/><stop offset="0.58" stop-color="#f2969c"/><stop offset="0.62" stop-color="#f2a0a7"/><stop offset="0.67" stop-color="#f2abb1"/><stop offset="0.71" stop-color="#f3b7bc"/><stop offset="0.75" stop-color="#f4c6ca"/><stop offset="0.79" stop-color="#f6d5d8"/><stop offset="0.83" stop-color="#f9e5e7"/><stop offset="0.88" stop-color="#fdf8f8"/><stop offset="0.92" stop-color="#f6f5ff"/><stop offset="0.96" stop-color="#e4e2ff"/><stop offset="1" stop-color="#d1cdff"/></linearGradient>
<linearGradient id="g127" x1="0" y1="0" x2="0" y2="1"><stop offset="0" stop-color="#f74e54"/><stop offset="0.04" stop-color="#f75158"/><stop offset="0.08" stop-color="#f6555c"/><stop offset="0.12" stop-color="#f5585f"/><stop offset="0.17" stop-color="#f55c63"/><stop offset="0.21" stop-color="#f46067"/><stop offset="0.25" stop-color="#f4666d"/><stop offset="0.29" stop-color="#f46b72"/><stop offset="0.33" stop-color="#f37178"/><stop offset="0.38" stop-color="#f3777e"/><stop offset="0.42" stop-color="#f37d84"/><stop offset="0.46" stop-color="#f3838a"/><stop offset="0.5" stop-color="#f38990"/><stop offset="0.54" stop-color="#f29096"/><stop offset="0.58" stop-color="#f2969d"/><stop offset="0.62" stop-color="#f2a1a7"/><stop offset="0.67" stop-color="#f2acb2"/><stop offset="0.71" stop-color="#f3b8bd"/><stop offset="0.75" stop-color="#f4c6ca"/><stop offset="0.79" stop-color="#f6d5d9"/><stop offset="0.83" stop-color="#f9e5e7"/><stop offset="0.88" stop-color="#fdf8f8"/><stop offset="0.92" stop-color="#f6f6ff"/><stop offset="0.96" stop-color="#e4e2ff"/><stop offset="1" stop-color="#d1cdff"/></linearGradient>
<linearGradient id="g128" x1="0" y1="0" x2="0" y2="1"><stop offset="0" stop-color="#f74e54"/><stop offset="0.04" stop-color="#f65158"/><stop offset="0.08" stop-color="#f6555c"/><stop offset="0.12" stop-color="#f55960"/><stop offset="0.17" stop-color="#f55c63"/><stop offset="0.21" stop-color="#f46168"/><stop offset="0.25" stop-color="#f4676e"/><stop offset="0.29" stop-color="#f46c73"/><stop offset="0.33" stop-color="#f37279"/><stop offset="0.38" stop-color="#f3787f"/><stop offset="0.42" stop-color="#f37e85"/><stop offset="0.46" stop-color="#f3848b"/><stop offset="0.5" stop-color="#f38a91"/><stop offset="0.54" stop-color="#f29097"/><stop offset="0.58" stop-color="#f2979e"/><stop offset="0.62" stop-color="#f2a2a8"/><stop offset="0.67" stop-color="#f2adb3"/><stop offset="0.71" stop-color="#f3b9be"/><stop offset="0.75" stop-color="#f5c7cb"/><stop offset="0.79" stop-color="#f6d6d9"/><stop offset="0.83" stop-color="#f9e5e7"/><stop offset="0.88" stop-color="#fdf8f8"/><stop offset="0.92" stop-color="#f7f6ff"/><stop offset="0.96" stop-color="#e5e3ff"/><stop offset="1" stop-color="#d1cdff"/></linearGradient>
<linearGradient id="g129" x1="0" y1="0" x2="0" y2="1"><stop offset="0" stop-color="#f74e54"/><stop offset="0.04" stop-color="#f65258"/><stop offset="0.08" stop-color="#f6565c"/><stop offset="0.12" stop-color="#f55960"/><stop offset="0.17" stop-color="#f55d64"/><stop offset="0.21" stop-color="#f46269"/><stop offset="0.25" stop-color="#f4676e"/><stop offset="0.29" stop-color="#f36d74"/><stop offset="0.33" stop-color="#f37279"/><stop offset="0.38" stop-color="#f3787f"/><stop offset="0.42" stop-color="#f37f85"/><stop offset="0.46" stop-color="#f3858c"/><stop offset="0.5" stop-color="#f38b92"/><stop offset="0.54" stop-color="#f29198"/><stop offset="0.58" stop-color="#f2989e"/><stop offset="0.62" stop-color="#f2a3a9"/><stop offset="0.67" stop-color="#f2aeb4"/><stop offset="0.71" stop-color="#f3babf"/><stop offset="0.75" stop-color="#f5c7cb"/><stop offset="0.79" stop-color="#f6d6d9"/><stop offset="0.83" stop-color="#f9e5e7"/><stop offset="0.88" stop-color="#fdf8f8"/><stop offset="0.92" stop-color="#f7f7ff"/><stop offset="0.96" stop-color="#e5e3ff"/><stop offset="1" stop-color="#d1cdff"/></linearGradient>
<linearGradient id="g130" x1="0" y1="0" x2="0" y2="1"><stop offset="0" stop-color="#f74e54"/><stop offset="0.04" stop-color="#f65259"/><stop offset="0.08" stop-color="#f5565d"/><stop offset="0.12" stop-color="#f55a61"/><stop offset="0.17" stop-color="#f55e65"/><stop offset="0.21" stop-color="#f4636a"/><stop offset="0.25" stop-color="#f4686f"/><stop offset="0.29" stop-color="#f36e75"/><stop offset="0.33" stop-color="#f3737a"/><stop offset="0.38" stop-color="#f37980"/><stop offset="0.42" stop-color="#f37f86"/><stop offset="0.46" stop-color="#f3868c"/><stop offset="0.5" stop-color="#f38c92"/><stop offset="0.54" stop-color="#f29299"/><stop offset="0.58" stop-color="#f2999f"/><stop offset="0.62" stop-color="#f2a4aa"/><stop offset="0.67" stop-color="#f2afb5"/><stop offset="0.71" stop-color="#f3bbc0"/><stop offset="0.75" stop-color="#f5c8cc"/><stop offset="0.79" stop-color="#f6d6d9"/><stop offset="0.83" stop-color="#f9e5e7"/><stop offset="0.88" stop-color="#fdf8f8"/><stop offset="0.92" stop-color="#f8f7ff"/><stop offset="0.96" stop-color="#e6e4ff"/><stop offset="1" stop-color="#d1cdff"/></linearGradient>
<linearGradient id="g131" x1="0" y1="0" x2="0" y2="1"><stop offset="0" stop-color="#f74e54"/><stop offset="0.04" stop-color="#f65259"/><stop offset="0.08" stop-color="#f5565d"/><stop offset="0.12" stop-color="#f55a61"/><stop offset="0.17" stop-color="#f55e65"/><stop offset="0.21" stop-color="#f4636a"/><stop offset="0.25" stop-color="#f46970"/><stop offset="0.29" stop-color="#f36e75"/><stop offset="0.33" stop-color="#f3747b"/><stop offset="0.38" stop-color="#f37a81"/><stop offset="0.42" stop-color="#f38087"/><stop offset="0.46" stop-color="#f3868d"/><stop offset="0.5" stop-color="#f38d93"/><stop offset="0.54" stop-color="#f29399"/><stop offset="0.58" stop-color="#f29aa0"/><stop offset="0.62" stop-color="#f2a4ab"/><stop offset="0.67" stop-color="#f2b0b5"/><stop offset="0.71" stop-color="#f3bbc0"/><stop offset="0.75" stop-color="#f5c9cd"/><stop offset="0.79" stop-color="#f6d7da"/><stop offset="0.83" stop-color="#f9e5e7"/><stop offset="0.88" stop-color="#fdf8f8"/><stop offset="0.92" stop-color="#f8f8ff"/><stop offset="0.96" stop-color="#e6e4ff"/><stop offset="1" stop-color="#d1cdff"/></linearGradient>
<linearGradient id="g132" x1="0" y1="0" x2="0" y2="1"><stop offset="0" stop-color="#f74e54"/><stop offset="0.04" stop-color="#f65259"/><stop offset="0.08" stop-color="#f5575d"/><stop offset="0.12" stop-color="#f55b62"/><stop offset="0.17" stop-color="#f45f66"/><stop offset="0.21" stop-color="#f4646b"/><stop offset="0.25" stop-color="#f46970"/><stop offset="0.29" stop-color="#f36f76"/><stop offset="0.33" stop-color="#f3757c"/><stop offset="0.38" stop-color="#f37b82"/><stop offset="0.42" stop-color="#f38188"/><stop offset="0.46" stop-color="#f3878e"/><stop offset="0.5" stop-color="#f38d94"/><stop offset="0.54" stop-color="#f2949a"/><stop offset="0.58" stop-color="#f29aa1"/><stop offset="0.62" stop-color="#f2a5ab"/><stop offset="0.67" stop-color="#f2b0b6"/><stop offset="0.71" stop-color="#f4bcc1"/><stop offset="0.75" stop-color="#f5c9cd"/><stop offset="0.79" stop-color="#f6d7da"/><stop offset="0.83" stop-color="#f9e5e7"/><stop offset="0.88" stop-color="#fdf8f8"/><stop offset="0.92" stop-color="#f9f8ff"/><stop offset="0.96" stop-color="#e7e4ff"/><stop offset="1" stop-color="#d1cdff"/></linearGradient>
<linearGradient id="g133" x1="0" y1="0" x2="0" y2="1"><stop offset="0" stop-color="#f74f56"/><stop offset="0.04" stop-color="#f6545b"/><stop offset="0.08" stop-color="#f5585f"/><stop offset="0.12" stop-color="#f55c63"/><stop offset="0.17" stop-color="#f46168"/><stop offset="0.21" stop-color="#f4656c"/><stop offset="0.25" stop-color="#f46b72"/><stop offset="0.29" stop-color="#f37077"/><stop offset="0.33" stop-color="#f3767d"/><stop offset="0.38" stop-color="#f37c83"/><stop offset="0.42" stop-color="#f38289"/><stop offset="0.46" stop-color="#f3888f"/><stop offset="0.5" stop-color="#f38e95"/><stop offset="0.54" stop-color="#f2959b"/><stop offset="0.58" stop-color="#f29ca2"/><stop offset="0.62" stop-color="#f2a6ac"/><stop offset="0.67" stop-color="#f3b1b7"/><stop offset="0.71" stop-color="#f4bdc2"/><stop offset="0.75" stop-color="#f5cace"/><stop offset="0.79" stop-color="#f6d7da"/><stop offset="0.83" stop-color="#f9e5e7"/><stop offset="0.88" stop-color="#fdf8f9"/><stop offset="0.92" stop-color="#f9f9ff"/><stop offset="0.96" stop-color="#e7e5ff"/><stop offset="1" stop-color="#d1cdff"/></linearGradient>
<linearGradient id="g134" x1="0" y1="0" x2="0" y2="1"><stop offset="0" stop-color="#f75158"/><stop offset="0.04" stop-color="#f6565d"/><stop offset="0.08" stop-color="#f55a61"/><stop offset="0.12" stop-color="#f55e65"/><stop offset="0.17" stop-color="#f46269"/><stop offset="0.21" stop-color="#f4676e"/><stop offset="0.25" stop-color="#f46c73"/><stop offset="0.29" stop-color="#f37178"/><stop offset="0.33" stop-color="#f3777e"/><stop offset="0.38" stop-color="#f37d83"/><stop offset="0.42" stop-color="#f38389"/><stop offset="0.46" stop-color="#f38990"/><stop offset="0.5" stop-color="#f29096"/><stop offset="0.54" stop-color="#f2969c"/><stop offset="0.58" stop-color="#f29da3"/><stop offset="0.62" stop-color="#f2a7ae"/><stop offset="0.67" stop-color="#f3b2b8"/><stop offset="0.71" stop-color="#f4bec3"/><stop offset="0.75" stop-color="#f5cbce"/><stop offset="0.79" stop-color="#f6d8da"/><stop offset="0.83" stop-color="#f9e5e7"/><stop offset="0.88" stop-color="#fef8f9"/><stop offset="0.92" stop-color="#f9f9ff"/><stop offset="0.96" stop-color="#e7e5ff"/><stop offset="1" stop-color="#d1cdff"/></linearGradient>
<linearGradient id="g135" x1="0" y1="0" x2="0" y2="1"><stop offset="0" stop-color="#f6535a"/><stop offset="0.04" stop-color="#f5585f"/><stop offset="0.08" stop-color="#f55c63"/><stop offset="0.12" stop-color="#f46067"/><stop offset="0.17" stop-color="#f4646b"/><stop offset="0.21" stop-color="#f46970"/><stop offset="0.25" stop-color="#f36e75"/><stop offset="0.29" stop-color="#f3737a"/><stop offset="0.33" stop-color="#f3787f"/><stop offset="0.38" stop-color="#f37d84"/><stop offset="0.42" stop-color="#f3838a"/><stop offset="0.46" stop-color="#f38a91"/><stop offset="0.5" stop-color="#f29197"/><stop offset="0.54" stop-color="#f2979e"/><stop offset="0.58" stop-color="#f29ea5"/><stop offset="0.62" stop-color="#f2a9af"/><stop offset="0.67" stop-color="#f3b4b9"/><stop offset="0.71" stop-color="#f4bfc3"/><stop offset="0.75" stop-color="#f5cbcf"/><stop offset="0.79" stop-color="#f6d8db"/><stop offset="0.83" stop-color="#f9e5e7"/><stop offset="0.88" stop-color="#fef8f9"/><stop offset="0.92" stop-color="#faf9ff"/><stop offset="0.96" stop-color="#e8e6ff"/><stop offset="1" stop-color="#d1cdff"/></linearGradient>
<linearGradient id="g136" x1="0" y1="0" x2="0" y2="1"><stop offset="0" stop-color="#f6555c"/><stop offset="0.04" stop-color="#f55960"/><stop offset="0.08" stop-color="#f55e65"/><stop offset="0.12" stop-color="#f46269"/><stop offset="0.17" stop-color="#f4666d"/><stop offset="0.21" stop-color="#f46b72"/><stop offset="0.25" stop-color="#f36f76"/><stop offset="0.29" stop-color="#f3747b"/><stop offset="0.33" stop-color="#f37980"/><stop offset="0.38" stop-color="#f37e85"/><stop offset="0.42" stop-color="#f3848b"/><stop offset="0.46" stop-color="#f38b91"/><stop offset="0.5" stop-color="#f29298"/><stop offset="0.54" stop-color="#f2999f"/><stop offset="0.58" stop-color="#f2a0a6"/><stop offset="0.62" stop-color="#f2aab0"/><stop offset="0.67" stop-color="#f3b5ba"/><stop offset="0.71" stop-color="#f4c0c4"/><stop offset="0.75" stop-color="#f5cccf"/><stop offset="0.79" stop-color="#f6d8db"/><stop offset="0.83" stop-color="#f9e5e7"/><stop offset="0.88" stop-color="#fef9f9"/><stop offset="0.92" stop-color="#fafaff"/><stop offset="0.96" stop-color="#e8e6ff"/><stop offset="1" stop-color="#d1cdff"/></linearGradient>
<linearGradient id="g137" x1="0" y1="0" x2="0" y2="1"><stop offset="0" stop-color="#f5575e"/><stop offset="0.04" stop-color="#f55b62"/><stop offset="0.08" stop-color="#f46067"/><stop offset="0.12" stop-color="#f4646b"/><stop offset="0.17" stop-color="#f4686f"/><stop offset="0.21" stop-color="#f36c73"/><stop offset="0.25" stop-color="#f37178"/><stop offset="0.29" stop-color="#f3757c"/><stop offset="0.33" stop-color="#f37a81"/><stop offset="0.38" stop-color="#f37f86"/><stop offset="0.42" stop-color="#f3858c"/><stop offset="0.46" stop-color="#f38c92"/><stop offset="0.5" stop-color="#f29399"/><stop offset="0.54" stop-color="#f29aa0"/><stop offset="0.58" stop-color="#f2a1a7"/><stop offset="0.62" stop-color="#f2abb1"/><stop offset="0.67" stop-color="#f3b6bb"/><stop offset="0.71" stop-color="#f4c0c5"/><stop offset="0.75" stop-color="#f5ccd0"/><stop offset="0.79" stop-color="#f7d8db"/><stop offset="0.83" stop-color="#f9e5e7"/><stop offset="0.88" stop-color="#fef9f9"/><stop offset="0.92" stop-color="#fbfaff"/><stop offset="0.96" stop-color="#e8e6ff"/><stop offset="1" stop-color="#d1cdff"/></linearGradient>
<linearGradient id="g138" x1="0" y1="0" x2="0" y2="1"><stop offset="0" stop-color="#f55960"/><stop offset="0.04" stop-color="#f55d64"/><stop offset="0.08" stop-color="#f46168"/><stop offset="0.12" stop-color="#f4666d"/><stop offset="0.17" stop-color="#f46a71"/><stop offset="0.21" stop-color="#f36e75"/><stop offset="0.25" stop-color="#f37279"/><stop offset="0.29" stop-color="#f3777e"/><stop offset="0.33" stop-color="#f37b82"/><stop offset="0.38" stop-color="#f38087"/><stop offset="0.42" stop-color="#f3868c"/><stop offset="0.46" stop-color="#f38d93"/><stop offset="0.5" stop-color="#f2949a"/><stop offset="0.54" stop-color="#f29ba1"/><stop offset="0.58" stop-color="#f2a2a9"/><stop offset="0.62" stop-color="#f2acb2"/><stop offset="0.67" stop-color="#f3b7bc"/><stop offset="0.71" stop-color="#f4c1c6"/><stop offset="0.75" stop-color="#f5cdd0"/><stop offset="0.79" stop-color="#f7d9db"/><stop offset="0.83" stop-color="#f9e5e7"/><stop offset="0.88" stop-color="#fef9f9"/><stop offset="0.92" stop-color="#fbfbff"/><stop offset="0.96" stop-color="#e9e7ff"/><stop offset="1" stop-color="#d1cdff"/></linearGradient>
<linearGradient id="g139" x1="0" y1="0" x2="0" y2="1"><stop offset="0" stop-color="#f55b62"/><stop offset="0.04" stop-color="#f45f66"/><stop offset="0.08" stop-color="#f4636a"/><stop offset="0.12" stop-color="#f4676e"/><stop offset="0.17" stop-color="#f46c73"/><stop offset="0.21" stop-color="#f37077"/><stop offset="0.25" stop-color="#f3747b"/><stop offset="0.29" stop-color="#f3787f"/><stop offset="0.33" stop-color="#f37c83"/><stop offset="0.38" stop-color="#f38188"/><stop offset="0.42" stop-color="#f3868d"/><stop offset="0.46" stop-color="#f38e94"/><stop offset="0.5" stop-color="#f2959b"/><stop offset="0.54" stop-color="#f29ca3"/><stop offset="0.58" stop-color="#f2a4aa"/><stop offset="0.62" stop-color="#f2adb3"/><stop offset="0.67" stop-color="#f3b8bd"/><stop offset="0.71" stop-color="#f4c2c7"/><stop offset="0.75" stop-color="#f5cdd1"/><stop offset="0.79" stop-color="#f7d9dc"/><stop offset="0.83" stop-color="#f9e5e7"/><stop offset="0.88" stop-color="#fef9f9"/><stop offset="0.92" stop-color="#fbfbff"/><stop offset="0.96" stop-color="#e9e7ff"/><stop offset="1" stop-color="#d1cdff"/></linearGradient>
<linearGradient id="g140" x1="0" y1="0" x2="0" y2="1"><stop offset="0" stop-color="#f55c63"/><stop offset="0.04" stop-color="#f46067"/><stop offset="0.08" stop-color="#f4656c"/><stop offset="0.12" stop-color="#f46970"/><stop offset="0.17" stop-color="#f36d74"/><stop offset="0.21" stop-color="#f37178"/><stop offset="0.25" stop-color="#f3757c"/><stop offset="0.29" stop-color="#f37980"/><stop offset="0.33" stop-color="#f37d84"/><stop offset="0.38" stop-color="#f38188"/><stop offset="0.42" stop-color="#f3878d"/><stop offset="0.46" stop-color="#f38e95"/><stop offset="0.5" stop-color="#f2969c"/><stop offset="0.54" stop-color="#f29da3"/><stop offset="0.58" stop-color="#f2a5ab"/><stop offset="0.62" stop-color="#f2aeb4"/><stop offset="0.67" stop-color="#f3b8bd"/><stop offset="0.71" stop-color="#f4c3c7"/><stop offset="0.75" stop-color="#f5ced1"/><stop offset="0.79" stop-color="#f7d9dc"/><stop offset="0.83" stop-color="#f9e5e7"/><stop offset="0.88" stop-color="#fef9f9"/><stop offset="0.92" stop-color="#fcfcff"/><stop offset="0.96" stop-color="#eae8ff"/><stop offset="1" stop-color="#d1cdff"/></linearGradient>
<linearGradient id="g141" x1="0" y1="0" x2="0" y2="1"><stop offset="0" stop-color="#f5585f"/><stop offset="0.04" stop-color="#f55d64"/><stop offset="0.08" stop-color="#f46168"/><stop offset="0.12" stop-color="#f4656c"/><stop offset="0.17" stop-color="#f46a71"/><stop offset="0.21" stop-color="#f36e75"/><stop offset="0.25" stop-color="#f37178"/><stop offset="0.29" stop-color="#f3757c"/><stop offset="0.33" stop-color="#f37980"/><stop offset="0.38" stop-color="#f37e84"/><stop offset="0.42" stop-color="#f3838a"/><stop offset="0.46" stop-color="#f38b91"/><stop offset="0.5" stop-color="#f29298"/><stop offset="0.54" stop-color="#f299a0"/><stop offset="0.58" stop-color="#f2a1a7"/><stop offset="0.62" stop-color="#f2abb1"/><stop offset="0.67" stop-color="#f3b5ba"/><stop offset="0.71" stop-color="#f4bfc4"/><stop offset="0.75" stop-color="#f5cbcf"/><stop offset="0.79" stop-color="#f6d7da"/><stop offset="0.83" stop-color="#f9e3e5"/><stop offset="0.88" stop-color="#fdf7f8"/><stop offset="0.92" stop-color="#fcfcff"/><stop offset="0.96" stop-color="#eae9ff"/><stop offset="1" stop-color="#d2ceff"/></linearGradient>
<linearGradient id="g142" x1="0" y1="0" x2="0" y2="1"><stop offset="0" stop-color="#f6545b"/><stop offset="0.04" stop-color="#f55960"/><stop offset="0.08" stop-color="#f55d64"/><stop offset="0.12" stop-color="#f46269"/><stop offset="0.17" stop-color="#f4666d"/><stop offset="0.21" stop-color="#f46b72"/><stop offset="0.25" stop-color="#f36e75"/><stop offset="0.29" stop-color="#f37279"/><stop offset="0.33" stop-color="#f3767d"/><stop offset="0.38" stop-color="#f37a81"/><stop offset="0.42" stop-color="#f37f86"/><stop offset="0.46" stop-color="#f3878e"/><stop offset="0.5" stop-color="#f38e95"/><stop offset="0.54" stop-color="#f2969c"/><stop offset="0.58" stop-color="#f29da4"/><stop offset="0.62" stop-color="#f2a7ad"/><stop offset="0.67" stop-color="#f3b1b7"/><stop offset="0.71" stop-color="#f4bcc1"/><stop offset="0.75" stop-color="#f5c8cc"/><stop offset="0.79" stop-color="#f6d5d8"/><stop offset="0.83" stop-color="#f9e2e4"/><stop offset="0.88" stop-color="#fdf6f6"/><stop offset="0.92" stop-color="#fdfcff"/><stop offset="0.96" stop-color="#ebe9ff"/><stop offset="1" stop-color="#d4d0ff"/></linearGradient>
<linearGradient id="g143" x1="0" y1="0" x2="0" y2="1"><stop offset="0" stop-color="#f75057"/><stop offset="0.04" stop-color="#f6555c"/><stop offset="0.08" stop-color="#f55a61"/><stop offset="0.12" stop-color="#f55e65"/><stop offset="0.17" stop-color="#f4636a"/><stop offset="0.21" stop-color="#f4676e"/><stop offset="0.25" stop-color="#f46b72"/><stop offset="0.29" stop-color="#f36f76"/><stop offset="0.33" stop-color="#f37279"/><stop offset="0.38" stop-color="#f3767d"/><stop offset="0.42" stop-color="#f37c83"/><stop offset="0.46" stop-color="#f3838a"/><stop offset="0.5" stop-color="#f38b91"/><stop offset="0.54" stop-color="#f29299"/><stop offset="0.58" stop-color="#f29aa0"/><stop offset="0.62" stop-color="#f2a4aa"/><stop offset="0.67" stop-color="#f2aeb4"/><stop offset="0.71" stop-color="#f3b9be"/><stop offset="0.75" stop-color="#f4c5c9"/><stop offset="0.79" stop-color="#f6d2d6"/><stop offset="0.83" stop-color="#f8e0e2"/><stop offset="0.88" stop-color="#fdf4f5"/><stop offset="0.92" stop-color="#fdfdff"/><stop offset="0.96" stop-color="#eceaff"/><stop offset="1" stop-color="#d5d1ff"/></linearGradient>
<linearGradient id="g144" x1="0" y1="0" x2="0" y2="1"><stop offset="0" stop-color="#f84c53"/><stop offset="0.04" stop-color="#f75158"/><stop offset="0.08" stop-color="#f5565d"/><stop offset="0.12" stop-color="#f55b62"/><stop offset="0.17" stop-color="#f46067"/><stop offset="0.21" stop-color="#f4646b"/><stop offset="0.25" stop-color="#f4686f"/><stop offset="0.29" stop-color="#f46b72"/><stop offset="0.33" stop-color="#f36f76"/><stop offset="0.38" stop-color="#f3737a"/><stop offset="0.42" stop-color="#f3787f"/><stop offset="0.46" stop-color="#f38086"/><stop offset="0.5" stop-color="#f3878e"/><stop offset="0.54" stop-color="#f38e95"/><stop offset="0.58" stop-color="#f2969d"/><stop offset="0.62" stop-color="#f2a0a7"/><stop offset="0.67" stop-color="#f2abb1"/><stop offset="0.71" stop-color="#f3b6bb"/><stop offset="0.75" stop-color="#f4c2c7"/><stop offset="0.79" stop-color="#f5d0d4"/><stop offset="0.83" stop-color="#f8dee1"/><stop offset="0.88" stop-color="#fcf2f3"/><stop offset="0.92" stop-color="#fdfdff"/><stop offset="0.96" stop-color="#edebff"/><stop offset="1" stop-color="#d6d3ff"/></linearGradient>
<linearGradient id="g145" x1="0" y1="0" x2="0" y2="1"><stop offset="0" stop-color="#f9484e"/><stop offset="0.04" stop-color="#f74d54"/><stop offset="0.08" stop-color="#f65259"/><stop offset="0.12" stop-color="#f5585f"/><stop offset="0.17" stop-color="#f55d64"/><stop offset="0.21" stop-color="#f46168"/><stop offset="0.25" stop-color="#f4646b"/><stop offset="0.29" stop-color="#f4686f"/><stop offset="0.33" stop-color="#f46c73"/><stop offset="0.38" stop-color="#f37077"/><stop offset="0.42" stop-color="#f3757c"/><stop offset="0.46" stop-color="#f37c83"/><stop offset="0.5" stop-color="#f3838a"/><stop offset="0.54" stop-color="#f38b91"/><stop offset="0.58" stop-color="#f29399"/><stop offset="0.62" stop-color="#f29da3"/><stop offset="0.67" stop-color="#f2a7ad"/><stop offset="0.71" stop-color="#f3b2b8"/><stop offset="0.75" stop-color="#f4c0c4"/><stop offset="0.79" stop-color="#f5ced2"/><stop offset="0.83" stop-color="#f8dddf"/><stop offset="0.88" stop-color="#fcf0f1"/><stop offset="0.92" stop-color="#fefeff"/><stop offset="0.96" stop-color="#edecff"/><stop offset="1" stop-color="#d7d4ff"/></linearGradient>
<linearGradient id="g146" x1="0" y1="0" x2="0" y2="1"><stop offset="0" stop-color="#fa444a"/><stop offset="0.04" stop-color="#f84950"/><stop offset="0.08" stop-color="#f74f55"/><stop offset="0.12" stop-color="#f6545b"/><stop offset="0.17" stop-color="#f55960"/><stop offset="0.21" stop-color="#f55e65"/><stop offset="0.25" stop-color="#f46168"/><stop offset="0.29" stop-color="#f4656c"/><stop offset="0.33" stop-color="#f46970"/><stop offset="0.38" stop-color="#f36c73"/><stop offset="0.42" stop-color="#f37178"/><stop offset="0.46" stop-color="#f3787f"/><stop offset="0.5" stop-color="#f38087"/><stop offset="0.54" stop-color="#f3878e"/><stop offset="0.58" stop-color="#f38f96"/><stop offset="0.62" stop-color="#f29aa0"/><stop offset="0.67" stop-color="#f2a4aa"/><stop offset="0.71" stop-color="#f2afb5"/><stop offset="0.75" stop-color="#f4bdc2"/><stop offset="0.79" stop-color="#f5ccd0"/><stop offset="0.83" stop-color="#f7dbde"/><stop offset="0.88" stop-color="#fbeff0"/><stop offset="0.92" stop-color="#fefeff"/><stop offset="0.96" stop-color="#eeedff"/><stop offset="1" stop-color="#d9d5ff"/></linearGradient>
<linearGradient id="g147" x1="0" y1="0" x2="0" y2="1"><stop offset="0" stop-color="#fa4046"/><stop offset="0.04" stop-color="#f9454c"/><stop offset="0.08" stop-color="#f84b51"/><stop offset="0.12" stop-color="#f75057"/><stop offset="0.17" stop-color="#f5565d"/><stop offset="0.21" stop-color="#f55a61"/><stop offset="0.25" stop-color="#f55e65"/><stop offset="0.29" stop-color="#f46269"/><stop offset="0.33" stop-color="#f4656c"/><stop offset="0.38" stop-color="#f46970"/><stop offset="0.42" stop-color="#f36e75"/><stop offset="0.46" stop-color="#f3757c"/><stop offset="0.5" stop-color="#f37c83"/><stop offset="0.54" stop-color="#f3848a"/><stop offset="0.58" stop-color="#f38b92"/><stop offset="0.62" stop-color="#f2969d"/><stop offset="0.67" stop-color="#f2a1a7"/><stop offset="0.71" stop-color="#f2acb2"/><stop offset="0.75" stop-color="#f3babf"/><stop offset="0.79" stop-color="#f5cace"/><stop offset="0.83" stop-color="#f7dadd"/><stop offset="0.88" stop-color="#fbedee"/><stop offset="0.92" stop-color="#fefeff"/><stop offset="0.96" stop-color="#efedff"/><stop offset="1" stop-color="#dad7ff"/></linearGradient>
<linearGradient id="g148" x1="0" y1="0" x2="0" y2="1"><stop offset="0" stop-color="#fb3c42"/><stop offset="0.04" stop-color="#fa4248"/><stop offset="0.08" stop-color="#f9474e"/><stop offset="0.12" stop-color="#f74d54"/><stop offset="0.17" stop-color="#f6535a"/><stop offset="0.21" stop-color="#f5585f"/><stop offset="0.25" stop-color="#f55b62"/><stop offset="0.29" stop-color="#f55f66"/><stop offset="0.33" stop-color="#f46269"/><stop offset="0.38" stop-color="#f4666d"/><stop offset="0.42" stop-color="#f46b72"/><stop offset="0.46" stop-color="#f37178"/><stop offset="0.5" stop-color="#f37980"/><stop offset="0.54" stop-color="#f38087"/><stop offset="0.58" stop-color="#f3898f"/><stop offset="0.62" stop-color="#f2939a"/><stop offset="0.67" stop-color="#f29ea4"/><stop offset="0.71" stop-color="#f2a9af"/><stop offset="0.75" stop-color="#f3b7bc"/><stop offset="0.79" stop-color="#f5c7cb"/><stop offset="0.83" stop-color="#f6d7da"/><stop offset="0.88" stop-color="#faeaec"/><stop offset="0.92" stop-color="#fffefe"/><stop offset="0.96" stop-color="#efeeff"/><stop offset="1" stop-color="#dbd8ff"/></linearGradient>
<linearGradient id="g149" x1="0" y1="0" x2="0" y2="1"><stop offset="0" stop-color="#fc383e"/><stop offset="0.04" stop-color="#fb3e44"/><stop offset="0.08" stop-color="#f9444b"/><stop offset="0.12" stop-color="#f84a51"/><stop offset="0.17" stop-color="#f75057"/><stop offset="0.21" stop-color="#f6555c"/><stop offset="0.25" stop-color="#f5585f"/><stop offset="0.29" stop-color="#f55c63"/><stop offset="0.33" stop-color="#f45f66"/><stop offset="0.38" stop-color="#f46269"/><stop offset="0.42" stop-color="#f4676e"/><stop offset="0.46" stop-color="#f36e75"/><stop offset="0.5" stop-color="#f3767d"/><stop offset="0.54" stop-color="#f37e84"/><stop offset="0.58" stop-color="#f3868d"/><stop offset="0.62" stop-color="#f29197"/><stop offset="0.67" stop-color="#f29ca2"/><stop offset="0.71" stop-color="#f2a6ac"/><stop offset="0.75" stop-color="#f3b3b9"/><stop offset="0.79" stop-color="#f4c3c7"/><stop offset="0.83" stop-color="#f6d3d7"/><stop offset="0.88" stop-color="#fae7e8"/><stop offset="0.92" stop-color="#fefdfd"/><stop offset="0.96" stop-color="#f0efff"/><stop offset="1" stop-color="#dcd9ff"/></linearGradient>
<linearGradient id="g150" x1="0" y1="0" x2="0" y2="1"><stop offset="0" stop-color="#fd343a"/><stop offset="0.04" stop-color="#fc3b41"/><stop offset="0.08" stop-color="#fa4147"/><stop offset="0.12" stop-color="#f9474e"/><stop offset="0.17" stop-color="#f74e55"/><stop offset="0.21" stop-color="#f65259"/><stop offset="0.25" stop-color="#f6565d"/><stop offset="0.29" stop-color="#f55960"/><stop offset="0.33" stop-color="#f55c63"/><stop offset="0.38" stop-color="#f45f66"/><stop offset="0.42" stop-color="#f4646b"/><stop offset="0.46" stop-color="#f46b72"/><stop offset="0.5" stop-color="#f37279"/><stop offset="0.54" stop-color="#f37b81"/><stop offset="0.58" stop-color="#f3838a"/><stop offset="0.62" stop-color="#f38e95"/><stop offset="0.67" stop-color="#f2999f"/><stop offset="0.71" stop-color="#f2a4aa"/><stop offset="0.75" stop-color="#f2b0b5"/><stop offset="0.79" stop-color="#f4bfc4"/><stop offset="0.83" stop-color="#f5d0d3"/><stop offset="0.88" stop-color="#f9e3e5"/><stop offset="0.92" stop-color="#fefbfb"/><stop offset="0.96" stop-color="#f0efff"/><stop offset="1" stop-color="#dddaff"/></linearGradient>
<linearGradient id="g151" x1="0" y1="0" x2="0" y2="1"><stop offset="0" stop-color="#fd3338"/><stop offset="0.04" stop-color="#fc373d"/><stop offset="0.08" stop-color="#fb3e44"/><stop offset="0.12" stop-color="#f9454b"/><stop offset="0.17" stop-color="#f84b52"/><stop offset="0.21" stop-color="#f75057"/><stop offset="0.25" stop-color="#f6535a"/><stop offset="0.29" stop-color="#f6565d"/><stop offset="0.33" stop-color="#f55960"/><stop offset="0.38" stop-color="#f55b62"/><stop offset="0.42" stop-color="#f46067"/><stop offset="0.46" stop-color="#f4686f"/><stop offset="0.5" stop-color="#f37077"/><stop offset="0.54" stop-color="#f3787f"/><stop offset="0.58" stop-color="#f38187"/><stop offset="0.62" stop-color="#f38b92"/><stop offset="0.67" stop-color="#f2969d"/><stop offset="0.71" stop-color="#f2a1a7"/><stop offset="0.75" stop-color="#f2acb2"/><stop offset="0.79" stop-color="#f3bcc0"/><stop offset="0.83" stop-color="#f5cdd0"/><stop offset="0.88" stop-color="#f8e0e2"/><stop offset="0.92" stop-color="#fef9fa"/><stop offset="0.96" stop-color="#f1f0ff"/><stop offset="1" stop-color="#dedcff"/></linearGradient>
<linearGradient id="g152" x1="0" y1="0" x2="0" y2="1"><stop offset="0" stop-color="#fd3136"/><stop offset="0.04" stop-color="#fd343a"/><stop offset="0.08" stop-color="#fb3b41"/><stop offset="0.12" stop-color="#fa4148"/><stop offset="0.17" stop-color="#f9484f"/><stop offset="0.21" stop-color="#f74d54"/><stop offset="0.25" stop-color="#f75057"/><stop offset="0.29" stop-color="#f6545a"/><stop offset="0.33" stop-color="#f5575e"/><stop offset="0.38" stop-color="#f55a61"/><stop offset="0.42" stop-color="#f55f66"/><stop offset="0.46" stop-color="#f4666d"/><stop offset="0.5" stop-color="#f36d74"/><stop offset="0.54" stop-color="#f3747b"/><stop offset="0.58" stop-color="#f37d84"/><stop offset="0.62" stop-color="#f3878e"/><stop offset="0.67" stop-color="#f29399"/><stop offset="0.71" stop-color="#f29ea5"/><stop offset="0.75" stop-color="#f2aab0"/><stop offset="0.79" stop-color="#f3babf"/><stop offset="0.83" stop-color="#f5cbcf"/><stop offset="0.88" stop-color="#f8dfe1"/><stop offset="0.92" stop-color="#fef8f9"/><stop offset="0.96" stop-color="#f0efff"/><stop offset="1" stop-color="#dedbff"/></linearGradient>
<linearGradient id="g153" x1="0" y1="0" x2="0" y2="1"><stop offset="0" stop-color="#fd3034"/><stop offset="0.04" stop-color="#fd3338"/><stop offset="0.08" stop-color="#fc383e"/><stop offset="0.12" stop-color="#fb3e45"/><stop offset="0.17" stop-color="#f9454c"/><stop offset="0.21" stop-color="#f84a51"/><stop offset="0.25" stop-color="#f74e55"/><stop offset="0.29" stop-color="#f65259"/><stop offset="0.33" stop-color="#f6555c"/><stop offset="0.38" stop-color="#f55960"/><stop offset="0.42" stop-color="#f55e65"/><stop offset="0.46" stop-color="#f4636a"/><stop offset="0.5" stop-color="#f46a71"/><stop offset="0.54" stop-color="#f37178"/><stop offset="0.58" stop-color="#f37980"/><stop offset="0.62" stop-color="#f3838a"/><stop offset="0.67" stop-color="#f38f96"/><stop offset="0.71" stop-color="#f29ca2"/><stop offset="0.75" stop-color="#f2a8ae"/><stop offset="0.79" stop-color="#f3b8bd"/><stop offset="0.83" stop-color="#f5cace"/><stop offset="0.88" stop-color="#f8dee1"/><stop offset="0.92" stop-color="#fdf7f8"/><stop offset="0.96" stop-color="#efedff"/><stop offset="1" stop-color="#dcd9ff"/></linearGradient>
<linearGradient id="g154" x1="0" y1="0" x2="0" y2="1"><stop offset="0" stop-color="#fd2f32"/><stop offset="0.04" stop-color="#fd3236"/><stop offset="0.08" stop-color="#fd353b"/><stop offset="0.12" stop-color="#fb3b42"/><stop offset="0.17" stop-color="#fa4248"/><stop offset="0.21" stop-color="#f9474e"/><stop offset="0.25" stop-color="#f84c52"/><stop offset="0.29" stop-color="#f75057"/><stop offset="0.33" stop-color="#f6545b"/><stop offset="0.38" stop-color="#f5585f"/><stop offset="0.42" stop-color="#f55d64"/><stop offset="0.46" stop-color="#f46168"/><stop offset="0.5" stop-color="#f4686f"/><stop offset="0.54" stop-color="#f36f76"/><stop offset="0.58" stop-color="#f3767d"/><stop offset="0.62" stop-color="#f37f86"/><stop offset="0.67" stop-color="#f38c92"/><stop offset="0.71" stop-color="#f2999f"/><stop offset="0.75" stop-color="#f2a6ac"/><stop offset="0.79" stop-color="#f3b7bc"/><stop offset="0.83" stop-color="#f5cacd"/><stop offset="0.88" stop-color="#f8dee0"/><stop offset="0.92" stop-color="#fdf6f7"/><stop offset="0.96" stop-color="#edecff"/><stop offset="1" stop-color="#dbd8ff"/></linearGradient>
<linearGradient id="g155" x1="0" y1="0" x2="0" y2="1"><stop offset="0" stop-color="#fd2e31"/><stop offset="0.04" stop-color="#fd3135"/><stop offset="0.08" stop-color="#fd3439"/><stop offset="0.12" stop-color="#fc3a40"/><stop offset="0.17" stop-color="#fa4147"/><stop offset="0.21" stop-color="#f9464d"/><stop offset="0.25" stop-color="#f84b52"/><stop offset="0.29" stop-color="#f75057"/><stop offset="0.33" stop-color="#f6555c"/><stop offset="0.38" stop-color="#f55a61"/><stop offset="0.42" stop-color="#f55e65"/><stop offset="0.46" stop-color="#f4636a"/><stop offset="0.5" stop-color="#f46a71"/><stop offset="0.54" stop-color="#f37178"/><stop offset="0.58" stop-color="#f3787f"/><stop offset="0.62" stop-color="#f38188"/><stop offset="0.67" stop-color="#f38f96"/><stop offset="0.71" stop-color="#f29da3"/><stop offset="0.75" stop-color="#f2abb1"/><stop offset="0.79" stop-color="#f4bdc2"/><stop offset="0.83" stop-color="#f5d1d4"/><stop offset="0.88" stop-color="#f9e5e7"/><stop offset="0.92" stop-color="#fefcfc"/><stop offset="0.96" stop-color="#e9e7ff"/><stop offset="1" stop-color="#d5d1ff"/></linearGradient>
<linearGradient id="g156" x1="0" y1="0" x2="0" y2="1"><stop offset="0" stop-color="#fd2e31"/><stop offset="0.04" stop-color="#fd3135"/><stop offset="0.08" stop-color="#fd3439"/><stop offset="0.12" stop-color="#fc3a40"/><stop offset="0.17" stop-color="#fa4147"/><stop offset="0.21" stop-color="#f9474d"/><stop offset="0.25" stop-color="#f84c53"/><stop offset="0.29" stop-color="#f65259"/><stop offset="0.33" stop-color="#f5585f"/><stop offset="0.38" stop-color="#f55d64"/><stop offset="0.42" stop-color="#f46269"/><stop offset="0.46" stop-color="#f4686f"/><stop offset="0.5" stop-color="#f36f76"/><stop offset="0.54" stop-color="#f3777e"/><stop offset="0.58" stop-color="#f38086"/><stop offset="0.62" stop-color="#f38a90"/><stop offset="0.67" stop-color="#f2989e"/><stop offset="0.71" stop-color="#f2a6ac"/><stop offset="0.75" stop-color="#f3b6bb"/><stop offset="0.79" stop-color="#f5cacd"/><stop offset="0.83" stop-color="#f8dde0"/><stop offset="0.88" stop-color="#fcf1f2"/><stop offset="0.92" stop-color="#f8f7ff"/><stop offset="0.96" stop-color="#e3e0ff"/><stop offset="1" stop-color="#cbc7ff"/></linearGradient>
<linearGradient id="g157" x1="0" y1="0" x2="0" y2="1"><stop offset="0" stop-color="#fe2e30"/><stop offset="0.04" stop-color="#fd3034"/><stop offset="0.08" stop-color="#fd3339"/><stop offset="0.12" stop-color="#fc383f"/><stop offset="0.17" stop-color="#fb3f45"/><stop offset="0.21" stop-color="#f9464c"/><stop offset="0.25" stop-color="#f84d53"/><stop offset="0.29" stop-color="#f6545a"/><stop offset="0.33" stop-color="#f55a61"/><stop offset="0.38" stop-color="#f46168"/><stop offset="0.42" stop-color="#f4676e"/><stop offset="0.46" stop-color="#f36e75"/><stop offset="0.5" stop-color="#f3767d"/><stop offset="0.54" stop-color="#f37f86"/><stop offset="0.58" stop-color="#f3888f"/><stop offset="0.62" stop-color="#f2939a"/><stop offset="0.67" stop-color="#f2a2a9"/><stop offset="0.71" stop-color="#f3b2b8"/><stop offset="0.75" stop-color="#f4c3c7"/><stop offset="0.79" stop-color="#f6d7da"/><stop offset="0.83" stop-color="#faeaeb"/><stop offset="0.88" stop-color="#ffffff"/><stop offset="0.92" stop-color="#ebe9ff"/><stop offset="0.96" stop-color="#d5d2ff"/><stop offset="1" stop-color="#bdb7ff"/></linearGradient>
<linearGradient id="g158" x1="0" y1="0" x2="0" y2="1"><stop offset="0" stop-color="#fe2d2e"/><stop offset="0.04" stop-color="#fd2f33"/><stop offset="0.08" stop-color="#fd3237"/><stop offset="0.12" stop-color="#fd363c"/><stop offset="0.17" stop-color="#fb3d43"/><stop offset="0.21" stop-color="#f9444b"/><stop offset="0.25" stop-color="#f84d53"/><stop offset="0.29" stop-color="#f6555c"/><stop offset="0.33" stop-color="#f55d64"/><stop offset="0.38" stop-color="#f4656c"/><stop offset="0.42" stop-color="#f36d74"/><stop offset="0.46" stop-color="#f3757c"/><stop offset="0.5" stop-color="#f37f85"/><stop offset="0.54" stop-color="#f3898f"/><stop offset="0.58" stop-color="#f29399"/><stop offset="0.62" stop-color="#f29ea4"/><stop offset="0.67" stop-color="#f2aeb4"/><stop offset="0.71" stop-color="#f4c0c4"/><stop offset="0.75" stop-color="#f6d2d5"/><stop offset="0.79" stop-color="#f9e4e6"/><stop offset="0.83" stop-color="#fdf6f6"/><stop offset="0.88" stop-color="#f2f1ff"/><stop offset="0.92" stop-color="#dbd8ff"/><stop offset="0.96" stop-color="#c3beff"/><stop offset="1" stop-color="#aaa3ff"/></linearGradient>
<linearGradient id="g159" x1="0" y1="0" x2="0" y2="1"><stop offset="0" stop-color="#fe2c2e"/><stop offset="0.04" stop-color="#fd2f32"/><stop offset="0.08" stop-color="#fd3236"/><stop offset="0.12" stop-color="#fd353b"/><stop offset="0.17" stop-color="#fb3c42"/><stop offset="0.21" stop-color="#fa444a"/><stop offset="0.25" stop-color="#f74d54"/><stop offset="0.29" stop-color="#f5565d"/><stop offset="0.33" stop-color="#f45f66"/><stop offset="0.38" stop-color="#f4686f"/><stop offset="0.42" stop-color="#f37178"/><stop offset="0.46" stop-color="#f37a81"/><stop offset="0.5" stop-color="#f3848b"/><stop offset="0.54" stop-color="#f38d94"/><stop offset="0.58" stop-color="#f2989e"/><stop offset="0.62" stop-color="#f2a5ab"/><stop offset="0.67" stop-color="#f3b7bc"/><stop offset="0.71" stop-color="#f5c9cd"/><stop offset="0.75" stop-color="#f7dbde"/><stop offset="0.79" stop-color="#fbedef"/><stop offset="0.83" stop-color="#fefeff"/><stop offset="0.88" stop-color="#e8e6ff"/><stop offset="0.92" stop-color="#d0ccff"/><stop offset="0.96" stop-color="#b5afff"/><stop offset="1" stop-color="#9b93ff"/></linearGradient>
<linearGradient id="g160" x1="0" y1="0" x2="0" y2="1"><stop offset="0" stop-color="#fe2c2e"/><stop offset="0.04" stop-color="#fd2f32"/><stop offset="0.08" stop-color="#fd3236"/><stop offset="0.12" stop-color="#fd353b"/><stop offset="0.17" stop-color="#fb3c42"/><stop offset="0.21" stop-color="#f9444b"/><stop offset="0.25" stop-color="#f74e55"/><stop offset="0.29" stop-color="#f5585f"/><stop offset="0.33" stop-color="#f46168"/><stop offset="0.38" stop-color="#f46a71"/><stop offset="0.42" stop-color="#f3747b"/><stop offset="0.46" stop-color="#f37e85"/><stop offset="0.5" stop-color="#f3878d"/><stop offset="0.54" stop-color="#f38f95"/><stop offset="0.58" stop-color="#f29aa0"/><stop offset="0.62" stop-color="#f2a9af"/><stop offset="0.67" stop-color="#f4bcc1"/><stop offset="0.71" stop-color="#f5cfd2"/><stop offset="0.75" stop-color="#f8e1e3"/><stop offset="0.79" stop-color="#fdf4f5"/><stop offset="0.83" stop-color="#f6f5ff"/><stop offset="0.88" stop-color="#e0ddff"/><stop offset="0.92" stop-color="#c8c3ff"/><stop offset="0.96" stop-color="#aca4ff"/><stop offset="1" stop-color="#8f86ff"/></linearGradient>
<linearGradient id="g161" x1="0" y1="0" x2="0" y2="1"><stop offset="0" stop-color="#fe2c2e"/><stop offset="0.04" stop-color="#fd2f32"/><stop offset="0.08" stop-color="#fd3236"/><stop offset="0.12" stop-color="#fd353b"/><stop offset="0.17" stop-color="#fb3c42"/><stop offset="0.21" stop-color="#f9444b"/><stop offset="0.25" stop-color="#f74f56"/><stop offset="0.29" stop-color="#f55960"/><stop offset="0.33" stop-color="#f4636a"/><stop offset="0.38" stop-color="#f36d74"/><stop offset="0.42" stop-color="#f3777e"/><stop offset="0.46" stop-color="#f38289"/><stop offset="0.5" stop-color="#f38990"/><stop offset="0.54" stop-color="#f29096"/><stop offset="0.58" stop-color="#f29ba1"/><stop offset="0.62" stop-color="#f2acb2"/><stop offset="0.67" stop-color="#f4c1c5"/><stop offset="0.71" stop-color="#f6d4d8"/><stop offset="0.75" stop-color="#fae7e9"/><stop offset="0.79" stop-color="#fefbfb"/><stop offset="0.83" stop-color="#eeedff"/><stop offset="0.88" stop-color="#d8d5ff"/><stop offset="0.92" stop-color="#c0bbff"/><stop offset="0.96" stop-color="#a29aff"/><stop offset="1" stop-color="#8379ff"/></linearGradient>
<linearGradient id="g162" x1="0" y1="0" x2="0" y2="1"><stop offset="0" stop-color="#fe2c2e"/><stop offset="0.04" stop-color="#fd2f32"/><stop offset="0.08" stop-color="#fd3236"/><stop offset="0.12" stop-color="#fd353b"/><stop offset="0.17" stop-color="#fb3c42"/><stop offset="0.21" stop-color="#f9454b"/><stop offset="0.25" stop-color="#f75056"/><stop offset="0.29" stop-color="#f55b62"/><stop offset="0.33" stop-color="#f4656c"/><stop offset="0.38" stop-color="#f36f76"/><stop offset="0.42" stop-color="#f37b81"/><stop offset="0.46" stop-color="#f3868d"/><stop offset="0.5" stop-color="#f38c93"/><stop offset="0.54" stop-color="#f29198"/><stop offset="0.58" stop-color="#f29da3"/><stop offset="0.62" stop-color="#f2b1b6"/><stop offset="0.67" stop-color="#f4c6ca"/><stop offset="0.71" stop-color="#f7dadd"/><stop offset="0.75" stop-color="#fbedef"/><stop offset="0.79" stop-color="#fcfcff"/><stop offset="0.83" stop-color="#e6e4ff"/><stop offset="0.88" stop-color="#d0ccff"/><stop offset="0.92" stop-color="#b8b2ff"/><stop offset="0.96" stop-color="#988fff"/><stop offset="1" stop-color="#776cff"/></linearGradient>
<linearGradient id="g163" x1="0" y1="0" x2="0" y2="1"><stop offset="0" stop-color="#fe2c2d"/><stop offset="0.04" stop-color="#fd2f31"/><stop offset="0.08" stop-color="#fd3136"/><stop offset="0.12" stop-color="#fd343a"/><stop offset="0.17" stop-color="#fc3b41"/><stop offset="0.21" stop-color="#f9444b"/><stop offset="0.25" stop-color="#f75057"/><stop offset="0.29" stop-color="#f55c63"/><stop offset="0.33" stop-color="#f4676e"/><stop offset="0.38" stop-color="#f37279"/><stop offset="0.42" stop-color="#f37e85"/><stop offset="0.46" stop-color="#f38b92"/><stop offset="0.5" stop-color="#f29299"/><stop offset="0.54" stop-color="#f2989f"/><stop offset="0.58" stop-color="#f2a4aa"/><stop offset="0.62" stop-color="#f3b8bd"/><stop offset="0.67" stop-color="#f5cdd0"/><stop offset="0.71" stop-color="#f8e0e2"/><stop offset="0.75" stop-color="#fcf3f4"/><stop offset="0.79" stop-color="#f5f4ff"/><stop offset="0.83" stop-color="#dedbff"/><stop offset="0.88" stop-color="#c6c1ff"/><stop offset="0.92" stop-color="#ada5ff"/><stop offset="0.96" stop-color="#8c82ff"/><stop offset="1" stop-color="#6b5eff"/></linearGradient>
<linearGradient id="g164" x1="0" y1="0" x2="0" y2="1"><stop offset="0" stop-color="#fe2b2c"/><stop offset="0.04" stop-color="#fe2e30"/><stop offset="0.08" stop-color="#fd3135"/><stop offset="0.12" stop-color="#fd3339"/><stop offset="0.17" stop-color="#fc393f"/><stop offset="0.21" stop-color="#fa4349"/><stop offset="0.25" stop-color="#f75057"/><stop offset="0.29" stop-color="#f55c63"/><stop offset="0.33" stop-color="#f46970"/><stop offset="0.38" stop-color="#f3757c"/><stop offset="0.42" stop-color="#f38389"/><stop offset="0.46" stop-color="#f29097"/><stop offset="0.5" stop-color="#f29aa0"/><stop offset="0.54" stop-color="#f2a2a9"/><stop offset="0.58" stop-color="#f2afb5"/><stop offset="0.62" stop-color="#f4c1c6"/><stop offset="0.67" stop-color="#f6d4d8"/><stop offset="0.71" stop-color="#fae6e8"/><stop offset="0.75" stop-color="#fef9f9"/><stop offset="0.79" stop-color="#eeecff"/><stop offset="0.83" stop-color="#d5d1ff"/><stop offset="0.88" stop-color="#bbb5ff"/><stop offset="0.92" stop-color="#9f97ff"/><stop offset="0.96" stop-color="#7f74ff"/><stop offset="1" stop-color="#5f51ff"/></linearGradient>
<linearGradient id="g165" x1="0" y1="0" x2="0" y2="1"><stop offset="0" stop-color="#fe2a2b"/><stop offset="0.04" stop-color="#fe2d2f"/><stop offset="0.08" stop-color="#fd3033"/><stop offset="0.12" stop-color="#fd3338"/><stop offset="0.17" stop-color="#fc373d"/><stop offset="0.21" stop-color="#fa4248"/><stop offset="0.25" stop-color="#f75056"/><stop offset="0.29" stop-color="#f55d64"/><stop offset="0.33" stop-color="#f46a71"/><stop offset="0.38" stop-color="#f3787f"/><stop offset="0.42" stop-color="#f3878d"/><stop offset="0.46" stop-color="#f2959c"/><stop offset="0.5" stop-color="#f2a1a7"/><stop offset="0.54" stop-color="#f2adb3"/><stop offset="0.58" stop-color="#f3babf"/><stop offset="0.62" stop-color="#f5cace"/><stop offset="0.67" stop-color="#f7dcde"/><stop offset="0.71" stop-color="#fbedee"/><stop offset="0.75" stop-color="#ffffff"/><stop offset="0.79" stop-color="#e6e4ff"/><stop offset="0.83" stop-color="#ccc7ff"/><stop offset="0.88" stop-color="#b0a9ff"/><stop offset="0.92" stop-color="#9188ff"/><stop offset="0.96" stop-color="#7266ff"/><stop offset="1" stop-color="#5243ff"/></linearGradient>
<linearGradient id="g166" x1="0" y1="0" x2="0" y2="1"><stop offset="0" stop-color="#fe2a2b"/><stop offset="0.04" stop-color="#fe2d2f"/><stop offset="0.08" stop-color="#fd3033"/><stop offset="0.12" stop-color="#fd3237"/><stop offset="0.17" stop-color="#fc373d"/><stop offset="0.21" stop-color="#fa4248"/><stop offset="0.25" stop-color="#f75057"/><stop offset="0.29" stop-color="#f55e65"/><stop offset="0.33" stop-color="#f46c73"/><stop offset="0.38" stop-color="#f37a81"/><stop offset="0.42" stop-color="#f38a90"/><stop offset="0.46" stop-color="#f2999f"/><stop offset="0.5" stop-color="#f2a6ac"/><stop offset="0.54" stop-color="#f3b3b8"/><stop offset="0.58" stop-color="#f4c0c5"/><stop offset="0.62" stop-color="#f5d0d3"/><stop offset="0.67" stop-color="#f8e1e3"/><stop offset="0.71" stop-color="#fcf1f2"/><stop offset="0.75" stop-color="#fbfaff"/><stop offset="0.79" stop-color="#e1deff"/><stop offset="0.83" stop-color="#c7c2ff"/><stop offset="0.88" stop-color="#aba4ff"/><stop offset="0.92" stop-color="#8d83ff"/><stop offset="0.96" stop-color="#6d61ff"/><stop offset="1" stop-color="#4c3dff"/></linearGradient>
<linearGradient id="g167" x1="0" y1="0" x2="0" y2="1"><stop offset="0" stop-color="#fe2a2b"/><stop offset="0.04" stop-color="#fe2d2f"/><stop offset="0.08" stop-color="#fd3033"/><stop offset="0.12" stop-color="#fd3237"/><stop offset="0.17" stop-color="#fc373d"/><stop offset="0.21" stop-color="#fa4248"/><stop offset="0.25" stop-color="#f75157"/><stop offset="0.29" stop-color="#f45f66"/><stop offset="0.33" stop-color="#f36d74"/><stop offset="0.38" stop-color="#f37c83"/><stop offset="0.42" stop-color="#f38c92"/><stop offset="0.46" stop-color="#f29ca2"/><stop offset="0.5" stop-color="#f2a8ae"/><stop offset="0.54" stop-color="#f3b6bb"/><stop offset="0.58" stop-color="#f4c4c8"/><stop offset="0.62" stop-color="#f6d4d7"/><stop offset="0.67" stop-color="#f9e4e6"/><stop offset="0.71" stop-color="#fdf5f6"/><stop offset="0.75" stop-color="#f6f6ff"/><stop offset="0.79" stop-color="#dedbff"/><stop offset="0.83" stop-color="#c5c0ff"/><stop offset="0.88" stop-color="#aba3ff"/><stop offset="0.92" stop-color="#8e85ff"/><stop offset="0.96" stop-color="#6d61ff"/><stop offset="1" stop-color="#4a3aff"/></linearGradient>
<linearGradient id="g168" x1="0" y1="0" x2="0" y2="1"><stop offset="0" stop-color="#fe2a2b"/><stop offset="0.04" stop-color="#fe2d2f"/><stop offset="0.08" stop-color="#fd3033"/><stop offset="0.12" stop-color="#fd3237"/><stop offset="0.17" stop-color="#fc373d"/><stop offset="0.21" stop-color="#fa4248"/><stop offset="0.25" stop-color="#f75158"/><stop offset="0.29" stop-color="#f46067"/><stop offset="0.33" stop-color="#f36e75"/><stop offset="0.38" stop-color="#f37e85"/><stop offset="0.42" stop-color="#f38e95"/><stop offset="0.46" stop-color="#f29ea4"/><stop offset="0.5" stop-color="#f2abb1"/><stop offset="0.54" stop-color="#f3b9be"/><stop offset="0.58" stop-color="#f5c7cb"/><stop offset="0.62" stop-color="#f6d7da"/><stop offset="0.67" stop-color="#fae8e9"/><stop offset="0.71" stop-color="#fef8f9"/><stop offset="0.75" stop-color="#f2f1ff"/><stop offset="0.79" stop-color="#dbd8ff"/><stop offset="0.83" stop-color="#c3beff"/><stop offset="0.88" stop-color="#aaa2ff"/><stop offset="0.92" stop-color="#8f86ff"/><stop offset="0.96" stop-color="#6d61ff"/><stop offset="1" stop-color="#4738ff"/></linearGradient>
<linearGradient id="g169" x1="0" y1="0" x2="0" y2="1"><stop offset="0" stop-color="#fe2a2b"/><stop offset="0.04" stop-color="#fe2d2f"/><stop offset="0.08" stop-color="#fd3033"/><stop offset="0.12" stop-color="#fd3237"/><stop offset="0.17" stop-color="#fc373d"/><stop offset="0.21" stop-color="#fa4249"/><stop offset="0.25" stop-color="#f65259"/><stop offset="0.29" stop-color="#f46168"/><stop offset="0.33" stop-color="#f37077"/><stop offset="0.38" stop-color="#f38086"/><stop offset="0.42" stop-color="#f29097"/><stop offset="0.46" stop-color="#f2a1a7"/><stop offset="0.5" stop-color="#f2aeb4"/><stop offset="0.54" stop-color="#f3bbc0"/><stop offset="0.58" stop-color="#f5cace"/><stop offset="0.62" stop-color="#f7dbdd"/><stop offset="0.67" stop-color="#fbebed"/><stop offset="0.71" stop-color="#fefcfc"/><stop offset="0.75" stop-color="#eeecff"/><stop offset="0.79" stop-color="#d8d4ff"/><stop offset="0.83" stop-color="#c1bcff"/><stop offset="0.88" stop-color="#a9a2ff"/><stop offset="0.92" stop-color="#9187ff"/><stop offset="0.96" stop-color="#6d61ff"/><stop offset="1" stop-color="#4535ff"/></linearGradient>
<linearGradient id="g170" x1="0" y1="0" x2="0" y2="1"><stop offset="0" stop-color="#fe2a2a"/><stop offset="0.04" stop-color="#fe2d2e"/><stop offset="0.08" stop-color="#fd2f33"/><stop offset="0.12" stop-color="#fd3237"/><stop offset="0.17" stop-color="#fc363d"/><stop offset="0.21" stop-color="#fa4349"/><stop offset="0.25" stop-color="#f65259"/><stop offset="0.29" stop-color="#f46269"/><stop offset="0.33" stop-color="#f37178"/><stop offset="0.38" stop-color="#f38289"/><stop offset="0.42" stop-color="#f29399"/><stop offset="0.46" stop-color="#f2a4aa"/><stop offset="0.5" stop-color="#f3b1b7"/><stop offset="0.54" stop-color="#f4bfc4"/><stop offset="0.58" stop-color="#f5ced1"/><stop offset="0.62" stop-color="#f8dee1"/><stop offset="0.67" stop-color="#fbeef0"/><stop offset="0.71" stop-color="#ffffff"/><stop offset="0.75" stop-color="#ebeaff"/><stop offset="0.79" stop-color="#d7d3ff"/><stop offset="0.83" stop-color="#c1bbff"/><stop offset="0.88" stop-color="#a8a0ff"/><stop offset="0.92" stop-color="#8f85ff"/><stop offset="0.96" stop-color="#6b5eff"/><stop offset="1" stop-color="#4232ff"/></linearGradient>
<linearGradient id="g171" x1="0" y1="0" x2="0" y2="1"><stop offset="0" stop-color="#fe2929"/><stop offset="0.04" stop-color="#fe2c2e"/><stop offset="0.08" stop-color="#fd2f32"/><stop offset="0.12" stop-color="#fd3237"/><stop offset="0.17" stop-color="#fc363c"/><stop offset="0.21" stop-color="#fa4349"/><stop offset="0.25" stop-color="#f6535a"/><stop offset="0.29" stop-color="#f4636a"/><stop offset="0.33" stop-color="#f3737a"/><stop offset="0.38" stop-color="#f3848b"/><stop offset="0.42" stop-color="#f2969c"/><stop offset="0.46" stop-color="#f2a7ad"/><stop offset="0.5" stop-color="#f3b5bb"/><stop offset="0.54" stop-color="#f4c4c8"/><stop offset="0.58" stop-color="#f6d2d6"/><stop offset="0.62" stop-color="#f9e2e4"/><stop offset="0.67" stop-color="#fcf1f2"/><stop offset="0.71" stop-color="#fdfdff"/><stop offset="0.75" stop-color="#eae9ff"/><stop offset="0.79" stop-color="#d7d4ff"/><stop offset="0.83" stop-color="#c1bcff"/><stop offset="0.88" stop-color="#a69fff"/><stop offset="0.92" stop-color="#8b81ff"/><stop offset="0.96" stop-color="#675aff"/><stop offset="1" stop-color="#3f2fff"/></linearGradient>
<linearGradient id="g172" x1="0" y1="0" x2="0" y2="1"><stop offset="0" stop-color="#fe2928"/><stop offset="0.04" stop-color="#fe2c2d"/><stop offset="0.08" stop-color="#fd2f32"/><stop offset="0.12" stop-color="#fd3236"/><stop offset="0.17" stop-color="#fd363c"/><stop offset="0.21" stop-color="#fa4349"/><stop offset="0.25" stop-color="#f6545b"/><stop offset="0.29" stop-color="#f4646b"/><stop offset="0.33" stop-color="#f3747b"/><stop offset="0.38" stop-color="#f3868d"/><stop offset="0.42" stop-color="#f2989f"/><stop offset="0.46" stop-color="#f2aab0"/><stop offset="0.5" stop-color="#f3babf"/><stop offset="0.54" stop-color="#f5c8cc"/><stop offset="0.58" stop-color="#f6d7da"/><stop offset="0.62" stop-color="#f9e5e7"/><stop offset="0.67" stop-color="#fdf4f5"/><stop offset="0.71" stop-color="#fafaff"/><stop offset="0.75" stop-color="#e9e7ff"/><stop offset="0.79" stop-color="#d8d5ff"/><stop offset="0.83" stop-color="#c1bcff"/><stop offset="0.88" stop-color="#a59dff"/><stop offset="0.92" stop-color="#887dff"/><stop offset="0.96" stop-color="#6255ff"/><stop offset="1" stop-color="#3c2cff"/></linearGradient>
<linearGradient id="g173" x1="0" y1="0" x2="0" y2="1"><stop offset="0" stop-color="#fe2827"/><stop offset="0.04" stop-color="#fe2b2c"/><stop offset="0.08" stop-color="#fd2f31"/><stop offset="0.12" stop-color="#fd3236"/><stop offset="0.17" stop-color="#fd363c"/><stop offset="0.21" stop-color="#fa434a"/><stop offset="0.25" stop-color="#f6545b"/><stop offset="0.29" stop-color="#f4646b"/><stop offset="0.33" stop-color="#f3757c"/><stop offset="0.38" stop-color="#f3878d"/><stop offset="0.42" stop-color="#f2999f"/><stop offset="0.46" stop-color="#f2abb1"/><stop offset="0.5" stop-color="#f3babf"/><stop offset="0.54" stop-color="#f5c9cd"/><stop offset="0.58" stop-color="#f6d7da"/><stop offset="0.62" stop-color="#fae6e8"/><stop offset="0.67" stop-color="#fdf5f6"/><stop offset="0.71" stop-color="#f9f9ff"/><stop offset="0.75" stop-color="#e8e6ff"/><stop offset="0.79" stop-color="#d6d3ff"/><stop offset="0.83" stop-color="#bfb9ff"/><stop offset="0.88" stop-color="#a199ff"/><stop offset="0.92" stop-color="#8278ff"/><stop offset="0.96" stop-color="#5e50ff"/><stop offset="1" stop-color="#3928ff"/></linearGradient>
<linearGradient id="g174" x1="0" y1="0" x2="0" y2="1"><stop offset="0" stop-color="#fe2827"/><stop offset="0.04" stop-color="#fe2b2c"/><stop offset="0.08" stop-color="#fd2f31"/><stop offset="0.12" stop-color="#fd3236"/><stop offset="0.17" stop-color="#fd363c"/><stop offset="0.21" stop-color="#fa4349"/><stop offset="0.25" stop-color="#f6545a"/><stop offset="0.29" stop-color="#f4646b"/><stop offset="0.33" stop-color="#f3747a"/><stop offset="0.38" stop-color="#f3858c"/><stop offset="0.42" stop-color="#f2979d"/><stop offset="0.46" stop-color="#f2a9af"/><stop offset="0.5" stop-color="#f3b7bd"/><stop offset="0.54" stop-color="#f4c5ca"/><stop offset="0.58" stop-color="#f6d4d7"/><stop offset="0.62" stop-color="#f9e4e6"/><stop offset="0.67" stop-color="#fcf3f4"/><stop offset="0.71" stop-color="#fafaff"/><stop offset="0.75" stop-color="#e6e4ff"/><stop offset="0.79" stop-color="#d2ceff"/><stop offset="0.83" stop-color="#b8b2ff"/><stop offset="0.88" stop-color="#9a91ff"/><stop offset="0.92" stop-color="#7b70ff"/><stop offset="0.96" stop-color="#584aff"/><stop offset="1" stop-color="#3524ff"/></linearGradient>
<linearGradient id="g175" x1="0" y1="0" x2="0" y2="1"><stop offset="0" stop-color="#fe2827"/><stop offset="0.04" stop-color="#fe2b2c"/><stop offset="0.08" stop-color="#fd2f31"/><stop offset="0.12" stop-color="#fd3236"/><stop offset="0.17" stop-color="#fd363c"/><stop offset="0.21" stop-color="#fa4349"/><stop offset="0.25" stop-color="#f6535a"/><stop offset="0.29" stop-color="#f4636a"/><stop offset="0.33" stop-color="#f37279"/><stop offset="0.38" stop-color="#f3848a"/><stop offset="0.42" stop-color="#f2959c"/><stop offset="0.46" stop-color="#f2a7ad"/><stop offset="0.5" stop-color="#f3b5ba"/><stop offset="0.54" stop-color="#f4c2c7"/><stop offset="0.58" stop-color="#f5d0d4"/><stop offset="0.62" stop-color="#f8e1e3"/><stop offset="0.67" stop-color="#fcf2f3"/><stop offset="0.71" stop-color="#fafaff"/><stop offset="0.75" stop-color="#e4e2ff"/><stop offset="0.79" stop-color="#cdc9ff"/><stop offset="0.83" stop-color="#b2acff"/><stop offset="0.88" stop-color="#938aff"/><stop offset="0.92" stop-color="#7368ff"/><stop offset="0.96" stop-color="#5243ff"/><stop offset="1" stop-color="#311fff"/></linearGradient>
<linearGradient id="g176" x1="0" y1="0" x2="0" y2="1"><stop offset="0" stop-color="#fe2827"/><stop offset="0.04" stop-color="#fe2b2c"/><stop offset="0.08" stop-color="#fd2f31"/><stop offset="0.12" stop-color="#fd3236"/><stop offset="0.17" stop-color="#fd363c"/><stop offset="0.21" stop-color="#fa4249"/><stop offset="0.25" stop-color="#f65259"/><stop offset="0.29" stop-color="#f46269"/><stop offset="0.33" stop-color="#f37178"/><stop offset="0.38" stop-color="#f38188"/><stop offset="0.42" stop-color="#f29299"/><stop offset="0.46" stop-color="#f2a3a9"/><stop offset="0.5" stop-color="#f2b0b6"/><stop offset="0.54" stop-color="#f4bdc2"/><stop offset="0.58" stop-color="#f5cbcf"/><stop offset="0.62" stop-color="#f8dde0"/><stop offset="0.67" stop-color="#fcf0f1"/><stop offset="0.71" stop-color="#fbfbff"/><stop offset="0.75" stop-color="#e1deff"/><stop offset="0.79" stop-color="#c7c2ff"/><stop offset="0.83" stop-color="#a9a1ff"/><stop offset="0.88" stop-color="#887eff"/><stop offset="0.92" stop-color="#685bff"/><stop offset="0.96" stop-color="#493aff"/><stop offset="1" stop-color="#2b19ff"/></linearGradient>
<linearGradient id="g177" x1="0" y1="0" x2="0" y2="1"><stop offset="0" stop-color="#fe2826"/><stop offset="0.04" stop-color="#fe2b2c"/><stop offset="0.08" stop-color="#fd2e31"/><stop offset="0.12" stop-color="#fd3136"/><stop offset="0.17" stop-color="#fd363c"/><stop offset="0.21" stop-color="#fa4248"/><stop offset="0.25" stop-color="#f65158"/><stop offset="0.29" stop-color="#f46067"/><stop offset="0.33" stop-color="#f36f76"/><stop offset="0.38" stop-color="#f37e85"/><stop offset="0.42" stop-color="#f38e95"/><stop offset="0.46" stop-color="#f29fa5"/><stop offset="0.5" stop-color="#f2abb1"/><stop offset="0.54" stop-color="#f3b8bd"/><stop offset="0.58" stop-color="#f4c5ca"/><stop offset="0.62" stop-color="#f7d8db"/><stop offset="0.67" stop-color="#fbeced"/><stop offset="0.71" stop-color="#fdfdff"/><stop offset="0.75" stop-color="#e0ddff"/><stop offset="0.79" stop-color="#c2bcff"/><stop offset="0.83" stop-color="#a198ff"/><stop offset="0.88" stop-color="#7e73ff"/><stop offset="0.92" stop-color="#5c4eff"/><stop offset="0.96" stop-color="#4030ff"/><stop offset="1" stop-color="#2512ff"/></linearGradient>
<linearGradient id="g178" x1="0" y1="0" x2="0" y2="1"><stop offset="0" stop-color="#fe2725"/><stop offset="0.04" stop-color="#fe2a2b"/><stop offset="0.08" stop-color="#fe2e30"/><stop offset="0.12" stop-color="#fd3136"/><stop offset="0.17" stop-color="#fd363c"/><stop offset="0.21" stop-color="#fa4248"/><stop offset="0.25" stop-color="#f75057"/><stop offset="0.29" stop-color="#f55f66"/><stop offset="0.33" stop-color="#f36c73"/><stop offset="0.38" stop-color="#f37b82"/><stop offset="0.42" stop-color="#f38b91"/><stop offset="0.46" stop-color="#f29aa0"/><stop offset="0.5" stop-color="#f2a7ad"/><stop offset="0.54" stop-color="#f3b4b9"/><stop offset="0.58" stop-color="#f4c1c6"/><stop offset="0.62" stop-color="#f6d3d6"/><stop offset="0.67" stop-color="#fae8ea"/><stop offset="0.71" stop-color="#fffefe"/><stop offset="0.75" stop-color="#e0deff"/><stop offset="0.79" stop-color="#bfb9ff"/><stop offset="0.83" stop-color="#9b92ff"/><stop offset="0.88" stop-color="#7569ff"/><stop offset="0.92" stop-color="#5142ff"/><stop offset="0.96" stop-color="#3928ff"/><stop offset="1" stop-color="#210eff"/></linearGradient>
<linearGradient id="g179" x1="0" y1="0" x2="0" y2="1"><stop offset="0" stop-color="#fe2624"/><stop offset="0.04" stop-color="#fe2a29"/><stop offset="0.08" stop-color="#fe2d2f"/><stop offset="0.12" stop-color="#fd3135"/><stop offset="0.17" stop-color="#fd353b"/><stop offset="0.21" stop-color="#fa4147"/><stop offset="0.25" stop-color="#f74f56"/><stop offset="0.29" stop-color="#f55d64"/><stop offset="0.33" stop-color="#f46a71"/><stop offset="0.38" stop-color="#f3787f"/><stop offset="0.42" stop-color="#f3878e"/><stop offset="0.46" stop-color="#f2969c"/><stop offset="0.5" stop-color="#f2a3a9"/><stop offset="0.54" stop-color="#f2b0b6"/><stop offset="0.58" stop-color="#f4bec3"/><stop offset="0.62" stop-color="#f5cfd3"/><stop offset="0.67" stop-color="#fae6e8"/><stop offset="0.71" stop-color="#fffefe"/><stop offset="0.75" stop-color="#dfdcff"/><stop offset="0.79" stop-color="#bbb5ff"/><stop offset="0.83" stop-color="#968dff"/><stop offset="0.88" stop-color="#6e62ff"/><stop offset="0.92" stop-color="#4939ff"/><stop offset="0.96" stop-color="#3321ff"/><stop offset="1" stop-color="#1d09ff"/></linearGradient>
<linearGradient id="g180" x1="0" y1="0" x2="0" y2="1"><stop offset="0" stop-color="#fe2522"/><stop offset="0.04" stop-color="#fe2928"/><stop offset="0.08" stop-color="#fe2c2e"/><stop offset="0.12" stop-color="#fd3033"/><stop offset="0.17" stop-color="#fd3339"/><stop offset="0.21" stop-color="#fb3e45"/><stop offset="0.25" stop-color="#f84d53"/><stop offset="0.29" stop-color="#f55a61"/><stop offset="0.33" stop-color="#f4686f"/><stop offset="0.38" stop-color="#f3757c"/><stop offset="0.42" stop-color="#f3848b"/><stop offset="0.46" stop-color="#f29399"/><stop offset="0.5" stop-color="#f2a1a7"/><stop offset="0.54" stop-color="#f2afb4"/><stop offset="0.58" stop-color="#f4bdc2"/><stop offset="0.62" stop-color="#f5cfd2"/><stop offset="0.67" stop-color="#fae8ea"/><stop offset="0.71" stop-color="#fbfbff"/><stop offset="0.75" stop-color="#dad7ff"/><stop offset="0.79" stop-color="#b7b1ff"/><stop offset="0.83" stop-color="#9288ff"/><stop offset="0.88" stop-color="#6a5eff"/><stop offset="0.92" stop-color="#4535ff"/><stop offset="0.96" stop-color="#2f1dff"/><stop offset="1" stop-color="#1905ff"/></linearGradient>
<linearGradient id="g181" x1="0" y1="0" x2="0" y2="1"><stop offset="0" stop-color="#fe2421"/><stop offset="0.04" stop-color="#fe2827"/><stop offset="0.08" stop-color="#fe2b2c"/><stop offset="0.12" stop-color="#fd2f32"/><stop offset="0.17" stop-color="#fd3338"/><stop offset="0.21" stop-color="#fb3c43"/><stop offset="0.25" stop-color="#f84a51"/><stop offset="0.29" stop-color="#f5585f"/><stop offset="0.33" stop-color="#f4656c"/><stop offset="0.38" stop-color="#f3737a"/><stop offset="0.42" stop-color="#f38188"/><stop offset="0.46" stop-color="#f29097"/><stop offset="0.5" stop-color="#f29fa5"/><stop offset="0.54" stop-color="#f2adb3"/><stop offset="0.58" stop-color="#f3bcc0"/><stop offset="0.62" stop-color="#f5ced2"/><stop offset="0.67" stop-color="#faeaec"/><stop offset="0.71" stop-color="#f7f6ff"/><stop offset="0.75" stop-color="#d4d1ff"/><stop offset="0.79" stop-color="#b2acff"/><stop offset="0.83" stop-color="#8d84ff"/><stop offset="0.88" stop-color="#6659ff"/><stop offset="0.92" stop-color="#4130ff"/><stop offset="0.96" stop-color="#2b19ff"/><stop offset="1" stop-color="#1501ff"/></linearGradient>
<linearGradient id="g182" x1="0" y1="0" x2="0" y2="1"><stop offset="0" stop-color="#fe2420"/><stop offset="0.04" stop-color="#fe2726"/><stop offset="0.08" stop-color="#fe2b2c"/><stop offset="0.12" stop-color="#fd2f32"/><stop offset="0.17" stop-color="#fd3338"/><stop offset="0.21" stop-color="#fb3c43"/><stop offset="0.25" stop-color="#f84b51"/><stop offset="0.29" stop-color="#f55960"/><stop offset="0.33" stop-color="#f4666d"/><stop offset="0.38" stop-color="#f3737a"/><stop offset="0.42" stop-color="#f38289"/><stop offset="0.46" stop-color="#f29298"/><stop offset="0.5" stop-color="#f2a1a7"/><stop offset="0.54" stop-color="#f2afb5"/><stop offset="0.58" stop-color="#f4bec2"/><stop offset="0.62" stop-color="#f6d2d6"/><stop offset="0.67" stop-color="#fbeeef"/><stop offset="0.71" stop-color="#f0efff"/><stop offset="0.75" stop-color="#ccc8ff"/><stop offset="0.79" stop-color="#a8a1ff"/><stop offset="0.83" stop-color="#8378ff"/><stop offset="0.88" stop-color="#5b4dff"/><stop offset="0.92" stop-color="#3a29ff"/><stop offset="0.96" stop-color="#2715ff"/><stop offset="1" stop-color="#1501ff"/></linearGradient>
<linearGradient id="g183" x1="0" y1="0" x2="0" y2="1"><stop offset="0" stop-color="#fe231f"/><stop offset="0.04" stop-color="#fe2725"/><stop offset="0.08" stop-color="#fe2b2b"/><stop offset="0.12" stop-color="#fd2f31"/><stop offset="0.17" stop-color="#fd3338"/><stop offset="0.21" stop-color="#fb3d43"/><stop offset="0.25" stop-color="#f84b52"/><stop offset="0.29" stop-color="#f55960"/><stop offset="0.33" stop-color="#f4676e"/><stop offset="0.38" stop-color="#f3747b"/><stop offset="0.42" stop-color="#f3848a"/><stop offset="0.46" stop-color="#f29399"/><stop offset="0.5" stop-color="#f2a2a8"/><stop offset="0.54" stop-color="#f2b1b6"/><stop offset="0.58" stop-color="#f4c0c5"/><stop offset="0.62" stop-color="#f6d7da"/><stop offset="0.67" stop-color="#fcf2f3"/><stop offset="0.71" stop-color="#eae8ff"/><stop offset="0.75" stop-color="#c4bfff"/><stop offset="0.79" stop-color="#9e96ff"/><stop offset="0.83" stop-color="#786cff"/><stop offset="0.88" stop-color="#5041ff"/><stop offset="0.92" stop-color="#3321ff"/><stop offset="0.96" stop-color="#2411ff"/><stop offset="1" stop-color="#1501ff"/></linearGradient>
<linearGradient id="g184" x1="0" y1="0" x2="0" y2="1"><stop offset="0" stop-color="#fe221e"/><stop offset="0.04" stop-color="#fe2624"/><stop offset="0.08" stop-color="#fe2a2b"/><stop offset="0.12" stop-color="#fd2e31"/><stop offset="0.17" stop-color="#fd3238"/><stop offset="0.21" stop-color="#fb3d43"/><stop offset="0.25" stop-color="#f84b52"/><stop offset="0.29" stop-color="#f55a61"/><stop offset="0.33" stop-color="#f4676e"/><stop offset="0.38" stop-color="#f3757c"/><stop offset="0.42" stop-color="#f3858b"/><stop offset="0.46" stop-color="#f2949b"/><stop offset="0.5" stop-color="#f2a4aa"/><stop offset="0.54" stop-color="#f3b3b8"/><stop offset="0.58" stop-color="#f4c2c7"/><stop offset="0.62" stop-color="#f7dbde"/><stop offset="0.67" stop-color="#fdf6f7"/><stop offset="0.71" stop-color="#e4e1ff"/><stop offset="0.75" stop-color="#bcb6ff"/><stop offset="0.79" stop-color="#958cff"/><stop offset="0.83" stop-color="#6d60ff"/><stop offset="0.88" stop-color="#4535ff"/><stop offset="0.92" stop-color="#2c1aff"/><stop offset="0.96" stop-color="#200dff"/><stop offset="1" stop-color="#1400ff"/></linearGradient>
<linearGradient id="g185" x1="0" y1="0" x2="0" y2="1"><stop offset="0" stop-color="#ff221d"/><stop offset="0.04" stop-color="#fe2624"/><stop offset="0.08" stop-color="#fe2a2a"/><stop offset="0.12" stop-color="#fd2e31"/><stop offset="0.17" stop-color="#fd3237"/><stop offset="0.21" stop-color="#fb3d43"/><stop offset="0.25" stop-color="#f84b52"/><stop offset="0.29" stop-color="#f55a61"/><stop offset="0.33" stop-color="#f4686f"/><stop offset="0.38" stop-color="#f3767d"/><stop offset="0.42" stop-color="#f3868c"/><stop offset="0.46" stop-color="#f2959b"/><stop offset="0.5" stop-color="#f2a5ab"/><stop offset="0.54" stop-color="#f3b4ba"/><stop offset="0.58" stop-color="#f4c5c9"/><stop offset="0.62" stop-color="#f8dfe1"/><stop offset="0.67" stop-color="#fefbfc"/><stop offset="0.71" stop-color="#dddaff"/><stop offset="0.75" stop-color="#b4aeff"/><stop offset="0.79" stop-color="#8c83ff"/><stop offset="0.83" stop-color="#6558ff"/><stop offset="0.88" stop-color="#3d2dff"/><stop offset="0.92" stop-color="#2816ff"/><stop offset="0.96" stop-color="#1e0bff"/><stop offset="1" stop-color="#1400ff"/></linearGradient>
<linearGradient id="g186" x1="0" y1="0" x2="0" y2="1"><stop offset="0" stop-color="#ff211c"/><stop offset="0.04" stop-color="#fe2523"/><stop offset="0.08" stop-color="#fe2a2a"/><stop offset="0.12" stop-color="#fd2e31"/><stop offset="0.17" stop-color="#fd3237"/><stop offset="0.21" stop-color="#fb3d43"/><stop offset="0.25" stop-color="#f84c52"/><stop offset="0.29" stop-color="#f55a61"/><stop offset="0.33" stop-color="#f4686f"/><stop offset="0.38" stop-color="#f3767d"/><stop offset="0.42" stop-color="#f3868d"/><stop offset="0.46" stop-color="#f2969c"/><stop offset="0.5" stop-color="#f2a6ac"/><stop offset="0.54" stop-color="#f3b6bb"/><stop offset="0.58" stop-color="#f5c8cc"/><stop offset="0.62" stop-color="#f9e3e5"/><stop offset="0.67" stop-color="#fefdff"/><stop offset="0.71" stop-color="#d6d3ff"/><stop offset="0.75" stop-color="#aca5ff"/><stop offset="0.79" stop-color="#857aff"/><stop offset="0.83" stop-color="#5e50ff"/><stop offset="0.88" stop-color="#3726ff"/><stop offset="0.92" stop-color="#2613ff"/><stop offset="0.96" stop-color="#1d0aff"/><stop offset="1" stop-color="#1400ff"/></linearGradient>
<linearGradient id="g187" x1="0" y1="0" x2="0" y2="1"><stop offset="0" stop-color="#ff211b"/><stop offset="0.04" stop-color="#fe2522"/><stop offset="0.08" stop-color="#fe2929"/><stop offset="0.12" stop-color="#fe2e30"/><stop offset="0.17" stop-color="#fd3237"/><stop offset="0.21" stop-color="#fb3d43"/><stop offset="0.25" stop-color="#f84c52"/><stop offset="0.29" stop-color="#f55a61"/><stop offset="0.33" stop-color="#f4686f"/><stop offset="0.38" stop-color="#f3777e"/><stop offset="0.42" stop-color="#f3878d"/><stop offset="0.46" stop-color="#f2979d"/><stop offset="0.5" stop-color="#f2a7ad"/><stop offset="0.54" stop-color="#f3b8bd"/><stop offset="0.58" stop-color="#f5cccf"/><stop offset="0.62" stop-color="#fae7e8"/><stop offset="0.67" stop-color="#f9f9ff"/><stop offset="0.71" stop-color="#cfcbff"/><stop offset="0.75" stop-color="#a59dff"/><stop offset="0.79" stop-color="#7d72ff"/><stop offset="0.83" stop-color="#5748ff"/><stop offset="0.88" stop-color="#301fff"/><stop offset="0.92" stop-color="#2310ff"/><stop offset="0.96" stop-color="#1c08ff"/><stop offset="1" stop-color="#1400ff"/></linearGradient>
<linearGradient id="g188" x1="0" y1="0" x2="0" y2="1"><stop offset="0" stop-color="#ff201b"/><stop offset="0.04" stop-color="#fe2522"/><stop offset="0.08" stop-color="#fe2929"/><stop offset="0.12" stop-color="#fe2e30"/><stop offset="0.17" stop-color="#fd3237"/><stop offset="0.21" stop-color="#fb3d43"/><stop offset="0.25" stop-color="#f84c52"/><stop offset="0.29" stop-color="#f55b62"/><stop offset="0.33" stop-color="#f46970"/><stop offset="0.38" stop-color="#f3777e"/><stop offset="0.42" stop-color="#f3878e"/><stop offset="0.46" stop-color="#f2979d"/><stop offset="0.5" stop-color="#f2a7ad"/><stop offset="0.54" stop-color="#f3b9be"/><stop offset="0.58" stop-color="#f5ced1"/><stop offset="0.62" stop-color="#fae9eb"/><stop offset="0.67" stop-color="#f6f5ff"/><stop offset="0.71" stop-color="#cbc6ff"/><stop offset="0.75" stop-color="#9f97ff"/><stop offset="0.79" stop-color="#776cff"/><stop offset="0.83" stop-color="#5243ff"/><stop offset="0.88" stop-color="#2c1aff"/><stop offset="0.92" stop-color="#220fff"/><stop offset="0.96" stop-color="#1b07ff"/><stop offset="1" stop-color="#1400ff"/></linearGradient>
<linearGradient id="g189" x1="0" y1="0" x2="0" y2="1"><stop offset="0" stop-color="#ff1c14"/><stop offset="0.05" stop-color="#fe2624"/><stop offset="0.1" stop-color="#fd3034"/><stop offset="0.15" stop-color="#fa444a"/><stop offset="0.2" stop-color="#f55c63"/><stop offset="0.25" stop-color="#f3747b"/><stop offset="0.3" stop-color="#f38f95"/><stop offset="0.35" stop-color="#f2a9af"/><stop offset="0.4" stop-color="#f4c6ca"/><stop offset="0.45" stop-color="#f9e3e5"/><stop offset="0.5" stop-color="#ffffff"/><stop offset="0.55" stop-color="#e7e5ff"/><stop offset="0.6" stop-color="#d0ccff"/><stop offset="0.65" stop-color="#b8b2ff"/><stop offset="0.7" stop-color="#a199ff"/><stop offset="0.75" stop-color="#8a80ff"/><stop offset="0.8" stop-color="#7266ff"/><stop offset="0.85" stop-color="#5b4dff"/><stop offset="0.9" stop-color="#4333ff"/><stop offset="0.95" stop-color="#2c1aff"/><stop offset="1" stop-color="#1400ff"/></linearGradient></defs>
<rect width="685" height="546" fill="#fff"/>
<rect x="40" y="15.4" width="3.1" height="139.1" fill="url(#g1)"/>
<rect x="42.5" y="15.4" width="3.1" height="139.1" fill="url(#g2)"/>
<rect x="45" y="15.4" width="3.1" height="139.1" fill="url(#g3)"/>
<rect x="47.5" y="15.4" width="3.1" height="139.1" fill="url(#g4)"/>
<rect x="50" y="15.4" width="3.1" height="139.1" fill="url(#g5)"/>
<rect x="52.5" y="15.4" width="3.1" height="139.1" fill="url(#g6)"/>
<rect x="55" y="15.4" width="3.1" height="139.1" fill="url(#g7)"/>
<rect x="57.5" y="15.4" width="3.1" height="139.1" fill="url(#g8)"/>
<rect x="60" y="15.4" width="3.1" height="139.1" fill="url(#g9)"/>
<rect x="62.5" y="15.4" width="3.1" height="139.1" fill="url(#g10)"/>
<rect x="65" y="15.4" width="3.1" height="139.1" fill="url(#g11)"/>
<rect x="67.5" y="15.4" width="3.1" height="139.1" fill="url(#g12)"/>
<rect x="70" y="15.4" width="3.1" height="139.1" fill="url(#g13)"/>
<rect x="72.5" y="15.4" width="3.1" height="139.1" fill="url(#g14)"/>
<rect x="75" y="15.4" width="3.1" height="139.1" fill="url(#g15)"/>
<rect x="77.5" y="15.4" width="3.1" height="139.1" fill="url(#g16)"/>
<rect x="80" y="15.4" width="3.1" height="139.1" fill="url(#g17)"/>
<rect x="82.5" y="15.4" width="3.1" height="139.1" fill="url(#g18)"/>
<rect x="85" y="15.4" width="3.1" height="139.1" fill="url(#g19)"/>
<rect x="87.5" y="15.4" width="3.1" height="139.1" fill="url(#g20)"/>
<rect x="90" y="15.4" width="3.1" height="139.1" fill="url(#g21)"/>
<rect x="92.5" y="15.4" width="3.1" height="139.1" fill="url(#g22)"/>
<rect x="95" y="15.4" width="3.1" height="139.1" fill="url(#g23)"/>
<rect x="97.5" y="15.4" width="3.1" height="139.1" fill="url(#g24)"/>
<rect x="100" y="15.4" width="3.1" height="139.1" fill="url(#g25)"/>
<rect x="102.5" y="15.4" width="3.1" height="139.1" fill="url(#g26)"/>
<rect x="105" y="15.4" width="3.1" height="139.1" fill="url(#g27)"/>
<rect x="107.5" y="15.4" width="3.1" height="139.1" fill="url(#g28)"/>
<rect x="110" y="15.4" width="3.1" height="139.1" fill="url(#g29)"/>
<rect x="112.5" y="15.4" width="3.1" height="139.1" fill="url(#g30)"/>
<rect x="115" y="15.4" width="3.1" height="139.1" fill="url(#g31)"/>
<rect x="117.5" y="15.4" width="3.1" height="139.1" fill="url(#g32)"/>
<rect x="120" y="15.4" width="3.1" height="139.1" fill="url(#g33)"/>
<rect x="122.5" y="15.4" width="3.1" height="139.1" fill="url(#g34)"/>
<rect x="125" y="15.4" width="3.1" height="139.1" fill="url(#g35)"/>
<rect x="127.5" y="15.4" width="3.1" height="139.1" fill="url(#g36)"/>
<rect x="130" y="15.4" width="3.1" height="139.1" fill="url(#g37)"/>
<rect x="132.5" y="15.4" width="3.1" height="139.1" fill="url(#g38)"/>
<rect x="135" y="15.4" width="3.1" height="139.1" fill="url(#g39)"/>
<rect x="137.5" y="15.4" width="3.1" height="139.1" fill="url(#g40)"/>
<rect x="140" y="15.4" width="3.1" height="139.1" fill="url(#g41)"/>
<rect x="142.5" y="15.4" width="3.1" height="139.1" fill="url(#g42)"/>
<rect x="145" y="15.4" width="3.1" height="139.1" fill="url(#g43)"/>
<rect x="147.5" y="15.4" width="3.1" height="139.1" fill="url(#g44)"/>
<rect x="150" y="15.4" width="3.1" height="139.1" fill="url(#g45)"/>
<rect x="152.5" y="15.4" width="3.1" height="139.1" fill="url(#g46)"/>
<rect x="155" y="15.4" width="3.1" height="139.1" fill="url(#g47)"/>
<rect x="157.5" y="15.4" width="3.1" height="139.1" fill="url(#g48)"/>
<rect x="160" y="15.4" width="3.1" height="139.1" fill="url(#g49)"/>
<rect x="162.5" y="15.4" width="3.1" height="139.1" fill="url(#g50)"/>
<rect x="165" y="15.4" width="3.1" height="139.1" fill="url(#g51)"/>
<rect x="167.5" y="15.4" width="3.1" height="139.1" fill="url(#g52)"/>
<rect x="170" y="15.4" width="3.1" height="139.1" fill="url(#g53)"/>
<rect x="172.5" y="15.4" width="3.1" height="139.1" fill="url(#g54)"/>
<rect x="175" y="15.4" width="3.1" height="139.1" fill="url(#g55)"/>
<rect x="177.5" y="15.4" width="3.1" height="139.1" fill="url(#g56)"/>
<rect x="180" y="15.4" width="3.1" height="139.1" fill="url(#g57)"/>
<rect x="182.5" y="15.4" width="3.1" height="139.1" fill="url(#g58)"/>
<rect x="185" y="15.4" width="3.1" height="139.1" fill="url(#g59)"/>
<rect x="187.5" y="15.4" width="3.1" height="139.1" fill="url(#g60)"/>
<rect x="190" y="15.4" width="2" height="139.1" fill="url(#g61)"/>
<line x1="39.4" y1="15.4" x2="192.4" y2="15.4" stroke="rgba(0,0,0,0.6)" stroke-width="0.9"/>
<line x1="192" y1="15.4" x2="192" y2="154.5" stroke="#8a8a8a" stroke-width="0.9"/>
<line x1="39.7" y1="15.4" x2="39.7" y2="154.8" stroke="#9a9a9a" stroke-width="0.8"/>
<line x1="39.4" y1="154.7" x2="192.4" y2="154.7" stroke="rgba(0,0,0,0.4)" stroke-width="0.8"/>
<line x1="37" y1="154.5" x2="40" y2="154.5" stroke="#222" stroke-width="1"/>
<text x="36" y="158.3" font-size="10.8" text-anchor="end" fill="#000">1.8</text>
<line x1="37" y1="123.75" x2="40" y2="123.75" stroke="#222" stroke-width="1"/>
<text x="36" y="127.55" font-size="10.8" text-anchor="end" fill="#000">1.9</text>
<line x1="37" y1="93" x2="40" y2="93" stroke="#222" stroke-width="1"/>
<text x="36" y="96.8" font-size="10.8" text-anchor="end" fill="#000">2.0</text>
<line x1="37" y1="62.25" x2="40" y2="62.25" stroke="#222" stroke-width="1"/>
<text x="36" y="66.05" font-size="10.8" text-anchor="end" fill="#000">2.1</text>
<line x1="37" y1="31.5" x2="40" y2="31.5" stroke="#222" stroke-width="1"/>
<text x="36" y="35.3" font-size="10.8" text-anchor="end" fill="#000">2.2</text>
<line x1="40" y1="154.5" x2="40" y2="157.5" stroke="#222" stroke-width="1"/>
<line x1="90.5" y1="154.5" x2="90.5" y2="157.5" stroke="#222" stroke-width="1"/>
<line x1="141.3" y1="154.5" x2="141.3" y2="157.5" stroke="#222" stroke-width="1"/>
<line x1="192" y1="154.5" x2="192" y2="157.5" stroke="#222" stroke-width="1"/>
<text x="32.3" y="168.7" font-size="11.3" text-anchor="start" fill="#000">-180</text>
<text x="55.11" y="164.63" font-size="7.91" text-anchor="start" fill="#000" font-style="italic">0-</text>
<text x="83.2" y="168.7" font-size="11.3" text-anchor="start" fill="#000">-120</text>
<text x="106.01" y="164.63" font-size="7.91" text-anchor="start" fill="#000" font-style="italic">0-</text>
<text x="135" y="168.7" font-size="11.3" text-anchor="start" fill="#000">-60</text>
<text x="151.53" y="164.63" font-size="7.91" text-anchor="start" fill="#000" font-style="italic">0-</text>
<text x="191.8" y="168.7" font-size="11.3" text-anchor="middle" fill="#000">0</text>
<text x="82.4" y="185.2" font-size="12" text-anchor="start" fill="#000">poling</text>
<text x="116.4" y="185.2" font-size="12" text-anchor="start" fill="#000" font-style="italic">V</text>
<text x="124.8" y="188.56" font-size="8.64" text-anchor="start" fill="#000">G</text>
<text x="127.2" y="180.04" font-size="8.64" text-anchor="start" fill="#000" font-style="italic">0-</text>
<text x="141.4" y="185.2" font-size="12" text-anchor="start" fill="#000">(V)</text>
<text transform="translate(12,84.5) rotate(-90)" font-size="11.5" text-anchor="middle"><tspan font-style="italic">T</tspan> (K)</text>
<text x="6.2" y="14.7" font-size="19" text-anchor="start" fill="#000">a</text>
<text x="45.5" y="28.5" font-size="11.5" text-anchor="start" fill="#000">S2_A#</text>
<rect x="197" y="15.3" width="7.2" height="139.9" fill="url(#g62)" stroke="#555" stroke-width="0.6"/>
<text x="208.5" y="159" font-size="10.8" text-anchor="start" fill="#000">0.0</text>
<text x="208.5" y="115.95" font-size="10.8" text-anchor="start" fill="#000">0.4</text>
<text x="208.5" y="72.91" font-size="10.8" text-anchor="start" fill="#000">0.8</text>
<text x="208.5" y="29.86" font-size="10.8" text-anchor="start" fill="#000">1.2</text>
<text x="171.5" y="11" font-size="10.8"><tspan font-style="italic">R</tspan></text>
<text x="178.5" y="13.5" font-size="7.5" text-anchor="start" fill="#000">s</text>
<text x="182.5" y="11" font-size="10.8" text-anchor="start" fill="#000">(kΩ/sq)</text>
<rect x="272" y="15.3" width="3.1" height="139.2" fill="url(#g63)"/>
<rect x="274.5" y="15.3" width="3.1" height="139.2" fill="url(#g64)"/>
<rect x="277" y="15.3" width="3.1" height="139.2" fill="url(#g65)"/>
<rect x="279.5" y="15.3" width="3.1" height="139.2" fill="url(#g66)"/>
<rect x="282" y="15.3" width="3.1" height="139.2" fill="url(#g67)"/>
<rect x="284.5" y="15.3" width="3.1" height="139.2" fill="url(#g68)"/>
<rect x="287" y="15.3" width="3.1" height="139.2" fill="url(#g69)"/>
<rect x="289.5" y="15.3" width="3.1" height="139.2" fill="url(#g70)"/>
<rect x="292" y="15.3" width="3.1" height="139.2" fill="url(#g71)"/>
<rect x="294.5" y="15.3" width="3.1" height="139.2" fill="url(#g72)"/>
<rect x="297" y="15.3" width="3.1" height="139.2" fill="url(#g73)"/>
<rect x="299.5" y="15.3" width="3.1" height="139.2" fill="url(#g74)"/>
<rect x="302" y="15.3" width="3.1" height="139.2" fill="url(#g75)"/>
<rect x="304.5" y="15.3" width="3.1" height="139.2" fill="url(#g76)"/>
<rect x="307" y="15.3" width="3.1" height="139.2" fill="url(#g77)"/>
<rect x="309.5" y="15.3" width="3.1" height="139.2" fill="url(#g78)"/>
<rect x="312" y="15.3" width="3.1" height="139.2" fill="url(#g79)"/>
<rect x="314.5" y="15.3" width="3.1" height="139.2" fill="url(#g80)"/>
<rect x="317" y="15.3" width="3.1" height="139.2" fill="url(#g81)"/>
<rect x="319.5" y="15.3" width="3.1" height="139.2" fill="url(#g82)"/>
<rect x="322" y="15.3" width="3.1" height="139.2" fill="url(#g83)"/>
<rect x="324.5" y="15.3" width="3.1" height="139.2" fill="url(#g84)"/>
<rect x="327" y="15.3" width="3.1" height="139.2" fill="url(#g85)"/>
<rect x="329.5" y="15.3" width="3.1" height="139.2" fill="url(#g86)"/>
<rect x="332" y="15.3" width="3.1" height="139.2" fill="url(#g87)"/>
<rect x="334.5" y="15.3" width="3.1" height="139.2" fill="url(#g88)"/>
<rect x="337" y="15.3" width="3.1" height="139.2" fill="url(#g89)"/>
<rect x="339.5" y="15.3" width="3.1" height="139.2" fill="url(#g90)"/>
<rect x="342" y="15.3" width="3.1" height="139.2" fill="url(#g91)"/>
<rect x="344.5" y="15.3" width="3.1" height="139.2" fill="url(#g92)"/>
<rect x="347" y="15.3" width="3.1" height="139.2" fill="url(#g93)"/>
<rect x="349.5" y="15.3" width="3.1" height="139.2" fill="url(#g94)"/>
<rect x="352" y="15.3" width="3.1" height="139.2" fill="url(#g95)"/>
<rect x="354.5" y="15.3" width="3.1" height="139.2" fill="url(#g96)"/>
<rect x="357" y="15.3" width="3.1" height="139.2" fill="url(#g97)"/>
<rect x="359.5" y="15.3" width="3.1" height="139.2" fill="url(#g98)"/>
<rect x="362" y="15.3" width="3.1" height="139.2" fill="url(#g99)"/>
<rect x="364.5" y="15.3" width="3.1" height="139.2" fill="url(#g100)"/>
<rect x="367" y="15.3" width="3.1" height="139.2" fill="url(#g101)"/>
<rect x="369.5" y="15.3" width="3.1" height="139.2" fill="url(#g102)"/>
<rect x="372" y="15.3" width="3.1" height="139.2" fill="url(#g103)"/>
<rect x="374.5" y="15.3" width="3.1" height="139.2" fill="url(#g104)"/>
<rect x="377" y="15.3" width="3.1" height="139.2" fill="url(#g105)"/>
<rect x="379.5" y="15.3" width="3.1" height="139.2" fill="url(#g106)"/>
<rect x="382" y="15.3" width="3.1" height="139.2" fill="url(#g107)"/>
<rect x="384.5" y="15.3" width="3.1" height="139.2" fill="url(#g108)"/>
<rect x="387" y="15.3" width="3.1" height="139.2" fill="url(#g109)"/>
<rect x="389.5" y="15.3" width="3.1" height="139.2" fill="url(#g110)"/>
<rect x="392" y="15.3" width="3.1" height="139.2" fill="url(#g111)"/>
<rect x="394.5" y="15.3" width="3.1" height="139.2" fill="url(#g112)"/>
<rect x="397" y="15.3" width="3.1" height="139.2" fill="url(#g113)"/>
<rect x="399.5" y="15.3" width="3.1" height="139.2" fill="url(#g114)"/>
<rect x="402" y="15.3" width="3.1" height="139.2" fill="url(#g115)"/>
<rect x="404.5" y="15.3" width="3.1" height="139.2" fill="url(#g116)"/>
<rect x="407" y="15.3" width="3.1" height="139.2" fill="url(#g117)"/>
<rect x="409.5" y="15.3" width="3.1" height="139.2" fill="url(#g118)"/>
<rect x="412" y="15.3" width="3.1" height="139.2" fill="url(#g119)"/>
<rect x="414.5" y="15.3" width="3.1" height="139.2" fill="url(#g120)"/>
<rect x="417" y="15.3" width="3.1" height="139.2" fill="url(#g121)"/>
<rect x="419.5" y="15.3" width="3.1" height="139.2" fill="url(#g122)"/>
<rect x="422" y="15.3" width="3.1" height="139.2" fill="url(#g123)"/>
<rect x="424.5" y="15.3" width="0.5" height="139.2" fill="url(#g124)"/>
<line x1="271.4" y1="15.3" x2="425.4" y2="15.3" stroke="rgba(0,0,0,0.6)" stroke-width="0.9"/>
<line x1="425" y1="15.3" x2="425" y2="154.5" stroke="#8a8a8a" stroke-width="0.9"/>
<line x1="271.7" y1="15.3" x2="271.7" y2="154.8" stroke="#9a9a9a" stroke-width="0.8"/>
<line x1="271.4" y1="154.7" x2="425.4" y2="154.7" stroke="rgba(0,0,0,0.4)" stroke-width="0.8"/>
<line x1="269" y1="154.5" x2="272" y2="154.5" stroke="#222" stroke-width="1"/>
<text x="268" y="158.3" font-size="10.8" text-anchor="end" fill="#000">1.8</text>
<line x1="269" y1="123.75" x2="272" y2="123.75" stroke="#222" stroke-width="1"/>
<text x="268" y="127.55" font-size="10.8" text-anchor="end" fill="#000">1.9</text>
<line x1="269" y1="93" x2="272" y2="93" stroke="#222" stroke-width="1"/>
<text x="268" y="96.8" font-size="10.8" text-anchor="end" fill="#000">2.0</text>
<line x1="269" y1="62.25" x2="272" y2="62.25" stroke="#222" stroke-width="1"/>
<text x="268" y="66.05" font-size="10.8" text-anchor="end" fill="#000">2.1</text>
<line x1="269" y1="31.5" x2="272" y2="31.5" stroke="#222" stroke-width="1"/>
<text x="268" y="35.3" font-size="10.8" text-anchor="end" fill="#000">2.2</text>
<line x1="272" y1="154.5" x2="272" y2="157.5" stroke="#222" stroke-width="1"/>
<line x1="323.3" y1="154.5" x2="323.3" y2="157.5" stroke="#222" stroke-width="1"/>
<line x1="374" y1="154.5" x2="374" y2="157.5" stroke="#222" stroke-width="1"/>
<line x1="425" y1="154.5" x2="425" y2="157.5" stroke="#222" stroke-width="1"/>
<text x="272" y="168.7" font-size="11.3" text-anchor="middle" fill="#000">0</text>
<text x="313" y="168.7" font-size="11.3" text-anchor="start" fill="#000">60</text>
<text x="325.77" y="164.63" font-size="7.91" text-anchor="start" fill="#000" font-style="italic">0+</text>
<text x="361.8" y="168.7" font-size="11.3" text-anchor="start" fill="#000">120</text>
<text x="380.85" y="164.63" font-size="7.91" text-anchor="start" fill="#000" font-style="italic">0+</text>
<text x="408.3" y="168.7" font-size="11.3" text-anchor="start" fill="#000">180</text>
<text x="427.35" y="164.63" font-size="7.91" text-anchor="start" fill="#000" font-style="italic">0+</text>
<text x="313.7" y="185.2" font-size="12" text-anchor="start" fill="#000">poling</text>
<text x="348.4" y="185.2" font-size="12" text-anchor="start" fill="#000" font-style="italic">V</text>
<text x="356.8" y="188.56" font-size="8.64" text-anchor="start" fill="#000">G</text>
<text x="359.2" y="180.04" font-size="8.64" text-anchor="start" fill="#000" font-style="italic">0+</text>
<text x="375.5" y="185.2" font-size="12" text-anchor="start" fill="#000">(V)</text>
<text transform="translate(245.8,84.5) rotate(-90)" font-size="11.5" text-anchor="middle"><tspan font-style="italic">T</tspan> (K)</text>
<text x="236.6" y="14.7" font-size="19" text-anchor="start" fill="#000">b</text>
<text x="277.5" y="28.5" font-size="11.5" text-anchor="start" fill="#000">S2_B#</text>
<rect x="428.3" y="15.3" width="6.5" height="139.2" fill="url(#g125)" stroke="#555" stroke-width="0.6"/>
<text x="439" y="158.3" font-size="10.8" text-anchor="start" fill="#000">0.0</text>
<text x="439" y="115.47" font-size="10.8" text-anchor="start" fill="#000">0.4</text>
<text x="439" y="72.64" font-size="10.8" text-anchor="start" fill="#000">0.8</text>
<text x="439" y="29.81" font-size="10.8" text-anchor="start" fill="#000">1.2</text>
<text x="400.8" y="11" font-size="10.8"><tspan font-style="italic">R</tspan></text>
<text x="407.8" y="13.5" font-size="7.5" text-anchor="start" fill="#000">s</text>
<text x="411.8" y="11" font-size="10.8" text-anchor="start" fill="#000">(kΩ/sq)</text>
<rect x="499.8" y="15.2" width="3.6" height="139.6" fill="url(#g126)"/>
<rect x="502.8" y="15.2" width="3.6" height="139.6" fill="url(#g127)"/>
<rect x="505.8" y="15.2" width="3.6" height="139.6" fill="url(#g128)"/>
<rect x="508.8" y="15.2" width="3.6" height="139.6" fill="url(#g129)"/>
<rect x="511.8" y="15.2" width="3.6" height="139.6" fill="url(#g130)"/>
<rect x="514.8" y="15.2" width="3.6" height="139.6" fill="url(#g131)"/>
<rect x="517.8" y="15.2" width="3.6" height="139.6" fill="url(#g132)"/>
<rect x="520.8" y="15.2" width="3.6" height="139.6" fill="url(#g133)"/>
<rect x="523.8" y="15.2" width="3.6" height="139.6" fill="url(#g134)"/>
<rect x="526.8" y="15.2" width="3.6" height="139.6" fill="url(#g135)"/>
<rect x="529.8" y="15.2" width="3.6" height="139.6" fill="url(#g136)"/>
<rect x="532.8" y="15.2" width="3.6" height="139.6" fill="url(#g137)"/>
<rect x="535.8" y="15.2" width="3.6" height="139.6" fill="url(#g138)"/>
<rect x="538.8" y="15.2" width="3.6" height="139.6" fill="url(#g139)"/>
<rect x="541.8" y="15.2" width="3.6" height="139.6" fill="url(#g140)"/>
<rect x="544.8" y="15.2" width="3.6" height="139.6" fill="url(#g141)"/>
<rect x="547.8" y="15.2" width="3.6" height="139.6" fill="url(#g142)"/>
<rect x="550.8" y="15.2" width="3.6" height="139.6" fill="url(#g143)"/>
<rect x="553.8" y="15.2" width="3.6" height="139.6" fill="url(#g144)"/>
<rect x="556.8" y="15.2" width="3.6" height="139.6" fill="url(#g145)"/>
<rect x="559.8" y="15.2" width="3.6" height="139.6" fill="url(#g146)"/>
<rect x="562.8" y="15.2" width="3.6" height="139.6" fill="url(#g147)"/>
<rect x="565.8" y="15.2" width="3.6" height="139.6" fill="url(#g148)"/>
<rect x="568.8" y="15.2" width="3.6" height="139.6" fill="url(#g149)"/>
<rect x="571.8" y="15.2" width="3.6" height="139.6" fill="url(#g150)"/>
<rect x="574.8" y="15.2" width="3.6" height="139.6" fill="url(#g151)"/>
<rect x="577.8" y="15.2" width="3.6" height="139.6" fill="url(#g152)"/>
<rect x="580.8" y="15.2" width="3.6" height="139.6" fill="url(#g153)"/>
<rect x="583.8" y="15.2" width="3.6" height="139.6" fill="url(#g154)"/>
<rect x="586.8" y="15.2" width="2" height="139.6" fill="url(#g155)"/>
<rect x="588.2" y="15.2" width="2" height="139.6" fill="url(#g156)"/>
<rect x="589.6" y="15.2" width="2" height="139.6" fill="url(#g157)"/>
<rect x="591" y="15.2" width="2" height="139.6" fill="url(#g158)"/>
<rect x="592.4" y="15.2" width="2" height="139.6" fill="url(#g159)"/>
<rect x="593.8" y="15.2" width="2" height="139.6" fill="url(#g160)"/>
<rect x="595.2" y="15.2" width="2" height="139.6" fill="url(#g161)"/>
<rect x="596.6" y="15.2" width="2" height="139.6" fill="url(#g162)"/>
<rect x="598" y="15.2" width="2" height="139.6" fill="url(#g163)"/>
<rect x="599.4" y="15.2" width="2" height="139.6" fill="url(#g164)"/>
<rect x="600.8" y="15.2" width="2" height="139.6" fill="url(#g165)"/>
<rect x="602.2" y="15.2" width="2" height="139.6" fill="url(#g166)"/>
<rect x="603.6" y="15.2" width="2" height="139.6" fill="url(#g167)"/>
<rect x="605" y="15.2" width="2" height="139.6" fill="url(#g168)"/>
<rect x="606.4" y="15.2" width="2" height="139.6" fill="url(#g169)"/>
<rect x="607.8" y="15.2" width="2" height="139.6" fill="url(#g170)"/>
<rect x="609.2" y="15.2" width="2" height="139.6" fill="url(#g171)"/>
<rect x="610.6" y="15.2" width="2" height="139.6" fill="url(#g172)"/>
<rect x="612" y="15.2" width="2" height="139.6" fill="url(#g173)"/>
<rect x="613.4" y="15.2" width="2" height="139.6" fill="url(#g174)"/>
<rect x="614.8" y="15.2" width="2" height="139.6" fill="url(#g175)"/>
<rect x="616.2" y="15.2" width="3.6" height="139.6" fill="url(#g176)"/>
<rect x="619.2" y="15.2" width="3.6" height="139.6" fill="url(#g177)"/>
<rect x="622.2" y="15.2" width="3.6" height="139.6" fill="url(#g178)"/>
<rect x="625.2" y="15.2" width="3.6" height="139.6" fill="url(#g179)"/>
<rect x="628.2" y="15.2" width="3.6" height="139.6" fill="url(#g180)"/>
<rect x="631.2" y="15.2" width="3.6" height="139.6" fill="url(#g181)"/>
<rect x="634.2" y="15.2" width="3.6" height="139.6" fill="url(#g182)"/>
<rect x="637.2" y="15.2" width="3.6" height="139.6" fill="url(#g183)"/>
<rect x="640.2" y="15.2" width="3.6" height="139.6" fill="url(#g184)"/>
<rect x="643.2" y="15.2" width="3.6" height="139.6" fill="url(#g185)"/>
<rect x="646.2" y="15.2" width="3.6" height="139.6" fill="url(#g186)"/>
<rect x="649.2" y="15.2" width="3.6" height="139.6" fill="url(#g187)"/>
<rect x="652.2" y="15.2" width="1" height="139.6" fill="url(#g188)"/>
<line x1="499.2" y1="15.2" x2="653.6" y2="15.2" stroke="rgba(0,0,0,0.6)" stroke-width="0.9"/>
<line x1="653.2" y1="15.2" x2="653.2" y2="154.8" stroke="#8a8a8a" stroke-width="0.9"/>
<line x1="499.5" y1="15.2" x2="499.5" y2="155.1" stroke="#9a9a9a" stroke-width="0.8"/>
<line x1="499.2" y1="155" x2="653.6" y2="155" stroke="rgba(0,0,0,0.4)" stroke-width="0.8"/>
<line x1="496.8" y1="155" x2="499.8" y2="155" stroke="#222" stroke-width="1"/>
<text x="496" y="158.8" font-size="10.8" text-anchor="end" fill="#000">1.8</text>
<line x1="496.8" y1="115" x2="499.8" y2="115" stroke="#222" stroke-width="1"/>
<text x="496" y="118.8" font-size="10.8" text-anchor="end" fill="#000">2.0</text>
<line x1="496.8" y1="75" x2="499.8" y2="75" stroke="#222" stroke-width="1"/>
<text x="496" y="78.8" font-size="10.8" text-anchor="end" fill="#000">2.2</text>
<line x1="496.8" y1="35" x2="499.8" y2="35" stroke="#222" stroke-width="1"/>
<text x="496" y="38.8" font-size="10.8" text-anchor="end" fill="#000">2.4</text>
<line x1="498" y1="135" x2="499.8" y2="135" stroke="#222" stroke-width="0.8"/>
<line x1="498" y1="95" x2="499.8" y2="95" stroke="#222" stroke-width="0.8"/>
<line x1="498" y1="55" x2="499.8" y2="55" stroke="#222" stroke-width="0.8"/>
<line x1="543.5" y1="154.8" x2="543.5" y2="157.8" stroke="#222" stroke-width="1"/>
<line x1="627.7" y1="154.8" x2="627.7" y2="157.8" stroke="#222" stroke-width="1"/>
<line x1="503.33" y1="154.8" x2="503.33" y2="156.6" stroke="#222" stroke-width="0.8"/>
<line x1="518.15" y1="154.8" x2="518.15" y2="156.6" stroke="#222" stroke-width="0.8"/>
<line x1="547.35" y1="154.8" x2="547.35" y2="156.6" stroke="#222" stroke-width="0.8"/>
<line x1="551.66" y1="154.8" x2="551.66" y2="156.6" stroke="#222" stroke-width="0.8"/>
<line x1="556.54" y1="154.8" x2="556.54" y2="156.6" stroke="#222" stroke-width="0.8"/>
<line x1="562.18" y1="154.8" x2="562.18" y2="156.6" stroke="#222" stroke-width="0.8"/>
<line x1="568.85" y1="154.8" x2="568.85" y2="156.6" stroke="#222" stroke-width="0.8"/>
<line x1="577.01" y1="154.8" x2="577.01" y2="156.6" stroke="#222" stroke-width="0.8"/>
<line x1="587.53" y1="154.8" x2="587.53" y2="156.6" stroke="#222" stroke-width="0.8"/>
<line x1="602.35" y1="154.8" x2="602.35" y2="156.6" stroke="#222" stroke-width="0.8"/>
<line x1="631.55" y1="154.8" x2="631.55" y2="156.6" stroke="#222" stroke-width="0.8"/>
<line x1="635.86" y1="154.8" x2="635.86" y2="156.6" stroke="#222" stroke-width="0.8"/>
<line x1="640.74" y1="154.8" x2="640.74" y2="156.6" stroke="#222" stroke-width="0.8"/>
<line x1="646.38" y1="154.8" x2="646.38" y2="156.6" stroke="#222" stroke-width="0.8"/>
<text x="543.5" y="168.7" font-size="11.3" text-anchor="middle" fill="#000">100</text>
<text x="627.7" y="168.7" font-size="11.3" text-anchor="middle" fill="#000">10</text>
<text x="548.8" y="185" font-size="12">poling <tspan font-style="italic">T</tspan> (K)</text>
<text transform="translate(472,88) rotate(-90)" font-size="11.5" text-anchor="middle"><tspan font-style="italic">T</tspan> (K)</text>
<text x="469.2" y="14.9" font-size="19" text-anchor="start" fill="#000">e</text>
<text x="505" y="29.5" font-size="11.5" text-anchor="start" fill="#000">S5#</text>
<text x="580.3" y="30.8" font-size="12" text-anchor="start" fill="#000" font-style="italic">V</text>
<text x="587.5" y="34.16" font-size="8.64" text-anchor="start" fill="#000">G</text>
<text x="589.9" y="25.64" font-size="8.64" text-anchor="start" fill="#000" font-style="italic">0-</text>
<text x="601.5" y="30.8" font-size="12" text-anchor="start" fill="#000">=</text>
<text x="611.2" y="30.8" font-size="12" text-anchor="start" fill="#000">-150 V</text>
<line x1="579.2" y1="121.3" x2="585.4" y2="141.6" stroke="#111" stroke-width="0.8"/>
<line x1="585.4" y1="141.6" x2="586.14" y2="137.19" stroke="#111" stroke-width="0.8"/>
<line x1="585.4" y1="141.6" x2="582.32" y2="138.36" stroke="#111" stroke-width="0.8"/>
<rect x="657" y="15.2" width="7" height="138.8" fill="url(#g189)" stroke="#555" stroke-width="0.6"/>
<text x="668.3" y="157.8" font-size="10.8" text-anchor="start" fill="#000">0.0</text>
<text x="668.3" y="117.45" font-size="10.8" text-anchor="start" fill="#000">0.5</text>
<text x="668.3" y="77.1" font-size="10.8" text-anchor="start" fill="#000">1.0</text>
<text x="668.3" y="36.75" font-size="10.8" text-anchor="start" fill="#000">1.5</text>
<text x="630" y="10.5" font-size="10.8"><tspan font-style="italic">R</tspan></text>
<text x="637" y="13" font-size="7.5" text-anchor="start" fill="#000">s</text>
<text x="641" y="10.5" font-size="10.8" text-anchor="start" fill="#000">(kΩ/sq)</text>
<line x1="39.6" y1="205.5" x2="196" y2="205.5" stroke="#555" stroke-width="1.2"/>
<line x1="39.6" y1="205.5" x2="39.6" y2="326" stroke="#222" stroke-width="1.2"/>
<line x1="39.6" y1="326" x2="196" y2="326" stroke="#222" stroke-width="1.2"/>
<line x1="196" y1="205.5" x2="196" y2="326" stroke="#3c3cff" stroke-width="1.2"/>
<line x1="39.6" y1="304.3" x2="42.6" y2="304.3" stroke="#222" stroke-width="1"/>
<text x="37.5" y="307.9" font-size="10" text-anchor="end" fill="#000">5</text>
<line x1="39.6" y1="279.6" x2="42.6" y2="279.6" stroke="#222" stroke-width="1"/>
<text x="37.5" y="283.2" font-size="10" text-anchor="end" fill="#000">6</text>
<line x1="39.6" y1="254.9" x2="42.6" y2="254.9" stroke="#222" stroke-width="1"/>
<text x="37.5" y="258.5" font-size="10" text-anchor="end" fill="#000">7</text>
<line x1="39.6" y1="230.2" x2="42.6" y2="230.2" stroke="#222" stroke-width="1"/>
<text x="37.5" y="233.8" font-size="10" text-anchor="end" fill="#000">8</text>
<line x1="39.6" y1="205.5" x2="42.6" y2="205.5" stroke="#222" stroke-width="1"/>
<text x="37.5" y="209.1" font-size="10" text-anchor="end" fill="#000">9</text>
<line x1="39.6" y1="316.65" x2="41.4" y2="316.65" stroke="#222" stroke-width="0.8"/>
<line x1="39.6" y1="291.95" x2="41.4" y2="291.95" stroke="#222" stroke-width="0.8"/>
<line x1="39.6" y1="267.25" x2="41.4" y2="267.25" stroke="#222" stroke-width="0.8"/>
<line x1="39.6" y1="242.55" x2="41.4" y2="242.55" stroke="#222" stroke-width="0.8"/>
<line x1="39.6" y1="217.85" x2="41.4" y2="217.85" stroke="#222" stroke-width="0.8"/>
<line x1="193" y1="321.1" x2="196" y2="321.1" stroke="#3c3cff" stroke-width="1"/>
<text x="198.7" y="324.8" font-size="10.3" text-anchor="start" fill="#3c3cff">50</text>
<line x1="193" y1="295.48" x2="196" y2="295.48" stroke="#3c3cff" stroke-width="1"/>
<text x="198.7" y="299.18" font-size="10.3" text-anchor="start" fill="#3c3cff">60</text>
<line x1="193" y1="269.85" x2="196" y2="269.85" stroke="#3c3cff" stroke-width="1"/>
<text x="198.7" y="273.55" font-size="10.3" text-anchor="start" fill="#3c3cff">70</text>
<line x1="193" y1="244.22" x2="196" y2="244.22" stroke="#3c3cff" stroke-width="1"/>
<text x="198.7" y="247.92" font-size="10.3" text-anchor="start" fill="#3c3cff">80</text>
<line x1="193" y1="218.6" x2="196" y2="218.6" stroke="#3c3cff" stroke-width="1"/>
<text x="198.7" y="222.3" font-size="10.3" text-anchor="start" fill="#3c3cff">90</text>
<line x1="194.2" y1="308.29" x2="196" y2="308.29" stroke="#3c3cff" stroke-width="0.8"/>
<line x1="194.2" y1="282.66" x2="196" y2="282.66" stroke="#3c3cff" stroke-width="0.8"/>
<line x1="194.2" y1="257.04" x2="196" y2="257.04" stroke="#3c3cff" stroke-width="0.8"/>
<line x1="194.2" y1="231.41" x2="196" y2="231.41" stroke="#3c3cff" stroke-width="0.8"/>
<line x1="194.2" y1="205.79" x2="196" y2="205.79" stroke="#3c3cff" stroke-width="0.8"/>
<line x1="181.7" y1="205.5" x2="181.7" y2="326" stroke="#333" stroke-width="0.7" stroke-dasharray="2.5,2"/>
<line x1="53.5" y1="326" x2="53.5" y2="323" stroke="#222" stroke-width="1"/>
<line x1="96.24" y1="326" x2="96.24" y2="323" stroke="#222" stroke-width="1"/>
<line x1="138.97" y1="326" x2="138.97" y2="323" stroke="#222" stroke-width="1"/>
<line x1="181.7" y1="326" x2="181.7" y2="323" stroke="#222" stroke-width="1"/>
<line x1="74.87" y1="326" x2="74.87" y2="324.2" stroke="#222" stroke-width="0.8"/>
<line x1="117.6" y1="326" x2="117.6" y2="324.2" stroke="#222" stroke-width="0.8"/>
<line x1="160.33" y1="326" x2="160.33" y2="324.2" stroke="#222" stroke-width="0.8"/>
<polyline points="53.5,302 67.75,294.4 96.24,282.3 117.6,267.8 146.09,255 160.33,241.1 167.46,236 174.58,227.4 181.7,218.6" fill="none" stroke="#2323ff" stroke-width="0.8" stroke-linejoin="round"/>
<polyline points="53.5,260.5 67.75,262.7 96.24,263.8 146.09,272.4 160.33,277.9 167.46,277.5 174.58,280.5 181.7,282" fill="none" stroke="#111" stroke-width="0.8" stroke-linejoin="round"/>
<circle cx="53.5" cy="260.5" r="2.9" fill="url(#sph)"/>
<circle cx="67.75" cy="262.7" r="2.9" fill="url(#sph)"/>
<circle cx="96.24" cy="263.8" r="2.9" fill="url(#sph)"/>
<circle cx="117.6" cy="272.4" r="2.9" fill="url(#sph)"/>
<circle cx="146.09" cy="272.4" r="2.9" fill="url(#sph)"/>
<circle cx="160.33" cy="277.9" r="2.9" fill="url(#sph)"/>
<circle cx="167.46" cy="277.5" r="2.9" fill="url(#sph)"/>
<circle cx="174.58" cy="280.5" r="2.9" fill="url(#sph)"/>
<circle cx="181.7" cy="282" r="2.9" fill="url(#sph)"/>
<circle cx="53.5" cy="302" r="2.7" fill="#fff" stroke="#2323ff" stroke-width="1.15"/>
<circle cx="67.75" cy="294.4" r="2.7" fill="#fff" stroke="#2323ff" stroke-width="1.15"/>
<circle cx="96.24" cy="282.3" r="2.7" fill="#fff" stroke="#2323ff" stroke-width="1.15"/>
<circle cx="117.6" cy="267.8" r="2.7" fill="#fff" stroke="#2323ff" stroke-width="1.15"/>
<circle cx="146.09" cy="255" r="2.7" fill="#fff" stroke="#2323ff" stroke-width="1.15"/>
<circle cx="160.33" cy="241.1" r="2.7" fill="#fff" stroke="#2323ff" stroke-width="1.15"/>
<circle cx="167.46" cy="236" r="2.7" fill="#fff" stroke="#2323ff" stroke-width="1.15"/>
<circle cx="174.58" cy="227.4" r="2.7" fill="#fff" stroke="#2323ff" stroke-width="1.15"/>
<circle cx="181.7" cy="218.6" r="2.7" fill="#fff" stroke="#2323ff" stroke-width="1.15"/>
<line x1="59.5" y1="267.9" x2="45.8" y2="267.9" stroke="#888" stroke-width="1"/>
<line x1="45.8" y1="267.9" x2="50.3" y2="270.7" stroke="#888" stroke-width="1"/>
<line x1="45.8" y1="267.9" x2="50.3" y2="265.1" stroke="#888" stroke-width="1"/>
<line x1="182.8" y1="213.5" x2="193" y2="213.5" stroke="#3c3cff" stroke-width="1"/>
<line x1="193" y1="213.5" x2="188.5" y2="210.7" stroke="#3c3cff" stroke-width="1"/>
<line x1="193" y1="213.5" x2="188.5" y2="216.3" stroke="#3c3cff" stroke-width="1"/>
<text x="42.4" y="337.4" font-size="10.6" text-anchor="start" fill="#000">-180</text>
<text x="63.81" y="333.58" font-size="7.42" text-anchor="start" fill="#000" font-style="italic">0-</text>
<text x="87" y="337.4" font-size="10.6" text-anchor="start" fill="#000">-120</text>
<text x="108.41" y="333.58" font-size="7.42" text-anchor="start" fill="#000" font-style="italic">0-</text>
<text x="132.2" y="337.4" font-size="10.6" text-anchor="start" fill="#000">-60</text>
<text x="147.72" y="333.58" font-size="7.42" text-anchor="start" fill="#000" font-style="italic">0-</text>
<text x="181.7" y="337.4" font-size="10.6" text-anchor="middle" fill="#000">0</text>
<text x="80.6" y="353.9" font-size="11.4" text-anchor="start" fill="#000">poling</text>
<text x="115.4" y="353.9" font-size="11.4" text-anchor="start" fill="#000" font-style="italic">V</text>
<text x="123.38" y="357.09" font-size="8.21" text-anchor="start" fill="#000">G</text>
<text x="125.66" y="349" font-size="8.21" text-anchor="start" fill="#000" font-style="italic">0-</text>
<text x="139.2" y="353.9" font-size="11.4" text-anchor="start" fill="#000">(V)</text>
<text x="45.8" y="219" font-size="11.5" text-anchor="start" fill="#000">S2_A#</text>
<text x="5.9" y="200.1" font-size="19" text-anchor="start" fill="#000">c</text>
<g transform="translate(22,266.3) rotate(-90)"><text x="0" y="0" font-size="11.9" text-anchor="middle"><tspan font-style="italic">n</tspan><tspan font-size="8.3" dy="2.6">s</tspan><tspan dy="-2.6"> (×10</tspan><tspan font-size="8.3" dy="-4.2">13</tspan><tspan dy="4.2"> cm</tspan><tspan font-size="8.3" dy="-4.2">-2</tspan><tspan dy="4.2">)</tspan></text></g>
<g transform="translate(223.5,265.4) rotate(-90)"><text x="0" y="0" font-size="11.9" text-anchor="middle" fill="#3c3cff"><tspan font-style="italic">μ</tspan> (cm<tspan font-size="8.3" dy="-4.2">2</tspan><tspan dy="4.2"> V</tspan><tspan font-size="8.3" dy="-4.2">-1</tspan><tspan dy="4.2"> s</tspan><tspan font-size="8.3" dy="-4.2">-1</tspan><tspan dy="4.2">)</tspan></text></g>
<line x1="271.5" y1="205.5" x2="426.6" y2="205.5" stroke="#555" stroke-width="1.2"/>
<line x1="271.5" y1="205.5" x2="271.5" y2="325.8" stroke="#222" stroke-width="1.2"/>
<line x1="271.5" y1="325.8" x2="426.6" y2="325.8" stroke="#222" stroke-width="1.2"/>
<line x1="426.6" y1="205.5" x2="426.6" y2="325.8" stroke="#3c3cff" stroke-width="1.2"/>
<line x1="271.5" y1="304.3" x2="274.5" y2="304.3" stroke="#222" stroke-width="1"/>
<text x="269.2" y="307.9" font-size="10" text-anchor="end" fill="#000">5</text>
<line x1="271.5" y1="279.6" x2="274.5" y2="279.6" stroke="#222" stroke-width="1"/>
<text x="269.2" y="283.2" font-size="10" text-anchor="end" fill="#000">6</text>
<line x1="271.5" y1="254.9" x2="274.5" y2="254.9" stroke="#222" stroke-width="1"/>
<text x="269.2" y="258.5" font-size="10" text-anchor="end" fill="#000">7</text>
<line x1="271.5" y1="230.2" x2="274.5" y2="230.2" stroke="#222" stroke-width="1"/>
<text x="269.2" y="233.8" font-size="10" text-anchor="end" fill="#000">8</text>
<line x1="271.5" y1="205.5" x2="274.5" y2="205.5" stroke="#222" stroke-width="1"/>
<text x="269.2" y="209.1" font-size="10" text-anchor="end" fill="#000">9</text>
<line x1="271.5" y1="316.65" x2="273.3" y2="316.65" stroke="#222" stroke-width="0.8"/>
<line x1="271.5" y1="291.95" x2="273.3" y2="291.95" stroke="#222" stroke-width="0.8"/>
<line x1="271.5" y1="267.25" x2="273.3" y2="267.25" stroke="#222" stroke-width="0.8"/>
<line x1="271.5" y1="242.55" x2="273.3" y2="242.55" stroke="#222" stroke-width="0.8"/>
<line x1="271.5" y1="217.85" x2="273.3" y2="217.85" stroke="#222" stroke-width="0.8"/>
<line x1="423.6" y1="321.1" x2="426.6" y2="321.1" stroke="#3c3cff" stroke-width="1"/>
<text x="429.5" y="324.8" font-size="10.3" text-anchor="start" fill="#3c3cff">50</text>
<line x1="423.6" y1="295.48" x2="426.6" y2="295.48" stroke="#3c3cff" stroke-width="1"/>
<text x="429.5" y="299.18" font-size="10.3" text-anchor="start" fill="#3c3cff">60</text>
<line x1="423.6" y1="269.85" x2="426.6" y2="269.85" stroke="#3c3cff" stroke-width="1"/>
<text x="429.5" y="273.55" font-size="10.3" text-anchor="start" fill="#3c3cff">70</text>
<line x1="423.6" y1="244.22" x2="426.6" y2="244.22" stroke="#3c3cff" stroke-width="1"/>
<text x="429.5" y="247.92" font-size="10.3" text-anchor="start" fill="#3c3cff">80</text>
<line x1="423.6" y1="218.6" x2="426.6" y2="218.6" stroke="#3c3cff" stroke-width="1"/>
<text x="429.5" y="222.3" font-size="10.3" text-anchor="start" fill="#3c3cff">90</text>
<line x1="424.8" y1="308.29" x2="426.6" y2="308.29" stroke="#3c3cff" stroke-width="0.8"/>
<line x1="424.8" y1="282.66" x2="426.6" y2="282.66" stroke="#3c3cff" stroke-width="0.8"/>
<line x1="424.8" y1="257.04" x2="426.6" y2="257.04" stroke="#3c3cff" stroke-width="0.8"/>
<line x1="424.8" y1="231.41" x2="426.6" y2="231.41" stroke="#3c3cff" stroke-width="0.8"/>
<line x1="424.8" y1="205.79" x2="426.6" y2="205.79" stroke="#3c3cff" stroke-width="0.8"/>
<line x1="290.5" y1="205.5" x2="290.5" y2="325.8" stroke="#333" stroke-width="0.7" stroke-dasharray="2.5,2"/>
<line x1="290.5" y1="325.8" x2="290.5" y2="322.8" stroke="#222" stroke-width="1"/>
<line x1="329.4" y1="325.8" x2="329.4" y2="322.8" stroke="#222" stroke-width="1"/>
<line x1="368.3" y1="325.8" x2="368.3" y2="322.8" stroke="#222" stroke-width="1"/>
<line x1="407.19" y1="325.8" x2="407.19" y2="322.8" stroke="#222" stroke-width="1"/>
<line x1="271.05" y1="325.8" x2="271.05" y2="324" stroke="#222" stroke-width="0.8"/>
<line x1="309.95" y1="325.8" x2="309.95" y2="324" stroke="#222" stroke-width="0.8"/>
<line x1="348.85" y1="325.8" x2="348.85" y2="324" stroke="#222" stroke-width="0.8"/>
<line x1="387.75" y1="325.8" x2="387.75" y2="324" stroke="#222" stroke-width="0.8"/>
<polyline points="290.5,239.5 296.98,239.5 303.47,238.4 309.95,239.5 322.92,247.8 335.88,258.5 348.85,268.7 368.3,282.7 381.26,292.5 394.23,300.7 400.71,304.7 407.19,311.3" fill="none" stroke="#2323ff" stroke-width="0.8" stroke-linejoin="round"/>
<polyline points="290.5,277.3 296.98,275.8 303.47,275.8 309.95,276.4 322.92,274.4 335.88,271.7 348.85,271.1 368.3,268.7 381.26,266.2 394.23,265 400.71,263.2 407.19,261.5" fill="none" stroke="#111" stroke-width="0.8" stroke-linejoin="round"/>
<circle cx="290.5" cy="277.3" r="2.9" fill="url(#sph)"/>
<circle cx="296.98" cy="275.8" r="2.9" fill="url(#sph)"/>
<circle cx="303.47" cy="275.8" r="2.9" fill="url(#sph)"/>
<circle cx="309.95" cy="276.4" r="2.9" fill="url(#sph)"/>
<circle cx="322.92" cy="274.4" r="2.9" fill="url(#sph)"/>
<circle cx="335.88" cy="271.7" r="2.9" fill="url(#sph)"/>
<circle cx="348.85" cy="271.1" r="2.9" fill="url(#sph)"/>
<circle cx="368.3" cy="268.7" r="2.9" fill="url(#sph)"/>
<circle cx="381.26" cy="266.2" r="2.9" fill="url(#sph)"/>
<circle cx="394.23" cy="265" r="2.9" fill="url(#sph)"/>
<circle cx="400.71" cy="263.2" r="2.9" fill="url(#sph)"/>
<circle cx="407.19" cy="261.5" r="2.9" fill="url(#sph)"/>
<circle cx="290.5" cy="239.5" r="2.7" fill="#fff" stroke="#2323ff" stroke-width="1.15"/>
<circle cx="296.98" cy="239.5" r="2.7" fill="#fff" stroke="#2323ff" stroke-width="1.15"/>
<circle cx="303.47" cy="238.4" r="2.7" fill="#fff" stroke="#2323ff" stroke-width="1.15"/>
<circle cx="309.95" cy="239.5" r="2.7" fill="#fff" stroke="#2323ff" stroke-width="1.15"/>
<circle cx="322.92" cy="247.8" r="2.7" fill="#fff" stroke="#2323ff" stroke-width="1.15"/>
<circle cx="335.88" cy="258.5" r="2.7" fill="#fff" stroke="#2323ff" stroke-width="1.15"/>
<circle cx="348.85" cy="268.7" r="2.7" fill="#fff" stroke="#2323ff" stroke-width="1.15"/>
<circle cx="368.3" cy="282.7" r="2.7" fill="#fff" stroke="#2323ff" stroke-width="1.15"/>
<circle cx="381.26" cy="292.5" r="2.7" fill="#fff" stroke="#2323ff" stroke-width="1.15"/>
<circle cx="394.23" cy="300.7" r="2.7" fill="#fff" stroke="#2323ff" stroke-width="1.15"/>
<circle cx="400.71" cy="304.7" r="2.7" fill="#fff" stroke="#2323ff" stroke-width="1.15"/>
<circle cx="407.19" cy="311.3" r="2.7" fill="#fff" stroke="#2323ff" stroke-width="1.15"/>
<line x1="289" y1="279.3" x2="276" y2="279.3" stroke="#555" stroke-width="0.9"/>
<line x1="276" y1="279.3" x2="280.5" y2="282.1" stroke="#555" stroke-width="0.9"/>
<line x1="276" y1="279.3" x2="280.5" y2="276.5" stroke="#555" stroke-width="0.9"/>
<line x1="414.4" y1="310.3" x2="424.6" y2="310.3" stroke="#3c3cff" stroke-width="1"/>
<line x1="424.6" y1="310.3" x2="420.1" y2="307.5" stroke="#3c3cff" stroke-width="1"/>
<line x1="424.6" y1="310.3" x2="420.1" y2="313.1" stroke="#3c3cff" stroke-width="1"/>
<text x="290.5" y="337.4" font-size="10.6" text-anchor="middle" fill="#000">0</text>
<text x="323.6" y="337.4" font-size="10.6" text-anchor="start" fill="#000">60</text>
<text x="335.59" y="333.58" font-size="7.42" text-anchor="start" fill="#000" font-style="italic">0+</text>
<text x="361.8" y="337.4" font-size="10.6" text-anchor="start" fill="#000">120</text>
<text x="379.68" y="333.58" font-size="7.42" text-anchor="start" fill="#000" font-style="italic">0+</text>
<text x="398.6" y="337.4" font-size="10.6" text-anchor="start" fill="#000">180</text>
<text x="416.48" y="333.58" font-size="7.42" text-anchor="start" fill="#000" font-style="italic">0+</text>
<text x="309.3" y="353.9" font-size="11.4" text-anchor="start" fill="#000">poling</text>
<text x="348.4" y="353.9" font-size="11.4" text-anchor="start" fill="#000" font-style="italic">V</text>
<text x="356.38" y="357.09" font-size="8.21" text-anchor="start" fill="#000">G</text>
<text x="358.66" y="349" font-size="8.21" text-anchor="start" fill="#000" font-style="italic">0+</text>
<text x="373.3" y="353.9" font-size="11.4" text-anchor="start" fill="#000">(V)</text>
<text x="292.3" y="219" font-size="11.5" text-anchor="start" fill="#000">S2_B#</text>
<text x="237" y="203.1" font-size="19" text-anchor="start" fill="#000">d</text>
<g transform="translate(253.5,266.3) rotate(-90)"><text x="0" y="0" font-size="11.9" text-anchor="middle"><tspan font-style="italic">n</tspan><tspan font-size="8.3" dy="2.6">s</tspan><tspan dy="-2.6"> (×10</tspan><tspan font-size="8.3" dy="-4.2">13</tspan><tspan dy="4.2"> cm</tspan><tspan font-size="8.3" dy="-4.2">-2</tspan><tspan dy="4.2">)</tspan></text></g>
<g transform="translate(453.5,265.4) rotate(-90)"><text x="0" y="0" font-size="11.9" text-anchor="middle" fill="#3c3cff"><tspan font-style="italic">μ</tspan> (cm<tspan font-size="8.3" dy="-4.2">2</tspan><tspan dy="4.2"> V</tspan><tspan font-size="8.3" dy="-4.2">-1</tspan><tspan dy="4.2"> s</tspan><tspan font-size="8.3" dy="-4.2">-1</tspan><tspan dy="4.2">)</tspan></text></g>
<line x1="519.5" y1="214.3" x2="667" y2="214.3" stroke="#444" stroke-width="1.1"/>
<line x1="667" y1="214.3" x2="667" y2="499" stroke="#444" stroke-width="1.1"/>
<line x1="519.5" y1="214.3" x2="519.5" y2="499" stroke="#222" stroke-width="1.1"/>
<line x1="519.5" y1="499" x2="667" y2="499" stroke="#222" stroke-width="1.1"/>
<line x1="519.5" y1="499" x2="522.5" y2="499" stroke="#222" stroke-width="1"/>
<text x="515.5" y="503.3" font-size="12.2" text-anchor="end" fill="#000">0.00</text>
<line x1="519.5" y1="454.58" x2="522.5" y2="454.58" stroke="#222" stroke-width="1"/>
<text x="515.5" y="458.88" font-size="12.2" text-anchor="end" fill="#000">0.05</text>
<line x1="519.5" y1="410.17" x2="522.5" y2="410.17" stroke="#222" stroke-width="1"/>
<text x="515.5" y="414.47" font-size="12.2" text-anchor="end" fill="#000">0.10</text>
<line x1="519.5" y1="365.75" x2="522.5" y2="365.75" stroke="#222" stroke-width="1"/>
<text x="515.5" y="370.06" font-size="12.2" text-anchor="end" fill="#000">0.15</text>
<line x1="519.5" y1="321.34" x2="522.5" y2="321.34" stroke="#222" stroke-width="1"/>
<text x="515.5" y="325.64" font-size="12.2" text-anchor="end" fill="#000">0.20</text>
<line x1="519.5" y1="276.93" x2="522.5" y2="276.93" stroke="#222" stroke-width="1"/>
<text x="515.5" y="281.23" font-size="12.2" text-anchor="end" fill="#000">0.25</text>
<line x1="519.5" y1="232.51" x2="522.5" y2="232.51" stroke="#222" stroke-width="1"/>
<text x="515.5" y="236.81" font-size="12.2" text-anchor="end" fill="#000">0.30</text>
<line x1="519.5" y1="476.79" x2="521.3" y2="476.79" stroke="#222" stroke-width="0.8"/>
<line x1="519.5" y1="432.38" x2="521.3" y2="432.38" stroke="#222" stroke-width="0.8"/>
<line x1="519.5" y1="387.96" x2="521.3" y2="387.96" stroke="#222" stroke-width="0.8"/>
<line x1="519.5" y1="343.55" x2="521.3" y2="343.55" stroke="#222" stroke-width="0.8"/>
<line x1="519.5" y1="299.13" x2="521.3" y2="299.13" stroke="#222" stroke-width="0.8"/>
<line x1="519.5" y1="254.72" x2="521.3" y2="254.72" stroke="#222" stroke-width="0.8"/>
<line x1="526.2" y1="499" x2="526.2" y2="496" stroke="#222" stroke-width="1"/>
<text x="526.2" y="512.5" font-size="12.2" text-anchor="middle" fill="#000">0</text>
<line x1="561.35" y1="499" x2="561.35" y2="496" stroke="#222" stroke-width="1"/>
<text x="561.35" y="512.5" font-size="12.2" text-anchor="middle" fill="#000">10</text>
<line x1="596.5" y1="499" x2="596.5" y2="496" stroke="#222" stroke-width="1"/>
<text x="596.5" y="512.5" font-size="12.2" text-anchor="middle" fill="#000">20</text>
<line x1="631.65" y1="499" x2="631.65" y2="496" stroke="#222" stroke-width="1"/>
<text x="631.65" y="512.5" font-size="12.2" text-anchor="middle" fill="#000">30</text>
<line x1="666.8" y1="499" x2="666.8" y2="496" stroke="#222" stroke-width="1"/>
<text x="666.8" y="512.5" font-size="12.2" text-anchor="middle" fill="#000">40</text>
<line x1="543.78" y1="499" x2="543.78" y2="497.2" stroke="#222" stroke-width="0.8"/>
<line x1="578.93" y1="499" x2="578.93" y2="497.2" stroke="#222" stroke-width="0.8"/>
<line x1="614.08" y1="499" x2="614.08" y2="497.2" stroke="#222" stroke-width="0.8"/>
<line x1="649.23" y1="499" x2="649.23" y2="497.2" stroke="#222" stroke-width="0.8"/>
<polyline points="526.2,499 526.55,484.86 526.9,471.78 527.25,459.68 527.61,448.48 527.96,438.12 528.31,428.52 528.66,419.62 529.01,411.37 529.36,403.71 529.72,396.6 530.07,389.99 530.42,383.85 530.77,378.14 531.12,372.82 531.47,367.86 531.82,363.24 532.18,358.92 532.53,354.89 532.88,351.12 533.23,347.59 533.58,344.28 533.93,341.18 534.28,338.27 534.64,335.54 534.99,332.96 535.34,330.54 535.69,328.25 536.04,326.09 536.39,324.05 536.75,322.12 537.1,320.29 537.45,318.56 537.8,316.91 538.15,315.34 538.5,313.85 538.85,312.43 539.21,311.07 539.56,309.77 539.91,308.53 540.26,307.34 540.61,306.19 540.96,305.1 541.31,304.04 541.67,303.03 542.02,302.05 542.37,301.11 542.72,300.2 543.07,299.32 543.42,298.47 543.78,297.64 544.13,296.84 544.48,296.07 544.83,295.32 545.18,294.58 545.53,293.87 545.88,293.18 546.24,292.51 546.59,291.85 546.94,291.21 547.29,290.59 547.64,289.97 547.99,289.38 548.34,288.8 548.7,288.23 549.05,287.67 549.4,287.12 549.75,286.59 550.1,286.07 550.45,285.55 550.81,285.05 551.16,284.56 551.51,284.07 551.86,283.6 552.21,283.13 552.56,282.67 552.91,282.23 553.27,281.78 553.62,281.35 553.97,280.92 554.32,280.51 554.67,280.09 555.02,279.69 555.37,279.29 555.73,278.9 556.08,278.52 556.43,278.14 556.78,277.76 557.13,277.4 557.48,277.04 557.84,276.68 558.19,276.33 558.54,275.99 558.89,275.65 559.24,275.32 559.59,274.99 559.94,274.66 560.3,274.35 560.65,274.03 561,273.72 561.35,273.42 561.7,273.12 562.05,272.83 562.4,272.53 562.76,272.25 563.11,271.97 563.46,271.69 563.81,271.42 564.16,271.15 564.51,270.88 564.87,270.62 565.22,270.36 565.57,270.11 565.92,269.86 566.27,269.61 566.62,269.37 566.97,269.13 567.33,268.89 567.68,268.66 568.03,268.43 568.38,268.21 568.73,267.98 569.08,267.76 569.43,267.55 569.79,267.34 570.14,267.13 570.49,266.92 570.84,266.72 571.19,266.51 571.54,266.32 571.9,266.12 572.25,265.93 572.6,265.74 572.95,265.55 573.3,265.37 573.65,265.19 574,265.01 574.36,264.84 574.71,264.66 575.06,264.49 575.41,264.32 575.76,264.16 576.11,263.99 576.46,263.83 576.82,263.67 577.17,263.52 577.52,263.36 577.87,263.21 578.22,263.06 578.57,262.91 578.93,262.77 579.28,262.63 579.63,262.48 579.98,262.34 580.33,262.21 580.68,262.07 581.03,261.94 581.39,261.81 581.74,261.68 582.09,261.55 582.44,261.42 582.79,261.3 583.14,261.18 583.49,261.06 583.85,260.94 584.2,260.82 584.55,260.71 584.9,260.59 585.25,260.48 585.6,260.37 585.96,260.26 586.31,260.16 586.66,260.05 587.01,259.95 587.36,259.84 587.71,259.74 588.06,259.64 588.42,259.55 588.77,259.45 589.12,259.35 589.47,259.26 589.82,259.17 590.17,259.08 590.52,258.99 590.88,258.9 591.23,258.81 591.58,258.72 591.93,258.64 592.28,258.55 592.63,258.47 592.99,258.39 593.34,258.31 593.69,258.23 594.04,258.15 594.39,258.08 594.74,258 595.09,257.93 595.45,257.85 595.8,257.78 596.15,257.71 596.5,257.64 596.85,257.57 597.2,257.5 597.55,257.44 597.91,257.37 598.26,257.3 598.61,257.24 598.96,257.18 599.31,257.11 599.66,257.05 600.02,256.99 600.37,256.93 600.72,256.87 601.07,256.82 601.42,256.76 601.77,256.7 602.12,256.65 602.48,256.59 602.83,256.54 603.18,256.48 603.53,256.43 603.88,256.38 604.23,256.33 604.58,256.28 604.94,256.23 605.29,256.18 605.64,256.13 605.99,256.08 606.34,256.04 606.69,255.99 607.05,255.95 607.4,255.9 607.75,255.86 608.1,255.81 608.45,255.77 608.8,255.73 609.15,255.69 609.51,255.65 609.86,255.61 610.21,255.57 610.56,255.53 610.91,255.49 611.26,255.45 611.61,255.41 611.97,255.38 612.32,255.34 612.67,255.3 613.02,255.27 613.37,255.23 613.72,255.2 614.08,255.17 614.43,255.13 614.78,255.1 615.13,255.07 615.48,255.03 615.83,255 616.18,254.97 616.54,254.94 616.89,254.91 617.24,254.88 617.59,254.85 617.94,254.82 618.29,254.79 618.64,254.77 619,254.74 619.35,254.71 619.7,254.69 620.05,254.66 620.4,254.63 620.75,254.61 621.11,254.58 621.46,254.56 621.81,254.53 622.16,254.51 622.51,254.48 622.86,254.46 623.21,254.44 623.57,254.41 623.92,254.39 624.27,254.37 624.62,254.35 624.97,254.33 625.32,254.3 625.67,254.28 626.03,254.26 626.38,254.24 626.73,254.22 627.08,254.2 627.43,254.18 627.78,254.16 628.13,254.15 628.49,254.13 628.84,254.11 629.19,254.09 629.54,254.07 629.89,254.05 630.24,254.04 630.6,254.02 630.95,254 631.3,253.99 631.65,253.97 632,253.95 632.35,253.94 632.7,253.92 633.06,253.91 633.41,253.89 633.76,253.88 634.11,253.86 634.46,253.85 634.81,253.83 635.17,253.82 635.52,253.81 635.87,253.79 636.22,253.78 636.57,253.76 636.92,253.75 637.27,253.74 637.63,253.73 637.98,253.71 638.33,253.7 638.68,253.69 639.03,253.68 639.38,253.66 639.73,253.65 640.09,253.64 640.44,253.63 640.79,253.62 641.14,253.61 641.49,253.6 641.84,253.59 642.2,253.58 642.55,253.56 642.9,253.55 643.25,253.54 643.6,253.53 643.95,253.52 644.3,253.51 644.66,253.51 645.01,253.5 645.36,253.49 645.71,253.48 646.06,253.47 646.41,253.46 646.76,253.45 647.12,253.44 647.47,253.43 647.82,253.43 648.17,253.42 648.52,253.41 648.87,253.4 649.23,253.39 649.58,253.39 649.93,253.38 650.28,253.37 650.63,253.36 650.98,253.36 651.33,253.35 651.69,253.34 652.04,253.33 652.39,253.33 652.74,253.32 653.09,253.31 653.44,253.31 653.79,253.3 654.15,253.29 654.5,253.29 654.85,253.28 655.2,253.27 655.55,253.27 655.9,253.26 656.26,253.26 656.61,253.25 656.96,253.25 657.31,253.24 657.66,253.23 658.01,253.23 658.36,253.22 658.72,253.22 659.07,253.21 659.42,253.21 659.77,253.2 660.12,253.2 660.47,253.19 660.82,253.19 661.18,253.18 661.53,253.18 661.88,253.17 662.23,253.17 662.58,253.16 662.93,253.16 663.29,253.16 663.64,253.15 663.99,253.15 664.34,253.14 664.69,253.14 665.04,253.13 665.39,253.13 665.75,253.13 666.1,253.12 666.45,253.12 666.8,253.11" fill="none" stroke="#1a1aff" stroke-width="1.2" stroke-linejoin="round"/>
<polyline points="526.2,499 526.55,490.61 526.9,482.69 527.25,475.19 527.61,468.11 527.96,461.42 528.31,455.1 528.66,449.12 529.01,443.47 529.36,438.13 529.72,433.08 530.07,428.31 530.42,423.8 530.77,419.53 531.12,415.5 531.47,411.69 531.82,408.09 532.18,404.69 532.53,401.47 532.88,398.43 533.23,395.55 533.58,392.83 533.93,390.26 534.28,387.83 534.64,385.53 534.99,383.35 535.34,381.3 535.69,379.35 536.04,377.52 536.39,375.78 536.75,374.13 537.1,372.58 537.45,371.11 537.8,369.71 538.15,368.4 538.5,367.15 538.85,365.97 539.21,364.86 539.56,363.8 539.91,362.8 540.26,361.86 540.61,360.96 540.96,360.12 541.31,359.32 541.67,358.56 542.02,357.84 542.37,357.16 542.72,356.51 543.07,355.9 543.42,355.32 543.78,354.78 544.13,354.26 544.48,353.76 544.83,353.3 545.18,352.85 545.53,352.43 545.88,352.04 546.24,351.66 546.59,351.3 546.94,350.96 547.29,350.64 547.64,350.33 547.99,350.04 548.34,349.76 548.7,349.5 549.05,349.25 549.4,349.01 549.75,348.78 550.1,348.57 550.45,348.36 550.81,348.17 551.16,347.98 551.51,347.81 551.86,347.64 552.21,347.48 552.56,347.32 552.91,347.18 553.27,347.04 553.62,346.9 553.97,346.77 554.32,346.65 554.67,346.53 555.02,346.42 555.37,346.31 555.73,346.21 556.08,346.11 556.43,346.02 556.78,345.92 557.13,345.84 557.48,345.75 557.84,345.67 558.19,345.59 558.54,345.52 558.89,345.44 559.24,345.37 559.59,345.3 559.94,345.24 560.3,345.17 560.65,345.11 561,345.05 561.35,344.99 561.7,344.94 562.05,344.88 562.4,344.83 562.76,344.78 563.11,344.73 563.46,344.68 563.81,344.63 564.16,344.58 564.51,344.54 564.87,344.49 565.22,344.45 565.57,344.41 565.92,344.36 566.27,344.32 566.62,344.28 566.97,344.24 567.33,344.2 567.68,344.17 568.03,344.13 568.38,344.09 568.73,344.05 569.08,344.02 569.43,343.98 569.79,343.95 570.14,343.91 570.49,343.88 570.84,343.84 571.19,343.81 571.54,343.78 571.9,343.74 572.25,343.71 572.6,343.68 572.95,343.65 573.3,343.61 573.65,343.58 574,343.55 574.36,343.52 574.71,343.49 575.06,343.46 575.41,343.43 575.76,343.4 576.11,343.37 576.46,343.34 576.82,343.31 577.17,343.28 577.52,343.25 577.87,343.22 578.22,343.19 578.57,343.16 578.93,343.13 579.28,343.1 579.63,343.07 579.98,343.04 580.33,343.01 580.68,342.98 581.03,342.96 581.39,342.93 581.74,342.9 582.09,342.87 582.44,342.84 582.79,342.81 583.14,342.78 583.49,342.76 583.85,342.73 584.2,342.7 584.55,342.67 584.9,342.64 585.25,342.62 585.6,342.59 585.96,342.56 586.31,342.53 586.66,342.5 587.01,342.48 587.36,342.45 587.71,342.42 588.06,342.39 588.42,342.36 588.77,342.34 589.12,342.31 589.47,342.28 589.82,342.25 590.17,342.23 590.52,342.2 590.88,342.17 591.23,342.14 591.58,342.11 591.93,342.09 592.28,342.06 592.63,342.03 592.99,342 593.34,341.98 593.69,341.95 594.04,341.92 594.39,341.89 594.74,341.87 595.09,341.84 595.45,341.81 595.8,341.78 596.15,341.76 596.5,341.73 596.85,341.7 597.2,341.67 597.55,341.65 597.91,341.62 598.26,341.59 598.61,341.56 598.96,341.54 599.31,341.51 599.66,341.48 600.02,341.45 600.37,341.43 600.72,341.4 601.07,341.37 601.42,341.34 601.77,341.32 602.12,341.29 602.48,341.26 602.83,341.23 603.18,341.21 603.53,341.18 603.88,341.15 604.23,341.12 604.58,341.1 604.94,341.07 605.29,341.04 605.64,341.01 605.99,340.99 606.34,340.96 606.69,340.93 607.05,340.9 607.4,340.88 607.75,340.85 608.1,340.82 608.45,340.79 608.8,340.77 609.15,340.74 609.51,340.71 609.86,340.68 610.21,340.66 610.56,340.63 610.91,340.6 611.26,340.57 611.61,340.55 611.97,340.52 612.32,340.49 612.67,340.46 613.02,340.44 613.37,340.41 613.72,340.38 614.08,340.36 614.43,340.33 614.78,340.3 615.13,340.27 615.48,340.25 615.83,340.22 616.18,340.19 616.54,340.16 616.89,340.14 617.24,340.11 617.59,340.08 617.94,340.05 618.29,340.03 618.64,340 619,339.97 619.35,339.94 619.7,339.92 620.05,339.89 620.4,339.86 620.75,339.83 621.11,339.81 621.46,339.78 621.81,339.75 622.16,339.72 622.51,339.7 622.86,339.67 623.21,339.64 623.57,339.61 623.92,339.59 624.27,339.56 624.62,339.53 624.97,339.5 625.32,339.48 625.67,339.45 626.03,339.42 626.38,339.4 626.73,339.37 627.08,339.34 627.43,339.31 627.78,339.29 628.13,339.26 628.49,339.23 628.84,339.2 629.19,339.18 629.54,339.15 629.89,339.12 630.24,339.09 630.6,339.07 630.95,339.04 631.3,339.01 631.65,338.98 632,338.96 632.35,338.93 632.7,338.9 633.06,338.87 633.41,338.85 633.76,338.82 634.11,338.79 634.46,338.76 634.81,338.74 635.17,338.71 635.52,338.68 635.87,338.65 636.22,338.63 636.57,338.6 636.92,338.57 637.27,338.55 637.63,338.52 637.98,338.49 638.33,338.46 638.68,338.44 639.03,338.41 639.38,338.38 639.73,338.35 640.09,338.33 640.44,338.3 640.79,338.27 641.14,338.24 641.49,338.22 641.84,338.19 642.2,338.16 642.55,338.13 642.9,338.11 643.25,338.08 643.6,338.05 643.95,338.02 644.3,338 644.66,337.97 645.01,337.94 645.36,337.91 645.71,337.89 646.06,337.86 646.41,337.83 646.76,337.8 647.12,337.78 647.47,337.75 647.82,337.72 648.17,337.69 648.52,337.67 648.87,337.64 649.23,337.61 649.58,337.59 649.93,337.56 650.28,337.53 650.63,337.5 650.98,337.48 651.33,337.45 651.69,337.42 652.04,337.39 652.39,337.37 652.74,337.34 653.09,337.31 653.44,337.28 653.79,337.26 654.15,337.23 654.5,337.2 654.85,337.17 655.2,337.15 655.55,337.12 655.9,337.09 656.26,337.06 656.61,337.04 656.96,337.01 657.31,336.98 657.66,336.95 658.01,336.93 658.36,336.9 658.72,336.87 659.07,336.84 659.42,336.82 659.77,336.79 660.12,336.76 660.47,336.73 660.82,336.71 661.18,336.68 661.53,336.65 661.88,336.63 662.23,336.6 662.58,336.57 662.93,336.54 663.29,336.52 663.64,336.49 663.99,336.46 664.34,336.43 664.69,336.41 665.04,336.38 665.39,336.35 665.75,336.32 666.1,336.3 666.45,336.27 666.8,336.24" fill="none" stroke="#ff2020" stroke-width="1.2" stroke-linejoin="round"/>
<circle cx="526.2" cy="499" r="2.4" fill="url(#sphr)"/>
<circle cx="529.72" cy="439.48" r="2.4" fill="url(#sphr)"/>
<circle cx="533.23" cy="390.09" r="2.4" fill="url(#sphr)"/>
<circle cx="536.75" cy="372.24" r="2.4" fill="url(#sphr)"/>
<circle cx="540.26" cy="365.13" r="2.4" fill="url(#sphr)"/>
<circle cx="543.78" cy="354.21" r="2.4" fill="url(#sphr)"/>
<circle cx="547.29" cy="348.26" r="2.4" fill="url(#sphr)"/>
<circle cx="554.32" cy="349.23" r="2.4" fill="url(#sphr)"/>
<circle cx="568.38" cy="342.66" r="2.4" fill="url(#sphr)"/>
<circle cx="596.5" cy="343.19" r="2.4" fill="url(#sphr)"/>
<circle cx="631.65" cy="339.99" r="2.4" fill="url(#sphr)"/>
<circle cx="529.72" cy="403.06" r="2.4" fill="url(#sphb)"/>
<circle cx="533.23" cy="337.33" r="2.4" fill="url(#sphb)"/>
<circle cx="536.75" cy="325.78" r="2.4" fill="url(#sphb)"/>
<circle cx="540.26" cy="307.13" r="2.4" fill="url(#sphb)"/>
<circle cx="543.78" cy="299.13" r="2.4" fill="url(#sphb)"/>
<circle cx="547.29" cy="292.03" r="2.4" fill="url(#sphb)"/>
<circle cx="554.32" cy="280.48" r="2.4" fill="url(#sphb)"/>
<circle cx="568.38" cy="267.15" r="2.4" fill="url(#sphb)"/>
<circle cx="596.5" cy="255.61" r="2.4" fill="url(#sphb)"/>
<circle cx="631.65" cy="254.72" r="2.4" fill="url(#sphb)"/>
<text x="526.7" y="283.5" font-size="12.3" text-anchor="start" fill="#1a1aff">S4#</text>
<text x="621.69" y="244" font-size="12.3" text-anchor="start" fill="#1a1aff">-120</text>
<text x="646.61" y="239.33" font-size="8.86" text-anchor="start" fill="#1a1aff" font-style="italic">0-</text>
<text x="618.82" y="328.5" font-size="12.3" text-anchor="start" fill="#ff2020">+120</text>
<text x="646.48" y="323.83" font-size="8.86" text-anchor="start" fill="#ff2020" font-style="italic">0+</text>
<text x="546.9" y="372" font-size="12.3" text-anchor="start" fill="#ff2020">S1_C#</text>
<g transform="translate(479.7,356.7) rotate(-90)"><text x="0" y="0" font-size="15.2" text-anchor="middle">enhanced Δ<tspan font-style="italic">T</tspan><tspan font-size="9" dy="3">c</tspan><tspan dy="-3"> (K)</tspan></text></g>
<text x="593.4" y="533.2" font-size="15.3" text-anchor="middle" fill="#000">poling time (s)</text>
<text x="477.6" y="221.2" font-size="19" text-anchor="start" fill="#000">f</text>
<rect x="572.5" y="400" width="89" height="68.5" fill="#fff" stroke="#333" stroke-width="0.9"/>
<line x1="572.5" y1="467.9" x2="575" y2="467.9" stroke="#222" stroke-width="0.9"/>
<text x="569.5" y="471.2" font-size="9.2" text-anchor="end" fill="#000" font-weight="bold">0.0</text>
<line x1="572.5" y1="446.87" x2="575" y2="446.87" stroke="#222" stroke-width="0.9"/>
<text x="569.5" y="450.17" font-size="9.2" text-anchor="end" fill="#000" font-weight="bold">0.1</text>
<line x1="572.5" y1="425.84" x2="575" y2="425.84" stroke="#222" stroke-width="0.9"/>
<text x="569.5" y="429.14" font-size="9.2" text-anchor="end" fill="#000" font-weight="bold">0.2</text>
<line x1="572.5" y1="404.81" x2="575" y2="404.81" stroke="#222" stroke-width="0.9"/>
<text x="569.5" y="408.11" font-size="9.2" text-anchor="end" fill="#000" font-weight="bold">0.3</text>
<line x1="572.5" y1="457.38" x2="574" y2="457.38" stroke="#222" stroke-width="0.7"/>
<line x1="572.5" y1="436.35" x2="574" y2="436.35" stroke="#222" stroke-width="0.7"/>
<line x1="572.5" y1="415.32" x2="574" y2="415.32" stroke="#222" stroke-width="0.7"/>
<line x1="583.2" y1="468.5" x2="583.2" y2="466" stroke="#222" stroke-width="0.9"/>
<text x="583.2" y="479.5" font-size="9.2" text-anchor="middle" fill="#000" font-weight="bold">0</text>
<line x1="616.85" y1="468.5" x2="616.85" y2="466" stroke="#222" stroke-width="0.9"/>
<text x="616.85" y="479.5" font-size="9.2" text-anchor="middle" fill="#000" font-weight="bold">1800</text>
<line x1="650.5" y1="468.5" x2="650.5" y2="466" stroke="#222" stroke-width="0.9"/>
<text x="650.5" y="479.5" font-size="9.2" text-anchor="middle" fill="#000" font-weight="bold">3600</text>
<line x1="600.03" y1="468.5" x2="600.03" y2="467" stroke="#222" stroke-width="0.7"/>
<line x1="633.68" y1="468.5" x2="633.68" y2="467" stroke="#222" stroke-width="0.7"/>
<text x="617" y="493.5" font-size="10.5" text-anchor="middle"><tspan font-style="italic">t</tspan> (s)</text>
<g transform="translate(551.5,434.5) rotate(-90)"><text x="0" y="0" font-size="10.5" text-anchor="middle">Δ<tspan font-style="italic">T</tspan><tspan font-size="7.5" dy="2.5">c</tspan><tspan dy="-2.5"> (K)</tspan></text></g>
<polyline points="583.4,446 583.4,437 583.4,430 583.4,425 583.4,421 583.4,417 583.4,414 583.4,411.5 583.4,410 583.7,409.4 585.6,408.1 589.2,407.5 594.7,407.2 617.1,406.6 650.6,405.2" fill="none" stroke="#1a1aff" stroke-width="1.2" stroke-linejoin="round"/>
<circle cx="583.4" cy="446" r="1.9" fill="url(#sphb)"/>
<circle cx="583.4" cy="437" r="1.9" fill="url(#sphb)"/>
<circle cx="583.4" cy="430" r="1.9" fill="url(#sphb)"/>
<circle cx="583.4" cy="425" r="1.9" fill="url(#sphb)"/>
<circle cx="583.4" cy="421" r="1.9" fill="url(#sphb)"/>
<circle cx="583.4" cy="417" r="1.9" fill="url(#sphb)"/>
<circle cx="583.4" cy="414" r="1.9" fill="url(#sphb)"/>
<circle cx="583.4" cy="411.5" r="1.9" fill="url(#sphb)"/>
<circle cx="583.4" cy="410" r="1.9" fill="url(#sphb)"/>
<circle cx="583.7" cy="409.4" r="1.9" fill="url(#sphb)"/>
<circle cx="585.6" cy="408.1" r="1.9" fill="url(#sphb)"/>
<circle cx="589.2" cy="407.5" r="1.9" fill="url(#sphb)"/>
<circle cx="594.7" cy="407.2" r="1.9" fill="url(#sphb)"/>
<circle cx="617.1" cy="406.6" r="1.9" fill="url(#sphb)"/>
<circle cx="650.6" cy="405.2" r="1.9" fill="url(#sphb)"/>
<polyline points="583.2,468 583.2,454.5 583.2,443.3 583.2,437 583.2,433 583.2,430 583.2,428 583.2,426.5 585.6,425.9 588.3,424.6 594.7,425" fill="none" stroke="#ff2020" stroke-width="1.2" stroke-linejoin="round"/>
<circle cx="583.2" cy="468" r="1.9" fill="url(#sphr)"/>
<circle cx="583.2" cy="454.5" r="1.9" fill="url(#sphr)"/>
<circle cx="583.2" cy="443.3" r="1.9" fill="url(#sphr)"/>
<circle cx="583.2" cy="437" r="1.9" fill="url(#sphr)"/>
<circle cx="583.2" cy="433" r="1.9" fill="url(#sphr)"/>
<circle cx="583.2" cy="430" r="1.9" fill="url(#sphr)"/>
<circle cx="583.2" cy="428" r="1.9" fill="url(#sphr)"/>
<circle cx="583.2" cy="426.5" r="1.9" fill="url(#sphr)"/>
<circle cx="585.6" cy="425.9" r="1.9" fill="url(#sphr)"/>
<circle cx="588.3" cy="424.6" r="1.9" fill="url(#sphr)"/>
<circle cx="594.7" cy="425" r="1.9" fill="url(#sphr)"/>
<rect x="40.3" y="372.6" width="155.3" height="135.9" fill="none" stroke="#333" stroke-width="1"/>
<line x1="40.3" y1="372.6" x2="40.3" y2="508.5" stroke="#222" stroke-width="1.1"/>
<line x1="40.3" y1="508.5" x2="195.6" y2="508.5" stroke="#222" stroke-width="1.1"/>
<line x1="40.3" y1="508.5" x2="43.3" y2="508.5" stroke="#222" stroke-width="1"/>
<text x="36.3" y="512.6" font-size="11.8" text-anchor="end" fill="#000">0.0</text>
<line x1="40.3" y1="474.52" x2="43.3" y2="474.52" stroke="#222" stroke-width="1"/>
<text x="36.3" y="478.62" font-size="11.8" text-anchor="end" fill="#000">0.4</text>
<line x1="40.3" y1="440.54" x2="43.3" y2="440.54" stroke="#222" stroke-width="1"/>
<text x="36.3" y="444.64" font-size="11.8" text-anchor="end" fill="#000">0.8</text>
<line x1="40.3" y1="406.56" x2="43.3" y2="406.56" stroke="#222" stroke-width="1"/>
<text x="36.3" y="410.66" font-size="11.8" text-anchor="end" fill="#000">1.2</text>
<line x1="40.3" y1="372.58" x2="43.3" y2="372.58" stroke="#222" stroke-width="1"/>
<text x="36.3" y="376.68" font-size="11.8" text-anchor="end" fill="#000">1.6</text>
<line x1="40.3" y1="491.51" x2="42.1" y2="491.51" stroke="#222" stroke-width="0.8"/>
<line x1="40.3" y1="457.53" x2="42.1" y2="457.53" stroke="#222" stroke-width="0.8"/>
<line x1="40.3" y1="423.55" x2="42.1" y2="423.55" stroke="#222" stroke-width="0.8"/>
<line x1="40.3" y1="389.57" x2="42.1" y2="389.57" stroke="#222" stroke-width="0.8"/>
<line x1="64.5" y1="508.5" x2="64.5" y2="505.5" stroke="#222" stroke-width="1"/>
<text x="64.5" y="521.3" font-size="11.8" text-anchor="middle" fill="#000">1.5</text>
<line x1="103.2" y1="508.5" x2="103.2" y2="505.5" stroke="#222" stroke-width="1"/>
<text x="103.2" y="521.3" font-size="11.8" text-anchor="middle" fill="#000">2.0</text>
<line x1="141.9" y1="508.5" x2="141.9" y2="505.5" stroke="#222" stroke-width="1"/>
<text x="141.9" y="521.3" font-size="11.8" text-anchor="middle" fill="#000">2.5</text>
<line x1="180.6" y1="508.5" x2="180.6" y2="505.5" stroke="#222" stroke-width="1"/>
<text x="180.6" y="521.3" font-size="11.8" text-anchor="middle" fill="#000">3.0</text>
<line x1="45.15" y1="508.5" x2="45.15" y2="506.7" stroke="#222" stroke-width="0.8"/>
<line x1="83.85" y1="508.5" x2="83.85" y2="506.7" stroke="#222" stroke-width="0.8"/>
<line x1="122.55" y1="508.5" x2="122.55" y2="506.7" stroke="#222" stroke-width="0.8"/>
<line x1="161.25" y1="508.5" x2="161.25" y2="506.7" stroke="#222" stroke-width="0.8"/>
<polyline points="40.3,507.9 41.28,507.86 42.25,507.82 43.23,507.78 44.21,507.73 45.18,507.68 46.16,507.63 47.14,507.57 48.11,507.52 49.09,507.46 50.07,507.4 51.04,507.33 52.02,507.26 53,507.19 53.97,507.12 54.95,507.04 55.93,506.95 56.9,506.87 57.88,506.78 58.86,506.69 59.83,506.6 60.81,506.5 61.79,506.41 62.76,506.31 63.74,506.2 64.72,506.08 65.69,505.94 66.67,505.79 67.65,505.61 68.63,505.41 69.6,505.18 70.58,504.93 71.56,504.64 72.53,504.31 73.51,503.93 74.49,503.47 75.46,502.89 76.44,502.18 77.42,501.29 78.39,500.05 79.37,498.53 80.35,496.62 81.32,494.39 82.3,491.75 83.28,488.86 84.25,485.95 85.23,483.01 86.21,480.02 87.18,477.03 88.16,474 89.14,471.06 90.11,468.25 91.09,465.51 92.07,463.17 93.04,461.23 94.02,459.51 95,458.08 95.97,456.98 96.95,456 97.93,455.14 98.9,454.39 99.88,453.77 100.86,453.28 101.83,452.86 102.81,452.47 103.79,452.12 104.76,451.8 105.74,451.51 106.72,451.25 107.69,451.01 108.67,450.78 109.65,450.57 110.62,450.37 111.6,450.19 112.58,450 113.55,449.83 114.53,449.67 115.51,449.51 116.48,449.36 117.46,449.22 118.44,449.08 119.42,448.95 120.39,448.83 121.37,448.71 122.35,448.6 123.32,448.5 124.3,448.4 125.28,448.3 126.25,448.21 127.23,448.12 128.21,448.04 129.18,447.95 130.16,447.87 131.14,447.79 132.11,447.72 133.09,447.64 134.07,447.57 135.04,447.5 136.02,447.43 137,447.37 137.97,447.3 138.95,447.24 139.93,447.18 140.9,447.13 141.88,447.07 142.86,447.01 143.83,446.96 144.81,446.91 145.79,446.86 146.76,446.81 147.74,446.76 148.72,446.72 149.69,446.67 150.67,446.63 151.65,446.58 152.62,446.54 153.6,446.5 154.58,446.46 155.55,446.42 156.53,446.38 157.51,446.35 158.48,446.31 159.46,446.27 160.44,446.24 161.41,446.2 162.39,446.17 163.37,446.13 164.34,446.1 165.32,446.06 166.3,446.03 167.27,446 168.25,445.96 169.23,445.93 170.21,445.89 171.18,445.86 172.16,445.82 173.14,445.79 174.11,445.76 175.09,445.72 176.07,445.69 177.04,445.66 178.02,445.63 179,445.6 179.97,445.56 180.95,445.53 181.93,445.5 182.9,445.47 183.88,445.44 184.86,445.41 185.83,445.38 186.81,445.35 187.79,445.32 188.76,445.29 189.74,445.26 190.72,445.24 191.69,445.21 192.67,445.18 193.65,445.15 194.62,445.13 195.6,445.1" fill="none" stroke="#000" stroke-width="2.6" stroke-linejoin="round"/>
<polyline points="79.77,497.78 80.29,496.73 80.81,495.6 81.33,494.37 81.85,493 82.37,491.54 82.89,490.01 83.41,488.46 83.93,486.9 84.45,485.37 84.97,483.81 85.49,482.22 86.01,480.63 86.53,479.03 87.05,477.45 87.57,475.84 88.08,474.23 88.6,472.64 89.12,471.1 89.64,469.61 90.16,468.11 90.68,466.63 91.2,465.22 91.72,463.94 92.24,462.81" fill="none" stroke="#999" stroke-width="0.8" stroke-linejoin="round"/>
<polyline points="40.3,508.2 40.82,508.2 41.34,508.2 41.86,508.2 42.38,508.2 42.9,508.2 43.42,508.2 43.94,508.2 44.46,508.19 44.97,508.19 45.49,508.19 46.01,508.19 46.53,508.19 47.05,508.18 47.57,508.18 48.09,508.18 48.61,508.18 49.13,508.17 49.65,508.17 50.17,508.17 50.69,508.16 51.21,508.16 51.73,508.16 52.25,508.15 52.77,508.15 53.28,508.14 53.8,508.14 54.32,508.14 54.84,508.13 55.36,508.13 55.88,508.12 56.4,508.12 56.92,508.11 57.44,508.11 57.96,508.1 58.48,508.1 59,508.09 59.52,508.08 60.04,508.08 60.56,508.07 61.08,508.07 61.6,508.06 62.11,508.05 62.63,508.05 63.15,508.04 63.67,508.04 64.19,508.03 64.71,508.02 65.23,508.02 65.75,508.01 66.27,508 66.79,507.99 67.31,507.99 67.83,507.97 68.35,507.96 68.87,507.95 69.39,507.94 69.91,507.92 70.43,507.9 70.94,507.88 71.46,507.86 71.98,507.84 72.5,507.82 73.02,507.8 73.54,507.78 74.06,507.76 74.58,507.73 75.1,507.71 75.62,507.68 76.14,507.65 76.66,507.63 77.18,507.6 77.7,507.58 78.22,507.55 78.74,507.52 79.25,507.49 79.77,507.47 80.29,507.44 80.81,507.41 81.33,507.38 81.85,507.36 82.37,507.33 82.89,507.3 83.41,507.28 83.93,507.25 84.45,507.23 84.97,507.2 85.49,507.18 86.01,507.15 86.53,507.13 87.05,507.11 87.57,507.09 88.08,507.06 88.6,507.04 89.12,507.02 89.64,506.99 90.16,506.97 90.68,506.95 91.2,506.92 91.72,506.89 92.24,506.87 92.76,506.84 93.28,506.81 93.8,506.78 94.32,506.75 94.84,506.71 95.36,506.68 95.88,506.64 96.39,506.6 96.91,506.55 97.43,506.51 97.95,506.46 98.47,506.41 98.99,506.35 99.51,506.29 100.03,506.23 100.55,506.16 101.07,506.09 101.59,506.01 102.11,505.93 102.63,505.84 103.15,505.74 103.67,505.64 104.19,505.52 104.71,505.39 105.22,505.26 105.74,505.11 106.26,504.95 106.78,504.77 107.3,504.56 107.82,504.3 109.24,504 109.76,503.66 110.28,503.29 110.8,502.88 111.32,502.41 111.84,501.84 112.36,501.19 112.88,500.48 113.4,499.75 113.92,499.01 114.44,498.23 114.95,497.38 115.47,496.45 115.99,495.37 116.51,494.1 117.03,492.67 117.55,491.15 118.07,489.51 118.59,487.76 119.11,485.9 119.63,483.95 120.15,481.91 120.67,479.76 121.19,477.44 121.71,475 122.23,472.46 122.75,469.88 123.26,467.24 123.78,464.51 124.3,461.63 124.82,458.54 125.34,455.02 125.86,451.35 126.38,447.95 126.9,444.68 127.42,441.54 127.94,438.64 128.46,436.05 128.98,433.72 129.5,431.57 130.02,429.56 130.54,427.68 131.06,425.92 131.58,424.22 132.09,422.52 132.61,420.79 132.23,419.06 132.75,417.4 133.27,415.88 133.79,414.48 134.31,413.15 134.83,411.89 135.35,410.73 135.87,409.66 136.39,408.69 136.91,407.78 137.43,406.93 137.95,406.11 138.47,405.31 138.99,404.52 139.51,403.73 140.02,402.97 140.54,402.22 141.06,401.5 141.58,400.8 142.1,400.12 142.62,399.47 143.14,398.83 143.66,398.2 144.18,397.59 144.7,397 145.22,396.45 145.74,395.93 146.26,395.46 146.78,395.01 147.3,394.57 147.82,394.15 148.33,393.74 148.85,393.34 149.37,392.95 149.89,392.57 150.41,392.2 150.93,391.85 151.45,391.5 151.97,391.16 152.49,390.84 153.01,390.52 153.53,390.21 154.05,389.9 154.57,389.61 155.09,389.32 155.61,389.03 156.13,388.75 156.65,388.48 157.16,388.21 157.68,387.94 158.2,387.68 158.72,387.41 159.24,387.16 159.76,386.91 160.28,386.66 160.8,386.41 161.32,386.17 161.84,385.94 162.36,385.7 162.88,385.48 163.4,385.25 163.92,385.03 164.44,384.82 164.96,384.61 165.47,384.4 165.99,384.2 166.51,384 167.03,383.81 167.55,383.62 168.07,383.44 168.59,383.26 169.11,383.09 169.63,382.92 170.15,382.75 170.67,382.59 171.19,382.44 171.71,382.29 172.23,382.14 172.75,382 173.27,381.86 173.79,381.73 174.3,381.6 174.82,381.47 175.34,381.34 175.86,381.22 176.38,381.09 176.9,380.97 177.42,380.86 177.94,380.74 178.46,380.62 178.98,380.5 179.5,380.39 180.02,380.27 180.54,380.15 181.06,380.04 181.58,379.92 182.1,379.8 182.62,379.68 183.13,379.56 183.65,379.43 184.17,379.31 184.69,379.18 185.21,379.05 185.73,378.92 186.25,378.79 186.77,378.65 187.29,378.52 187.81,378.39 188.33,378.26 188.85,378.13 189.37,378 189.89,377.86 190.41,377.73 190.93,377.6 191.44,377.47 191.96,377.33 192.48,377.2 193,377.07 193.52,376.93 194.04,376.8 194.56,376.67 195.08,376.53 195.6,376.4" fill="none" stroke="#1010ff" stroke-width="1.5" stroke-linejoin="round"/>
<polyline points="66.4,507.4 66.83,507.4 67.26,507.4 67.7,507.39 68.13,507.39 68.56,507.39 68.99,507.38 69.42,507.38 69.86,507.37 70.29,507.37 70.72,507.36 71.15,507.36 71.59,507.35 72.02,507.34 72.45,507.33 72.88,507.33 73.31,507.32 73.75,507.31 74.18,507.3 74.61,507.29 75.04,507.28 75.47,507.27 75.91,507.26 76.34,507.25 76.77,507.24 77.2,507.23 77.63,507.22 78.07,507.21 78.5,507.19 78.93,507.18 79.36,507.17 79.8,507.16 80.23,507.15 80.66,507.13 81.09,507.12 81.52,507.11 81.96,507.09 82.39,507.08 82.82,507.07 83.25,507.05 83.68,507.04 84.12,507.03 84.55,507.01 84.98,507 85.41,506.99 85.84,506.97 86.28,506.96 86.71,506.94 87.14,506.92 87.57,506.91 88.01,506.89 88.44,506.87 88.87,506.85 89.3,506.83 89.73,506.81 90.17,506.79 90.6,506.77 91.03,506.74 91.46,506.72 91.89,506.7 92.33,506.67 92.76,506.64 93.19,506.62 93.62,506.59 94.05,506.56 94.49,506.53 94.92,506.51 95.35,506.48 95.78,506.44 96.22,506.41 96.65,506.38 97.08,506.34 97.51,506.3 97.94,506.26 98.38,506.22 98.81,506.17 99.24,506.13 99.67,506.08 100.1,506.02 100.54,505.96 100.97,505.9 101.4,505.84 101.83,505.77 102.26,505.69 102.7,505.6 103.13,505.51 103.56,505.4 103.99,505.29 104.43,505.17 104.86,505.05 105.29,504.91 105.72,504.77 106.15,504.62 106.59,504.45 107.02,504.24 107.45,504.01 107.88,503.76 108.31,503.47 108.75,503.17 109.18,502.85 109.61,502.51 110.04,502.13 110.47,501.69 110.91,501.22 111.34,500.7 111.77,500.16 112.2,499.6 112.64,499 113.07,498.36 113.5,497.66 113.93,496.9 114.36,496.07 114.8,495.13 115.23,494.06 115.66,492.87 116.09,491.62 116.52,490.3 116.96,488.9 117.39,487.42 117.82,485.86 118.25,484.24 118.68,482.56 119.12,480.82 119.55,478.97 119.98,477.01 120.41,474.96 120.85,472.86 121.28,470.71 121.71,468.55 122.14,466.33 122.57,464.02 123.01,461.62 123.44,459.07 123.87,456.19 124.3,453.11 124.73,450.14 125.17,447.51 125.6,445.04 126.03,442.68 126.46,440.43 126.89,438.28 127.33,436.23 127.76,434.26 128.19,432.39 128.62,430.66 129.06,429.08 129.49,427.56 129.92,426.11 130.35,424.72 130.78,423.39 131.22,422.13 131.65,420.93 132.08,419.8 132.51,418.74 132.94,417.72 133.38,416.75 133.81,415.83 134.24,414.95 134.67,414.11 135.11,413.31 135.54,412.53 135.97,411.8 136.4,411.09 136.83,410.41 137.27,409.76 137.7,409.13 138.13,408.52 138.56,407.92 138.99,407.34 139.43,406.77 139.86,406.22 140.29,405.68 140.72,405.16 141.15,404.65 141.59,404.14 142.02,403.65 142.45,403.16 142.88,402.67 143.32,402.18 143.75,401.69 144.18,401.21 144.61,400.75 145.04,400.3 145.48,399.87 145.91,399.47 146.34,399.09 146.77,398.73 147.2,398.37 147.64,398.02 148.07,397.68 148.5,397.34 148.93,397.01 149.36,396.69 149.8,396.37 150.23,396.06 150.66,395.76 151.09,395.46 151.53,395.17 151.96,394.89 152.39,394.61 152.82,394.34 153.25,394.08 153.69,393.82 154.12,393.56 154.55,393.32 154.98,393.07 155.41,392.84 155.85,392.6 156.28,392.37 156.71,392.14 157.14,391.92 157.57,391.69 158.01,391.47 158.44,391.25 158.87,391.03 159.3,390.82 159.74,390.6 160.17,390.39 160.6,390.19 161.03,389.98 161.46,389.78 161.9,389.58 162.33,389.39 162.76,389.2 163.19,389.01 163.62,388.82 164.06,388.64 164.49,388.46 164.92,388.29 165.35,388.11 165.78,387.94 166.22,387.78 166.65,387.62 167.08,387.46 167.51,387.31 167.95,387.16 168.38,387.01 168.81,386.87 169.24,386.73 169.67,386.6 170.11,386.47 170.54,386.34 170.97,386.22 171.4,386.1 171.83,385.98 172.27,385.86 172.7,385.75 173.13,385.63 173.56,385.52 173.99,385.42 174.43,385.31 174.86,385.21 175.29,385.1 175.72,385 176.16,384.91 176.59,384.81 177.02,384.71 177.45,384.62 177.88,384.53 178.32,384.43 178.75,384.34 179.18,384.25 179.61,384.17 180.04,384.08 180.48,383.99 180.91,383.91 181.34,383.82 181.77,383.74 182.2,383.65 182.64,383.57 183.07,383.49 183.5,383.41 183.93,383.33 184.37,383.24 184.8,383.16 185.23,383.08 185.66,383 186.09,382.92 186.53,382.84 186.96,382.77 187.39,382.69 187.82,382.61 188.25,382.54 188.69,382.47 189.12,382.39 189.55,382.32 189.98,382.25 190.41,382.18 190.85,382.11 191.28,382.04 191.71,381.97 192.14,381.9 192.58,381.84 193.01,381.77 193.44,381.71 193.87,381.64 194.3,381.58 194.74,381.52 195.17,381.46 195.6,381.4" fill="none" stroke="#ff20ff" stroke-width="1.5" stroke-linejoin="round"/>
<polyline points="130.02,429.56 130.54,427.68 131.06,425.92 131.58,424.22 132.09,422.52 132.61,420.79 132.23,419.06 132.75,417.4 133.27,415.88 133.79,414.48 134.31,413.15 134.83,411.89 135.35,410.73 135.87,409.66 136.39,408.69 136.91,407.78 137.43,406.93 137.95,406.11 138.47,405.31 138.99,404.52 139.51,403.73 140.02,402.97 140.54,402.22 141.06,401.5 141.58,400.8 142.1,400.12 142.62,399.47 143.14,398.83 143.66,398.2 144.18,397.59 144.7,397 145.22,396.45 145.74,395.93 146.26,395.46 146.78,395.01 147.3,394.57 147.82,394.15 148.33,393.74 148.85,393.34 149.37,392.95 149.89,392.57 150.41,392.2 150.93,391.85 151.45,391.5 151.97,391.16 152.49,390.84 153.01,390.52 153.53,390.21 154.05,389.9 154.57,389.61 155.09,389.32 155.61,389.03 156.13,388.75 156.65,388.48 157.16,388.21 157.68,387.94 158.2,387.68 158.72,387.41 159.24,387.16 159.76,386.91 160.28,386.66 160.8,386.41 161.32,386.17 161.84,385.94 162.36,385.7 162.88,385.48 163.4,385.25 163.92,385.03 164.44,384.82 164.96,384.61 165.47,384.4 165.99,384.2 166.51,384 167.03,383.81 167.55,383.62 168.07,383.44 168.59,383.26 169.11,383.09 169.63,382.92 170.15,382.75 170.67,382.59 171.19,382.44 171.71,382.29 172.23,382.14 172.75,382 173.27,381.86 173.79,381.73 174.3,381.6 174.82,381.47 175.34,381.34 175.86,381.22 176.38,381.09 176.9,380.97 177.42,380.86 177.94,380.74 178.46,380.62 178.98,380.5 179.5,380.39 180.02,380.27 180.54,380.15 181.06,380.04 181.58,379.92 182.1,379.8 182.62,379.68 183.13,379.56 183.65,379.43 184.17,379.31 184.69,379.18 185.21,379.05 185.73,378.92 186.25,378.79 186.77,378.65 187.29,378.52 187.81,378.39 188.33,378.26 188.85,378.13 189.37,378 189.89,377.86 190.41,377.73 190.93,377.6 191.44,377.47 191.96,377.33 192.48,377.2 193,377.07 193.52,376.93 194.04,376.8 194.56,376.67 195.08,376.53 195.6,376.4" fill="none" stroke="#1010ff" stroke-width="1.5" stroke-linejoin="round"/>
<line x1="46.2" y1="379.2" x2="69.3" y2="379.2" stroke="#ff20ff" stroke-width="1.6"/>
<text x="71.5" y="383.2" font-size="10" text-anchor="start" fill="#000">24 h in</text>
<text x="46.7" y="395.2" font-size="10" text-anchor="start" fill="#000">cryogenic</text>
<text x="46.7" y="407.6" font-size="10" text-anchor="start" fill="#000">chamber (&lt;3 K)</text>
<text x="134.49" y="385" font-size="11.5" text-anchor="start" fill="#1010ff">-180</text>
<text x="157.81" y="380.63" font-size="8.28" text-anchor="start" fill="#1010ff" font-style="italic">0-</text>
<line x1="211.8" y1="381.4" x2="199" y2="381.4" stroke="#ff20ff" stroke-width="1"/>
<line x1="199" y1="381.4" x2="204" y2="384.4" stroke="#ff20ff" stroke-width="1"/>
<line x1="199" y1="381.4" x2="204" y2="378.4" stroke="#ff20ff" stroke-width="1"/>
<text x="159.3" y="458.3" font-size="11.5" text-anchor="start" fill="#000">origin</text>
<text x="155.9" y="502.5" font-size="11.8" text-anchor="start" fill="#000">S1_B#</text>
<text x="118.7" y="541.6" font-size="13.8" text-anchor="middle"><tspan font-style="italic">T</tspan> (K)</text>
<g transform="translate(11,442.6) rotate(-90)"><text x="0" y="0" font-size="14.3" text-anchor="middle"><tspan font-style="italic">R</tspan><tspan font-size="10" dy="3.3">s</tspan><tspan dy="-3.3"> (kΩ/sq)</tspan></text></g>
<text x="5.6" y="362" font-size="19" text-anchor="start" fill="#000">g</text>
<rect x="270.3" y="372.5" width="164.4" height="136.2" fill="none" stroke="#333" stroke-width="1"/>
<line x1="270.3" y1="372.5" x2="270.3" y2="508.7" stroke="#222" stroke-width="1.1"/>
<line x1="270.3" y1="508.7" x2="434.7" y2="508.7" stroke="#222" stroke-width="1.1"/>
<line x1="270.3" y1="508.7" x2="273.3" y2="508.7" stroke="#222" stroke-width="1"/>
<text x="266.3" y="512.8" font-size="11.8" text-anchor="end" fill="#000">0.0</text>
<line x1="270.3" y1="472.87" x2="273.3" y2="472.87" stroke="#222" stroke-width="1"/>
<text x="266.3" y="476.97" font-size="11.8" text-anchor="end" fill="#000">0.5</text>
<line x1="270.3" y1="437.04" x2="273.3" y2="437.04" stroke="#222" stroke-width="1"/>
<text x="266.3" y="441.14" font-size="11.8" text-anchor="end" fill="#000">1.0</text>
<line x1="270.3" y1="401.21" x2="273.3" y2="401.21" stroke="#222" stroke-width="1"/>
<text x="266.3" y="405.31" font-size="11.8" text-anchor="end" fill="#000">1.5</text>
<line x1="270.3" y1="490.78" x2="272.1" y2="490.78" stroke="#222" stroke-width="0.8"/>
<line x1="270.3" y1="454.95" x2="272.1" y2="454.95" stroke="#222" stroke-width="0.8"/>
<line x1="270.3" y1="419.12" x2="272.1" y2="419.12" stroke="#222" stroke-width="0.8"/>
<line x1="270.3" y1="383.29" x2="272.1" y2="383.29" stroke="#222" stroke-width="0.8"/>
<line x1="298.2" y1="508.7" x2="298.2" y2="505.7" stroke="#222" stroke-width="1"/>
<text x="298.2" y="521.3" font-size="11.8" text-anchor="middle" fill="#000">1.6</text>
<line x1="335.77" y1="508.7" x2="335.77" y2="505.7" stroke="#222" stroke-width="1"/>
<text x="335.77" y="521.3" font-size="11.8" text-anchor="middle" fill="#000">2.4</text>
<line x1="373.34" y1="508.7" x2="373.34" y2="505.7" stroke="#222" stroke-width="1"/>
<text x="373.34" y="521.3" font-size="11.8" text-anchor="middle" fill="#000">3.2</text>
<line x1="410.9" y1="508.7" x2="410.9" y2="505.7" stroke="#222" stroke-width="1"/>
<text x="410.9" y="521.3" font-size="11.8" text-anchor="middle" fill="#000">4.0</text>
<line x1="279.42" y1="508.7" x2="279.42" y2="506.9" stroke="#222" stroke-width="0.8"/>
<line x1="316.98" y1="508.7" x2="316.98" y2="506.9" stroke="#222" stroke-width="0.8"/>
<line x1="354.55" y1="508.7" x2="354.55" y2="506.9" stroke="#222" stroke-width="0.8"/>
<line x1="392.12" y1="508.7" x2="392.12" y2="506.9" stroke="#222" stroke-width="0.8"/>
<line x1="429.69" y1="508.7" x2="429.69" y2="506.9" stroke="#222" stroke-width="0.8"/>
<polyline points="270.3,508.3 270.85,508.29 271.4,508.28 271.95,508.27 272.5,508.26 273.05,508.25 273.6,508.24 274.15,508.23 274.7,508.22 275.25,508.21 275.8,508.2 276.35,508.19 276.9,508.17 277.45,508.16 278,508.15 278.55,508.14 279.1,508.12 279.65,508.11 280.2,508.1 280.75,508.08 281.3,508.07 281.85,508.06 282.4,508.04 282.95,508.03 283.5,508.02 284.05,508 284.6,507.99 285.15,507.97 285.7,507.96 286.25,507.94 286.79,507.92 287.34,507.9 287.89,507.88 288.44,507.86 288.99,507.84 289.54,507.81 290.09,507.78 290.64,507.75 291.19,507.72 291.74,507.67 292.29,507.62 292.84,507.57 293.39,507.52 293.94,507.46 294.49,507.39 295.04,507.33 295.59,507.25 296.14,507.18 296.69,507.1 297.24,507.01 297.79,506.91 298.34,506.8 298.89,506.68 299.44,506.54 299.99,506.39 300.54,506.22 301.09,506.02 301.64,505.77 302.19,505.49 302.74,505.18 303.29,504.84 303.84,504.46 304.39,504.01 304.94,503.5 305.49,502.92 306.04,502.26 306.59,501.46 307.14,500.51 307.69,499.37 308.24,497.88 308.79,495.89 309.34,493.46 309.89,490.67 310.44,487.44 310.99,484.33 311.54,481.39 312.09,478.69 312.64,476.35 313.19,474.17 313.74,472.27 314.29,470.8 314.84,469.6 315.39,468.52 315.94,467.57 316.49,466.75 317.04,466.07 317.59,465.53 318.14,465.05 318.69,464.61 319.24,464.2 319.78,463.84 320.33,463.5 320.88,463.2 321.43,462.93 321.98,462.68 322.53,462.46 323.08,462.26 323.63,462.07 324.18,461.89 324.73,461.73 325.28,461.57 325.83,461.42 326.38,461.28 326.93,461.15 327.48,461.02 328.03,460.9 328.58,460.79 329.13,460.68 329.68,460.57 330.23,460.47 330.78,460.37 331.33,460.27 331.88,460.18 332.43,460.09 332.98,460 333.53,459.91 334.08,459.83 334.63,459.75 335.18,459.68 335.73,459.6 336.28,459.53 336.83,459.46 337.38,459.39 337.93,459.32 338.48,459.26 339.03,459.2 339.58,459.14 340.13,459.08 340.68,459.02 341.23,458.96 341.78,458.9 342.33,458.84 342.88,458.78 343.43,458.72 343.98,458.67 344.53,458.61 345.08,458.56 345.63,458.51 346.18,458.46 346.73,458.42 347.28,458.37 347.83,458.33 348.38,458.29 348.93,458.26 349.48,458.23 350.03,458.2 350.58,458.17 351.13,458.15 351.68,458.12 352.23,458.1 352.77,458.07 353.32,458.05 353.87,458.02 354.42,458 354.97,457.98 355.52,457.96 356.07,457.94 356.62,457.92 357.17,457.9 357.72,457.88 358.27,457.86 358.82,457.84 359.37,457.82 359.92,457.8 360.47,457.78 361.02,457.76 361.57,457.75 362.12,457.73 362.67,457.71 363.22,457.7 363.77,457.68 364.32,457.67 364.87,457.65 365.42,457.64 365.97,457.62 366.52,457.61 367.07,457.59 367.62,457.58 368.17,457.56 368.72,457.55 369.27,457.54 369.82,457.52 370.37,457.51 370.92,457.5 371.47,457.49 372.02,457.47 372.57,457.46 373.12,457.45 373.67,457.44 374.22,457.42 374.77,457.41 375.32,457.4 375.87,457.39 376.42,457.38 376.97,457.36 377.52,457.35 378.07,457.34 378.62,457.33 379.17,457.32 379.72,457.31 380.27,457.29 380.82,457.28 381.37,457.27 381.92,457.26 382.47,457.25 383.02,457.24 383.57,457.23 384.12,457.22 384.67,457.21 385.22,457.2 385.76,457.19 386.31,457.18 386.86,457.17 387.41,457.16 387.96,457.15 388.51,457.14 389.06,457.13 389.61,457.12 390.16,457.11 390.71,457.1 391.26,457.09 391.81,457.08 392.36,457.07 392.91,457.06 393.46,457.06 394.01,457.05 394.56,457.04 395.11,457.03 395.66,457.02 396.21,457.01 396.76,457 397.31,457 397.86,456.99 398.41,456.98 398.96,456.97 399.51,456.96 400.06,456.95 400.61,456.95 401.16,456.94 401.71,456.93 402.26,456.92 402.81,456.91 403.36,456.9 403.91,456.9 404.46,456.89 405.01,456.88 405.56,456.87 406.11,456.86 406.66,456.85 407.21,456.84 407.76,456.84 408.31,456.83 408.86,456.82 409.41,456.81 409.96,456.8 410.51,456.79 411.06,456.78 411.61,456.77 412.16,456.76 412.71,456.76 413.26,456.75 413.81,456.74 414.36,456.73 414.91,456.72 415.46,456.71 416.01,456.7 416.56,456.69 417.11,456.68 417.66,456.67 418.21,456.67 418.75,456.66 419.3,456.65 419.85,456.64 420.4,456.63 420.95,456.62 421.5,456.61 422.05,456.6 422.6,456.59 423.15,456.59 423.7,456.58 424.25,456.57 424.8,456.56 425.35,456.55 425.9,456.54 426.45,456.53 427,456.52 427.55,456.51 428.1,456.51 428.65,456.5 429.2,456.49 429.75,456.48 430.3,456.47 430.85,456.46 431.4,456.45 431.95,456.44 432.5,456.44 433.05,456.43 433.6,456.42 434.15,456.41 434.7,456.4" fill="none" stroke="#303030" stroke-width="2.5" stroke-linejoin="round"/>
<polyline points="270.3,508.3 270.85,508.29 271.4,508.28 271.95,508.27 272.5,508.26 273.05,508.25 273.6,508.24 274.15,508.23 274.7,508.22 275.25,508.21 275.8,508.2 276.35,508.19 276.9,508.17 277.45,508.16 278,508.15 278.55,508.14 279.1,508.12 279.65,508.11 280.2,508.1 280.75,508.08 281.3,508.07 281.85,508.06 282.4,508.04 282.95,508.03 283.5,508.02 284.05,508 284.6,507.99 285.15,507.97 285.7,507.96 286.25,507.94 286.79,507.92 287.34,507.9 287.89,507.88 288.44,507.86 288.99,507.84 289.54,507.81 290.09,507.78 290.64,507.75 291.19,507.72 291.74,507.67 292.29,507.62 292.84,507.57 293.39,507.52 293.94,507.46 294.49,507.39 295.04,507.33 295.59,507.25 296.14,507.18 296.69,507.1 297.24,507.01 297.79,506.91 298.34,506.8 298.89,506.68 299.44,506.54 299.99,506.39 300.54,506.22 301.09,506.02 301.64,505.77 302.19,505.49 302.74,505.18 303.29,504.84 303.84,504.46 304.39,504.01 304.94,503.5 305.49,502.92 306.04,502.26 306.59,501.46 307.14,500.51 307.69,499.37 308.24,497.88 308.79,495.89 309.34,493.46 309.89,490.67 310.44,487.44 310.99,484.33 311.54,481.39 312.09,478.69 312.64,476.35 313.19,474.17 313.74,472.27 314.29,470.8 314.84,469.6 315.39,468.52 315.94,467.57 316.49,466.75 317.04,466.07 317.59,465.53 318.14,465.05 318.69,464.61 319.24,464.2 319.78,463.84 320.33,463.5 320.88,463.2 321.43,462.93 321.98,462.68 322.53,462.46 323.08,462.26 323.63,462.07 324.18,461.89 324.73,461.73 325.28,461.57 325.83,461.42 326.38,461.28 326.93,461.15 327.48,461.02 328.03,460.9 328.58,460.79 329.13,460.68 329.68,460.57 330.23,460.47 330.78,460.37 331.33,460.27 331.88,460.18 332.43,460.09 332.98,460 333.53,459.91 334.08,459.83 334.63,459.75 335.18,459.68 335.73,459.6 336.28,459.53 336.83,459.46 337.38,459.39 337.93,459.32 338.48,459.26 339.03,459.2 339.58,459.14 340.13,459.08 340.68,459.02 341.23,458.96 341.78,458.9 342.33,458.84 342.88,458.78 343.43,458.72 343.98,458.67 344.53,458.61 345.08,458.56 345.63,458.51 346.18,458.46 346.73,458.42 347.28,458.37 347.83,458.33 348.38,458.29 348.93,458.26 349.48,458.23 350.03,458.2 350.58,458.17 351.13,458.15 351.68,458.12 352.23,458.1 352.77,458.07 353.32,458.05 353.87,458.02 354.42,458 354.97,457.98 355.52,457.96 356.07,457.94 356.62,457.92 357.17,457.9 357.72,457.88 358.27,457.86 358.82,457.84 359.37,457.82 359.92,457.8 360.47,457.78 361.02,457.76 361.57,457.75 362.12,457.73 362.67,457.71 363.22,457.7 363.77,457.68 364.32,457.67 364.87,457.65 365.42,457.64 365.97,457.62 366.52,457.61 367.07,457.59 367.62,457.58 368.17,457.56 368.72,457.55 369.27,457.54 369.82,457.52 370.37,457.51 370.92,457.5 371.47,457.49 372.02,457.47 372.57,457.46 373.12,457.45 373.67,457.44 374.22,457.42 374.77,457.41 375.32,457.4 375.87,457.39 376.42,457.38 376.97,457.36 377.52,457.35 378.07,457.34 378.62,457.33 379.17,457.32 379.72,457.31 380.27,457.29 380.82,457.28 381.37,457.27 381.92,457.26 382.47,457.25 383.02,457.24 383.57,457.23 384.12,457.22 384.67,457.21 385.22,457.2 385.76,457.19 386.31,457.18 386.86,457.17 387.41,457.16 387.96,457.15 388.51,457.14 389.06,457.13 389.61,457.12 390.16,457.11 390.71,457.1 391.26,457.09 391.81,457.08 392.36,457.07 392.91,457.06 393.46,457.06 394.01,457.05 394.56,457.04 395.11,457.03 395.66,457.02 396.21,457.01 396.76,457 397.31,457 397.86,456.99 398.41,456.98 398.96,456.97 399.51,456.96 400.06,456.95 400.61,456.95 401.16,456.94 401.71,456.93 402.26,456.92 402.81,456.91 403.36,456.9 403.91,456.9 404.46,456.89 405.01,456.88 405.56,456.87 406.11,456.86 406.66,456.85 407.21,456.84 407.76,456.84 408.31,456.83 408.86,456.82 409.41,456.81 409.96,456.8 410.51,456.79 411.06,456.78 411.61,456.77 412.16,456.76 412.71,456.76 413.26,456.75 413.81,456.74 414.36,456.73 414.91,456.72 415.46,456.71 416.01,456.7 416.56,456.69 417.11,456.68 417.66,456.67 418.21,456.67 418.75,456.66 419.3,456.65 419.85,456.64 420.4,456.63 420.95,456.62 421.5,456.61 422.05,456.6 422.6,456.59 423.15,456.59 423.7,456.58 424.25,456.57 424.8,456.56 425.35,456.55 425.9,456.54 426.45,456.53 427,456.52 427.55,456.51 428.1,456.51 428.65,456.5 429.2,456.49 429.75,456.48 430.3,456.47 430.85,456.46 431.4,456.45 431.95,456.44 432.5,456.44 433.05,456.43 433.6,456.42 434.15,456.41 434.7,456.4" fill="none" stroke="#ff1c1c" stroke-width="1.8" stroke-linejoin="round"/>
<polyline points="270.3,508.5 270.85,508.5 271.4,508.5 271.95,508.5 272.5,508.5 273.05,508.5 273.6,508.5 274.15,508.5 274.7,508.5 275.25,508.49 275.8,508.49 276.35,508.49 276.9,508.49 277.45,508.49 278,508.49 278.55,508.48 279.1,508.48 279.65,508.48 280.2,508.48 280.75,508.47 281.3,508.47 281.85,508.47 282.4,508.47 282.95,508.46 283.5,508.46 284.05,508.46 284.6,508.45 285.15,508.45 285.7,508.45 286.25,508.44 286.79,508.44 287.34,508.43 287.89,508.43 288.44,508.43 288.99,508.42 289.54,508.42 290.09,508.41 290.64,508.41 291.19,508.4 291.74,508.4 292.29,508.39 292.84,508.39 293.39,508.38 293.94,508.37 294.49,508.37 295.04,508.36 295.59,508.36 296.14,508.35 296.69,508.34 297.24,508.34 297.79,508.33 298.34,508.32 298.89,508.32 299.44,508.31 299.99,508.3 300.54,508.3 301.09,508.29 301.64,508.28 302.19,508.26 302.74,508.25 303.29,508.23 303.84,508.21 304.39,508.19 304.94,508.17 305.49,508.15 306.04,508.12 306.59,508.1 307.14,508.07 307.69,508.04 308.24,508.01 308.79,507.98 309.34,507.95 309.89,507.92 310.44,507.89 310.99,507.86 311.54,507.83 312.09,507.79 312.64,507.76 313.19,507.73 313.74,507.69 314.29,507.65 314.84,507.61 315.39,507.56 315.94,507.51 316.49,507.46 317.04,507.41 317.59,507.35 318.14,507.28 318.69,507.21 319.24,507.13 319.78,507.03 320.33,506.93 320.88,506.82 321.43,506.7 321.98,506.57 322.53,506.44 323.08,506.3 323.63,506.14 324.18,505.97 324.73,505.78 325.28,505.58 325.83,505.37 326.38,505.14 326.93,504.9 327.48,504.62 328.03,504.28 328.58,503.81 329.13,503.19 329.68,502.47 330.23,501.6 330.78,500.5 331.33,499.22 331.88,497.73 332.43,495.98 332.98,493.98 333.53,491.68 334.08,488.86 334.63,485.66 335.18,482.32 335.73,478.82 336.28,475.1 336.83,471.32 337.38,467.5 337.93,463.48 338.48,459.01 339.03,454.5 339.58,450.5 340.13,446.81 340.68,443.27 341.23,439.68 341.78,436.18 342.33,433.46 342.88,431.47 343.43,429.78 343.98,428.1 344.53,426.26 345.08,424.38 345.63,422.52 346.18,420.73 346.73,418.94 347.28,417.18 347.83,415.53 348.38,414.04 348.93,412.67 349.48,411.38 350.03,410.18 350.58,409.05 351.13,407.98 351.68,406.96 352.23,406.01 352.77,405.1 353.32,404.26 353.87,403.46 354.42,402.69 354.97,401.97 355.52,401.28 356.07,400.64 356.62,400.04 357.17,399.48 357.72,398.94 358.27,398.43 358.82,397.94 359.37,397.47 359.92,397.02 360.47,396.57 361.02,396.13 361.57,395.69 362.12,395.26 362.67,394.84 363.22,394.43 363.77,394.02 364.32,393.63 364.87,393.25 365.42,392.89 365.97,392.54 366.52,392.21 367.07,391.89 367.62,391.59 368.17,391.32 368.72,391.05 369.27,390.79 369.82,390.53 370.37,390.28 370.92,390.04 371.47,389.8 372.02,389.57 372.57,389.35 373.12,389.13 373.67,388.92 374.22,388.71 374.77,388.51 375.32,388.31 375.87,388.12 376.42,387.93 376.97,387.75 377.52,387.57 378.07,387.4 378.62,387.23 379.17,387.06 379.72,386.9 380.27,386.74 380.82,386.58 381.37,386.43 381.92,386.28 382.47,386.13 383.02,385.98 383.57,385.84 384.12,385.7 384.67,385.56 385.22,385.42 385.76,385.29 386.31,385.16 386.86,385.03 387.41,384.9 387.96,384.77 388.51,384.65 389.06,384.53 389.61,384.41 390.16,384.29 390.71,384.18 391.26,384.07 391.81,383.95 392.36,383.85 392.91,383.74 393.46,383.63 394.01,383.53 394.56,383.43 395.11,383.33 395.66,383.23 396.21,383.14 396.76,383.04 397.31,382.95 397.86,382.86 398.41,382.77 398.96,382.68 399.51,382.59 400.06,382.5 400.61,382.41 401.16,382.33 401.71,382.24 402.26,382.16 402.81,382.07 403.36,381.99 403.91,381.91 404.46,381.83 405.01,381.75 405.56,381.68 406.11,381.6 406.66,381.53 407.21,381.46 407.76,381.39 408.31,381.32 408.86,381.25 409.41,381.18 409.96,381.12 410.51,381.06 411.06,381 411.61,380.94 412.16,380.88 412.71,380.83 413.26,380.78 413.81,380.73 414.36,380.68 414.91,380.63 415.46,380.58 416.01,380.54 416.56,380.49 417.11,380.44 417.66,380.4 418.21,380.35 418.75,380.31 419.3,380.26 419.85,380.22 420.4,380.18 420.95,380.14 421.5,380.09 422.05,380.05 422.6,380.01 423.15,379.97 423.7,379.94 424.25,379.9 424.8,379.86 425.35,379.83 425.9,379.79 426.45,379.76 427,379.73 427.55,379.69 428.1,379.66 428.65,379.63 429.2,379.61 429.75,379.58 430.3,379.55 430.85,379.53 431.4,379.51 431.95,379.49 432.5,379.47 433.05,379.45 433.6,379.43 434.15,379.41 434.7,379.4" fill="none" stroke="#1010ff" stroke-width="1.6" stroke-linejoin="round"/>
<line x1="276.2" y1="379.8" x2="299.3" y2="379.8" stroke="#ff1c1c" stroke-width="2"/>
<text x="301.8" y="383.2" font-size="10" text-anchor="start" fill="#000">5 days in</text>
<text x="276.7" y="395.2" font-size="10" text-anchor="start" fill="#000">ambient</text>
<text x="276.7" y="407.6" font-size="10" text-anchor="start" fill="#000">conditions</text>
<text x="392.49" y="397.5" font-size="11.5" text-anchor="start" fill="#1010ff">-180</text>
<text x="415.81" y="393.13" font-size="8.28" text-anchor="start" fill="#1010ff" font-style="italic">0-</text>
<text x="378.3" y="450" font-size="11.5" text-anchor="start" fill="#000">origin</text>
<line x1="454.5" y1="456.2" x2="440" y2="456.2" stroke="#ee1010" stroke-width="1"/>
<line x1="440" y1="456.2" x2="445" y2="459.2" stroke="#ee1010" stroke-width="1"/>
<line x1="440" y1="456.2" x2="445" y2="453.2" stroke="#ee1010" stroke-width="1"/>
<text x="421.5" y="470.3" font-size="10" text-anchor="start" fill="#ee1010">Refresh</text>
<text x="393.1" y="500.6" font-size="11.8" text-anchor="start" fill="#000">S1_C#</text>
<text x="351" y="541.6" font-size="13.8" text-anchor="middle"><tspan font-style="italic">T</tspan> (K)</text>
<g transform="translate(241.3,442) rotate(-90)"><text x="0" y="0" font-size="14.3" text-anchor="middle"><tspan font-style="italic">R</tspan><tspan font-size="10" dy="3.3">s</tspan><tspan dy="-3.3"> (kΩ/sq)</tspan></text></g>
<text x="236.8" y="364.8" font-size="19" text-anchor="start" fill="#000">h</text>
</svg></body></html>
